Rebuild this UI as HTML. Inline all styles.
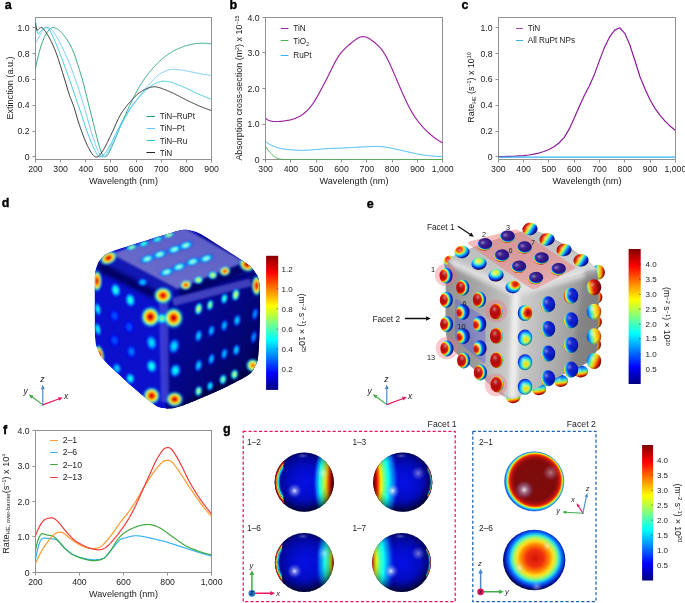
<!DOCTYPE html>
<html><head><meta charset="utf-8"><title>figure</title>
<style>html,body{margin:0;padding:0;background:#fff;}svg{display:block;will-change:transform;}text{-webkit-font-smoothing:antialiased;}</style>
</head><body>
<svg width="685" height="603" viewBox="0 0 685 603">
<rect x="0" y="0" width="685" height="603" fill="#ffffff"/>
<rect x="35.50" y="17.50" width="176.00" height="142.00" fill="none" stroke="#929292" stroke-width="1"/>
<line x1="35.50" y1="159.50" x2="35.50" y2="162.50" stroke="#929292" stroke-width="1"/>
<text x="35.40" y="172.20" font-size="8.70" text-anchor="middle" fill="#222" font-weight="normal" font-family="Liberation Sans, sans-serif" >200</text>
<line x1="60.50" y1="159.50" x2="60.50" y2="162.50" stroke="#929292" stroke-width="1"/>
<text x="60.57" y="172.20" font-size="8.70" text-anchor="middle" fill="#222" font-weight="normal" font-family="Liberation Sans, sans-serif" >300</text>
<line x1="85.50" y1="159.50" x2="85.50" y2="162.50" stroke="#929292" stroke-width="1"/>
<text x="85.74" y="172.20" font-size="8.70" text-anchor="middle" fill="#222" font-weight="normal" font-family="Liberation Sans, sans-serif" >400</text>
<line x1="110.50" y1="159.50" x2="110.50" y2="162.50" stroke="#929292" stroke-width="1"/>
<text x="110.91" y="172.20" font-size="8.70" text-anchor="middle" fill="#222" font-weight="normal" font-family="Liberation Sans, sans-serif" >500</text>
<line x1="136.50" y1="159.50" x2="136.50" y2="162.50" stroke="#929292" stroke-width="1"/>
<text x="136.08" y="172.20" font-size="8.70" text-anchor="middle" fill="#222" font-weight="normal" font-family="Liberation Sans, sans-serif" >600</text>
<line x1="161.50" y1="159.50" x2="161.50" y2="162.50" stroke="#929292" stroke-width="1"/>
<text x="161.25" y="172.20" font-size="8.70" text-anchor="middle" fill="#222" font-weight="normal" font-family="Liberation Sans, sans-serif" >700</text>
<line x1="186.50" y1="159.50" x2="186.50" y2="162.50" stroke="#929292" stroke-width="1"/>
<text x="186.42" y="172.20" font-size="8.70" text-anchor="middle" fill="#222" font-weight="normal" font-family="Liberation Sans, sans-serif" >800</text>
<line x1="211.50" y1="159.50" x2="211.50" y2="162.50" stroke="#929292" stroke-width="1"/>
<text x="211.59" y="172.20" font-size="8.70" text-anchor="middle" fill="#222" font-weight="normal" font-family="Liberation Sans, sans-serif" >900</text>
<line x1="32.50" y1="156.50" x2="35.50" y2="156.50" stroke="#929292" stroke-width="1"/>
<text x="29.50" y="160.10" font-size="8.70" text-anchor="end" fill="#222" font-weight="normal" font-family="Liberation Sans, sans-serif" >0</text>
<line x1="32.50" y1="131.50" x2="35.50" y2="131.50" stroke="#929292" stroke-width="1"/>
<text x="29.50" y="134.20" font-size="8.70" text-anchor="end" fill="#222" font-weight="normal" font-family="Liberation Sans, sans-serif" >0.2</text>
<line x1="32.50" y1="105.50" x2="35.50" y2="105.50" stroke="#929292" stroke-width="1"/>
<text x="29.50" y="108.30" font-size="8.70" text-anchor="end" fill="#222" font-weight="normal" font-family="Liberation Sans, sans-serif" >0.4</text>
<line x1="32.50" y1="79.50" x2="35.50" y2="79.50" stroke="#929292" stroke-width="1"/>
<text x="29.50" y="82.40" font-size="8.70" text-anchor="end" fill="#222" font-weight="normal" font-family="Liberation Sans, sans-serif" >0.6</text>
<line x1="32.50" y1="53.50" x2="35.50" y2="53.50" stroke="#929292" stroke-width="1"/>
<text x="29.50" y="56.50" font-size="8.70" text-anchor="end" fill="#222" font-weight="normal" font-family="Liberation Sans, sans-serif" >0.8</text>
<line x1="32.50" y1="27.50" x2="35.50" y2="27.50" stroke="#929292" stroke-width="1"/>
<text x="29.50" y="30.60" font-size="8.70" text-anchor="end" fill="#222" font-weight="normal" font-family="Liberation Sans, sans-serif" >1.0</text>
<text x="123.50" y="184.20" font-size="9.10" text-anchor="middle" fill="#222" font-weight="normal" font-family="Liberation Sans, sans-serif" >Wavelength (nm)</text>
<text transform="translate(12.5,88) rotate(-90)" font-size="9.1" text-anchor="middle" fill="#222" font-family="Liberation Sans, sans-serif">Extinction (a.u.)</text>
<clipPath id="clipa"><rect x="35.50" y="17.50" width="176.00" height="142.00"/></clipPath><g clip-path="url(#clipa)">
<path d="M35.40 68.94 L35.99 66.03 L36.58 63.23 L37.17 60.55 L37.76 58.00 L38.35 55.56 L38.94 53.25 L39.52 51.07 L40.11 49.02 L40.70 47.10 L41.29 45.27 L41.88 43.54 L42.47 41.90 L43.06 40.35 L43.65 38.90 L44.24 37.55 L44.83 36.30 L45.42 35.14 L46.01 34.09 L46.60 33.14 L47.19 32.25 L47.77 31.42 L48.36 30.65 L48.95 29.94 L49.54 29.31 L50.13 28.76 L50.72 28.30 L51.31 27.93 L51.90 27.67 L52.49 27.52 L53.08 27.48 L53.67 27.55 L54.26 27.67 L54.85 27.82 L55.43 28.02 L56.02 28.26 L56.61 28.54 L57.20 28.87 L57.79 29.24 L58.38 29.66 L58.97 30.12 L59.56 30.63 L60.15 31.19 L60.74 31.79 L61.33 32.43 L61.92 33.08 L62.51 33.75 L63.10 34.44 L63.68 35.16 L64.27 35.90 L64.86 36.67 L65.45 37.47 L66.04 38.30 L66.63 39.15 L67.22 40.04 L67.81 40.96 L68.40 41.91 L68.99 42.89 L69.58 43.90 L70.17 44.95 L70.76 46.05 L71.35 47.21 L71.93 48.44 L72.52 49.73 L73.11 51.11 L73.70 52.58 L74.29 54.14 L74.88 55.77 L75.47 57.46 L76.06 59.21 L76.65 60.99 L77.24 62.82 L77.83 64.68 L78.42 66.57 L79.01 68.48 L79.59 70.40 L80.18 72.30 L80.77 74.20 L81.36 76.14 L81.95 78.12 L82.54 80.19 L83.13 82.35 L83.72 84.63 L84.31 86.98 L84.90 89.36 L85.49 91.76 L86.08 94.17 L86.67 96.56 L87.26 98.94 L87.84 101.28 L88.43 103.61 L89.02 105.94 L89.61 108.26 L90.20 110.59 L90.79 112.93 L91.38 115.28 L91.97 117.65 L92.56 120.04 L93.15 122.44 L93.74 124.84 L94.33 127.24 L94.92 129.62 L95.50 131.96 L96.09 134.25 L96.68 136.52 L97.27 138.77 L97.86 141.00 L98.45 143.23 L99.04 145.35 L99.63 147.32 L100.22 149.17 L100.81 150.92 L101.40 152.61 L101.99 154.07 L102.58 155.19 L103.17 155.98 L103.75 156.46 L104.34 156.66 L104.93 156.71 L105.52 156.63 L106.11 156.40 L106.70 156.00 L107.29 155.42 L107.88 154.65 L108.47 153.66 L109.06 152.47 L109.65 151.25 L110.24 150.02 L110.83 148.78 L111.42 147.52 L112.00 146.25 L112.59 144.95 L113.18 143.64 L113.77 142.30 L114.36 140.93 L114.95 139.53 L115.54 138.13 L116.13 136.71 L116.72 135.28 L117.31 133.85 L117.90 132.42 L118.49 130.99 L119.08 129.56 L119.66 128.14 L120.25 126.72 L120.84 125.31 L121.43 123.92 L122.02 122.53 L122.61 121.17 L123.20 119.81 L123.79 118.46 L124.38 117.13 L124.97 115.80 L125.56 114.48 L126.15 113.18 L126.74 111.88 L127.33 110.59 L127.91 109.31 L128.50 108.03 L129.09 106.77 L129.68 105.51 L130.27 104.27 L130.86 103.03 L131.45 101.79 L132.04 100.57 L132.63 99.35 L133.22 98.15 L133.81 96.97 L134.40 95.81 L134.99 94.67 L135.57 93.54 L136.16 92.43 L136.75 91.34 L137.34 90.27 L137.93 89.22 L138.52 88.19 L139.11 87.17 L139.70 86.18 L140.29 85.20 L140.88 84.24 L141.47 83.30 L142.06 82.38 L142.65 81.47 L143.24 80.59 L143.82 79.72 L144.41 78.86 L145.00 78.03 L145.59 77.20 L146.18 76.40 L146.77 75.60 L147.36 74.83 L147.95 74.06 L148.54 73.31 L149.13 72.57 L149.72 71.85 L150.31 71.14 L150.90 70.44 L151.49 69.75 L152.07 69.07 L152.66 68.40 L153.25 67.74 L153.84 67.09 L154.43 66.44 L155.02 65.80 L155.61 65.17 L156.20 64.54 L156.79 63.93 L157.38 63.33 L157.97 62.74 L158.56 62.16 L159.15 61.59 L159.73 61.03 L160.32 60.49 L160.91 59.96 L161.50 59.44 L162.09 58.94 L162.68 58.45 L163.27 57.96 L163.86 57.49 L164.45 57.02 L165.04 56.56 L165.63 56.11 L166.22 55.67 L166.81 55.24 L167.40 54.82 L167.98 54.40 L168.57 54.00 L169.16 53.60 L169.75 53.22 L170.34 52.84 L170.93 52.47 L171.52 52.12 L172.11 51.77 L172.70 51.43 L173.29 51.10 L173.88 50.79 L174.47 50.48 L175.06 50.18 L175.64 49.88 L176.23 49.59 L176.82 49.31 L177.41 49.03 L178.00 48.76 L178.59 48.50 L179.18 48.24 L179.77 47.99 L180.36 47.74 L180.95 47.51 L181.54 47.28 L182.13 47.05 L182.72 46.84 L183.31 46.63 L183.89 46.42 L184.48 46.23 L185.07 46.04 L185.66 45.85 L186.25 45.68 L186.84 45.51 L187.43 45.35 L188.02 45.19 L188.61 45.03 L189.20 44.89 L189.79 44.74 L190.38 44.61 L190.97 44.48 L191.56 44.35 L192.14 44.23 L192.73 44.12 L193.32 44.01 L193.91 43.91 L194.50 43.81 L195.09 43.72 L195.68 43.64 L196.27 43.56 L196.86 43.49 L197.45 43.43 L198.04 43.38 L198.63 43.33 L199.22 43.28 L199.80 43.25 L200.39 43.22 L200.98 43.20 L201.57 43.18 L202.16 43.18 L202.75 43.18 L203.34 43.18 L203.93 43.19 L204.52 43.21 L205.11 43.24 L205.70 43.27 L206.29 43.31 L206.88 43.35 L207.47 43.40 L208.05 43.46 L208.64 43.53 L209.23 43.60 L209.82 43.68 L210.41 43.76 L211.00 43.85 L211.59 43.95" fill="none" stroke="#1e9e78" stroke-width="0.90" stroke-linejoin="round" stroke-linecap="butt"/>
<path d="M35.40 43.69 L35.99 42.64 L36.58 41.58 L37.17 40.51 L37.76 39.44 L38.35 38.37 L38.94 37.27 L39.52 36.14 L40.11 35.01 L40.70 33.88 L41.29 32.77 L41.88 31.69 L42.47 30.74 L43.06 29.93 L43.65 29.25 L44.24 28.70 L44.83 28.26 L45.42 27.94 L46.01 27.71 L46.60 27.56 L47.19 27.50 L47.77 27.52 L48.36 27.61 L48.95 27.78 L49.54 28.04 L50.13 28.38 L50.72 28.80 L51.31 29.30 L51.90 29.89 L52.49 30.56 L53.08 31.33 L53.67 32.17 L54.26 33.06 L54.85 33.96 L55.43 34.88 L56.02 35.81 L56.61 36.76 L57.20 37.74 L57.79 38.74 L58.38 39.76 L58.97 40.81 L59.56 41.90 L60.15 43.01 L60.74 44.16 L61.33 45.35 L61.92 46.57 L62.51 47.80 L63.10 49.04 L63.68 50.30 L64.27 51.56 L64.86 52.85 L65.45 54.14 L66.04 55.46 L66.63 56.80 L67.22 58.17 L67.81 59.56 L68.40 60.98 L68.99 62.41 L69.58 63.85 L70.17 65.32 L70.76 66.81 L71.35 68.31 L71.93 69.85 L72.52 71.40 L73.11 72.99 L73.70 74.61 L74.29 76.26 L74.88 77.93 L75.47 79.62 L76.06 81.33 L76.65 83.07 L77.24 84.83 L77.83 86.60 L78.42 88.40 L79.01 90.21 L79.59 92.04 L80.18 93.89 L80.77 95.76 L81.36 97.64 L81.95 99.54 L82.54 101.46 L83.13 103.39 L83.72 105.34 L84.31 107.30 L84.90 109.29 L85.49 111.33 L86.08 113.42 L86.67 115.55 L87.26 117.69 L87.84 119.85 L88.43 122.00 L89.02 124.12 L89.61 126.22 L90.20 128.27 L90.79 130.27 L91.38 132.20 L91.97 134.07 L92.56 135.90 L93.15 137.68 L93.74 139.42 L94.33 141.13 L94.92 142.82 L95.50 144.49 L96.09 146.14 L96.68 147.69 L97.27 149.14 L97.86 150.49 L98.45 151.73 L99.04 152.88 L99.63 153.93 L100.22 154.88 L100.81 155.67 L101.40 156.20 L101.99 156.50 L102.58 156.61 L103.17 156.59 L103.75 156.51 L104.34 156.36 L104.93 156.07 L105.52 155.61 L106.11 154.93 L106.70 154.00 L107.29 153.01 L107.88 152.00 L108.47 150.97 L109.06 149.92 L109.65 148.84 L110.24 147.74 L110.83 146.62 L111.42 145.49 L112.00 144.33 L112.59 143.16 L113.18 141.96 L113.77 140.75 L114.36 139.51 L114.95 138.26 L115.54 136.99 L116.13 135.72 L116.72 134.44 L117.31 133.17 L117.90 131.90 L118.49 130.65 L119.08 129.41 L119.66 128.19 L120.25 127.00 L120.84 125.84 L121.43 124.69 L122.02 123.55 L122.61 122.42 L123.20 121.31 L123.79 120.20 L124.38 119.11 L124.97 118.03 L125.56 116.97 L126.15 115.92 L126.74 114.88 L127.33 113.87 L127.91 112.87 L128.50 111.89 L129.09 110.93 L129.68 109.99 L130.27 109.07 L130.86 108.17 L131.45 107.29 L132.04 106.43 L132.63 105.58 L133.22 104.74 L133.81 103.90 L134.40 103.08 L134.99 102.26 L135.57 101.45 L136.16 100.65 L136.75 99.86 L137.34 99.08 L137.93 98.30 L138.52 97.53 L139.11 96.77 L139.70 96.01 L140.29 95.26 L140.88 94.51 L141.47 93.77 L142.06 93.02 L142.65 92.28 L143.24 91.55 L143.82 90.81 L144.41 90.08 L145.00 89.36 L145.59 88.63 L146.18 87.91 L146.77 87.19 L147.36 86.48 L147.95 85.77 L148.54 85.07 L149.13 84.39 L149.72 83.71 L150.31 83.05 L150.90 82.39 L151.49 81.75 L152.07 81.11 L152.66 80.48 L153.25 79.86 L153.84 79.25 L154.43 78.64 L155.02 78.04 L155.61 77.46 L156.20 76.91 L156.79 76.38 L157.38 75.89 L157.97 75.42 L158.56 74.97 L159.15 74.55 L159.73 74.15 L160.32 73.77 L160.91 73.40 L161.50 73.06 L162.09 72.74 L162.68 72.43 L163.27 72.13 L163.86 71.84 L164.45 71.56 L165.04 71.29 L165.63 71.03 L166.22 70.79 L166.81 70.57 L167.40 70.35 L167.98 70.16 L168.57 69.98 L169.16 69.82 L169.75 69.68 L170.34 69.56 L170.93 69.46 L171.52 69.39 L172.11 69.34 L172.70 69.31 L173.29 69.31 L173.88 69.33 L174.47 69.37 L175.06 69.41 L175.64 69.45 L176.23 69.50 L176.82 69.55 L177.41 69.60 L178.00 69.66 L178.59 69.72 L179.18 69.78 L179.77 69.85 L180.36 69.92 L180.95 69.99 L181.54 70.07 L182.13 70.15 L182.72 70.24 L183.31 70.33 L183.89 70.42 L184.48 70.52 L185.07 70.63 L185.66 70.74 L186.25 70.85 L186.84 70.97 L187.43 71.09 L188.02 71.21 L188.61 71.33 L189.20 71.46 L189.79 71.58 L190.38 71.70 L190.97 71.83 L191.56 71.96 L192.14 72.08 L192.73 72.21 L193.32 72.33 L193.91 72.46 L194.50 72.58 L195.09 72.70 L195.68 72.82 L196.27 72.94 L196.86 73.06 L197.45 73.18 L198.04 73.29 L198.63 73.40 L199.22 73.51 L199.80 73.62 L200.39 73.73 L200.98 73.83 L201.57 73.94 L202.16 74.05 L202.75 74.16 L203.34 74.26 L203.93 74.37 L204.52 74.47 L205.11 74.58 L205.70 74.68 L206.29 74.78 L206.88 74.89 L207.47 74.99 L208.05 75.09 L208.64 75.19 L209.23 75.29 L209.82 75.39 L210.41 75.48 L211.00 75.58 L211.59 75.67" fill="none" stroke="#66c6fa" stroke-width="0.90" stroke-linejoin="round" stroke-linecap="butt"/>
<path d="M35.40 19.73 L35.99 25.94 L36.58 29.63 L37.17 32.10 L37.76 33.68 L38.35 34.03 L38.94 33.38 L39.52 32.55 L40.11 31.70 L40.70 30.97 L41.29 30.42 L41.88 29.89 L42.47 29.37 L43.06 28.88 L43.65 28.43 L44.24 28.04 L44.83 27.73 L45.42 27.51 L46.01 27.43 L46.60 27.49 L47.19 27.69 L47.77 28.05 L48.36 28.56 L48.95 29.22 L49.54 30.03 L50.13 31.00 L50.72 32.12 L51.31 33.32 L51.90 34.53 L52.49 35.77 L53.08 37.03 L53.67 38.32 L54.26 39.63 L54.85 40.97 L55.43 42.34 L56.02 43.74 L56.61 45.17 L57.20 46.63 L57.79 48.13 L58.38 49.64 L58.97 51.15 L59.56 52.65 L60.15 54.16 L60.74 55.68 L61.33 57.20 L61.92 58.74 L62.51 60.29 L63.10 61.86 L63.68 63.45 L64.27 65.06 L64.86 66.67 L65.45 68.29 L66.04 69.90 L66.63 71.53 L67.22 73.17 L67.81 74.82 L68.40 76.48 L68.99 78.16 L69.58 79.86 L70.17 81.58 L70.76 83.31 L71.35 85.04 L71.93 86.78 L72.52 88.52 L73.11 90.26 L73.70 92.00 L74.29 93.73 L74.88 95.46 L75.47 97.18 L76.06 98.88 L76.65 100.59 L77.24 102.28 L77.83 103.98 L78.42 105.67 L79.01 107.37 L79.59 109.07 L80.18 110.77 L80.77 112.48 L81.36 114.22 L81.95 116.00 L82.54 117.81 L83.13 119.64 L83.72 121.47 L84.31 123.30 L84.90 125.11 L85.49 126.91 L86.08 128.67 L86.67 130.38 L87.26 132.03 L87.84 133.62 L88.43 135.17 L89.02 136.67 L89.61 138.15 L90.20 139.60 L90.79 141.03 L91.38 142.46 L91.97 143.90 L92.56 145.31 L93.15 146.68 L93.74 147.99 L94.33 149.26 L94.92 150.46 L95.50 151.62 L96.09 152.72 L96.68 153.76 L97.27 154.74 L97.86 155.51 L98.45 156.07 L99.04 156.44 L99.63 156.65 L100.22 156.74 L100.81 156.73 L101.40 156.63 L101.99 156.42 L102.58 156.07 L103.17 155.56 L103.75 154.87 L104.34 154.11 L104.93 153.33 L105.52 152.52 L106.11 151.68 L106.70 150.82 L107.29 149.93 L107.88 149.00 L108.47 148.05 L109.06 147.06 L109.65 146.04 L110.24 144.98 L110.83 143.88 L111.42 142.74 L112.00 141.58 L112.59 140.40 L113.18 139.21 L113.77 138.00 L114.36 136.78 L114.95 135.56 L115.54 134.34 L116.13 133.12 L116.72 131.92 L117.31 130.73 L117.90 129.56 L118.49 128.41 L119.08 127.29 L119.66 126.21 L120.25 125.13 L120.84 124.06 L121.43 122.99 L122.02 121.93 L122.61 120.88 L123.20 119.84 L123.79 118.80 L124.38 117.78 L124.97 116.77 L125.56 115.77 L126.15 114.78 L126.74 113.81 L127.33 112.85 L127.91 111.90 L128.50 110.98 L129.09 110.07 L129.68 109.18 L130.27 108.31 L130.86 107.46 L131.45 106.63 L132.04 105.83 L132.63 105.04 L133.22 104.27 L133.81 103.51 L134.40 102.77 L134.99 102.05 L135.57 101.34 L136.16 100.64 L136.75 99.95 L137.34 99.28 L137.93 98.62 L138.52 97.96 L139.11 97.32 L139.70 96.68 L140.29 96.05 L140.88 95.43 L141.47 94.81 L142.06 94.20 L142.65 93.60 L143.24 93.00 L143.82 92.41 L144.41 91.83 L145.00 91.26 L145.59 90.70 L146.18 90.14 L146.77 89.59 L147.36 89.05 L147.95 88.53 L148.54 88.02 L149.13 87.54 L149.72 87.07 L150.31 86.62 L150.90 86.18 L151.49 85.76 L152.07 85.36 L152.66 84.98 L153.25 84.61 L153.84 84.26 L154.43 83.92 L155.02 83.59 L155.61 83.29 L156.20 83.00 L156.79 82.73 L157.38 82.48 L157.97 82.25 L158.56 82.04 L159.15 81.86 L159.73 81.70 L160.32 81.56 L160.91 81.44 L161.50 81.35 L162.09 81.28 L162.68 81.24 L163.27 81.23 L163.86 81.24 L164.45 81.27 L165.04 81.31 L165.63 81.35 L166.22 81.41 L166.81 81.47 L167.40 81.55 L167.98 81.64 L168.57 81.73 L169.16 81.84 L169.75 81.96 L170.34 82.10 L170.93 82.24 L171.52 82.41 L172.11 82.58 L172.70 82.77 L173.29 82.98 L173.88 83.20 L174.47 83.43 L175.06 83.66 L175.64 83.89 L176.23 84.12 L176.82 84.36 L177.41 84.59 L178.00 84.82 L178.59 85.06 L179.18 85.29 L179.77 85.53 L180.36 85.77 L180.95 86.01 L181.54 86.25 L182.13 86.50 L182.72 86.75 L183.31 87.00 L183.89 87.25 L184.48 87.51 L185.07 87.76 L185.66 88.02 L186.25 88.29 L186.84 88.56 L187.43 88.83 L188.02 89.10 L188.61 89.37 L189.20 89.65 L189.79 89.92 L190.38 90.20 L190.97 90.48 L191.56 90.76 L192.14 91.04 L192.73 91.31 L193.32 91.59 L193.91 91.87 L194.50 92.14 L195.09 92.42 L195.68 92.69 L196.27 92.96 L196.86 93.23 L197.45 93.50 L198.04 93.76 L198.63 94.03 L199.22 94.28 L199.80 94.54 L200.39 94.80 L200.98 95.05 L201.57 95.30 L202.16 95.55 L202.75 95.80 L203.34 96.05 L203.93 96.30 L204.52 96.54 L205.11 96.79 L205.70 97.03 L206.29 97.27 L206.88 97.51 L207.47 97.75 L208.05 97.98 L208.64 98.22 L209.23 98.45 L209.82 98.68 L210.41 98.91 L211.00 99.14 L211.59 99.37" fill="none" stroke="#2fc4d8" stroke-width="0.90" stroke-linejoin="round" stroke-linecap="butt"/>
<path d="M35.40 22.97 L35.99 26.76 L36.58 29.06 L37.17 30.33 L37.76 30.06 L38.35 29.39 L38.94 28.74 L39.52 28.27 L40.11 27.83 L40.70 27.54 L41.29 27.52 L41.88 27.70 L42.47 28.05 L43.06 28.55 L43.65 29.17 L44.24 29.88 L44.83 30.67 L45.42 31.51 L46.01 32.38 L46.60 33.27 L47.19 34.19 L47.77 35.13 L48.36 36.10 L48.95 37.11 L49.54 38.16 L50.13 39.27 L50.72 40.42 L51.31 41.63 L51.90 42.90 L52.49 44.18 L53.08 45.49 L53.67 46.82 L54.26 48.20 L54.85 49.61 L55.43 51.08 L56.02 52.60 L56.61 54.19 L57.20 55.84 L57.79 57.58 L58.38 59.38 L58.97 61.20 L59.56 63.03 L60.15 64.88 L60.74 66.74 L61.33 68.62 L61.92 70.50 L62.51 72.40 L63.10 74.30 L63.68 76.20 L64.27 78.13 L64.86 80.08 L65.45 82.05 L66.04 84.03 L66.63 86.01 L67.22 87.98 L67.81 89.94 L68.40 91.87 L68.99 93.78 L69.58 95.59 L70.17 97.23 L70.76 98.75 L71.35 100.20 L71.93 101.63 L72.52 103.10 L73.11 104.64 L73.70 106.32 L74.29 108.15 L74.88 110.08 L75.47 112.07 L76.06 114.10 L76.65 116.13 L77.24 118.14 L77.83 120.09 L78.42 121.96 L79.01 123.75 L79.59 125.50 L80.18 127.22 L80.77 128.91 L81.36 130.56 L81.95 132.19 L82.54 133.78 L83.13 135.36 L83.72 136.90 L84.31 138.43 L84.90 139.92 L85.49 141.34 L86.08 142.70 L86.67 144.01 L87.26 145.26 L87.84 146.45 L88.43 147.61 L89.02 148.72 L89.61 149.79 L90.20 150.83 L90.79 151.85 L91.38 152.81 L91.97 153.68 L92.56 154.46 L93.15 155.14 L93.74 155.73 L94.33 156.20 L94.92 156.58 L95.50 156.83 L96.09 156.97 L96.68 156.99 L97.27 156.90 L97.86 156.68 L98.45 156.35 L99.04 155.89 L99.63 155.32 L100.22 154.63 L100.81 153.81 L101.40 152.93 L101.99 152.03 L102.58 151.12 L103.17 150.19 L103.75 149.22 L104.34 148.21 L104.93 147.15 L105.52 146.04 L106.11 144.87 L106.70 143.68 L107.29 142.49 L107.88 141.29 L108.47 140.09 L109.06 138.88 L109.65 137.66 L110.24 136.44 L110.83 135.21 L111.42 133.98 L112.00 132.74 L112.59 131.49 L113.18 130.20 L113.77 128.88 L114.36 127.55 L114.95 126.21 L115.54 124.87 L116.13 123.53 L116.72 122.22 L117.31 120.94 L117.90 119.69 L118.49 118.49 L119.08 117.34 L119.66 116.25 L120.25 115.21 L120.84 114.21 L121.43 113.25 L122.02 112.34 L122.61 111.46 L123.20 110.60 L123.79 109.78 L124.38 108.97 L124.97 108.18 L125.56 107.41 L126.15 106.65 L126.74 105.89 L127.33 105.14 L127.91 104.40 L128.50 103.68 L129.09 102.97 L129.68 102.27 L130.27 101.60 L130.86 100.93 L131.45 100.27 L132.04 99.63 L132.63 98.99 L133.22 98.36 L133.81 97.74 L134.40 97.13 L134.99 96.54 L135.57 95.97 L136.16 95.41 L136.75 94.87 L137.34 94.35 L137.93 93.86 L138.52 93.39 L139.11 92.94 L139.70 92.51 L140.29 92.09 L140.88 91.70 L141.47 91.33 L142.06 90.97 L142.65 90.63 L143.24 90.31 L143.82 90.00 L144.41 89.70 L145.00 89.41 L145.59 89.14 L146.18 88.87 L146.77 88.62 L147.36 88.38 L147.95 88.16 L148.54 87.94 L149.13 87.74 L149.72 87.56 L150.31 87.39 L150.90 87.24 L151.49 87.11 L152.07 87.00 L152.66 86.91 L153.25 86.84 L153.84 86.80 L154.43 86.79 L155.02 86.81 L155.61 86.85 L156.20 86.94 L156.79 87.04 L157.38 87.16 L157.97 87.29 L158.56 87.44 L159.15 87.59 L159.73 87.76 L160.32 87.94 L160.91 88.13 L161.50 88.34 L162.09 88.56 L162.68 88.79 L163.27 89.02 L163.86 89.25 L164.45 89.49 L165.04 89.72 L165.63 89.95 L166.22 90.19 L166.81 90.43 L167.40 90.67 L167.98 90.92 L168.57 91.16 L169.16 91.41 L169.75 91.67 L170.34 91.92 L170.93 92.18 L171.52 92.45 L172.11 92.72 L172.70 93.00 L173.29 93.28 L173.88 93.57 L174.47 93.86 L175.06 94.15 L175.64 94.45 L176.23 94.75 L176.82 95.06 L177.41 95.36 L178.00 95.67 L178.59 95.98 L179.18 96.29 L179.77 96.60 L180.36 96.91 L180.95 97.22 L181.54 97.53 L182.13 97.84 L182.72 98.15 L183.31 98.45 L183.89 98.75 L184.48 99.06 L185.07 99.35 L185.66 99.65 L186.25 99.94 L186.84 100.23 L187.43 100.51 L188.02 100.80 L188.61 101.08 L189.20 101.36 L189.79 101.64 L190.38 101.92 L190.97 102.20 L191.56 102.48 L192.14 102.76 L192.73 103.03 L193.32 103.31 L193.91 103.58 L194.50 103.85 L195.09 104.11 L195.68 104.38 L196.27 104.65 L196.86 104.91 L197.45 105.17 L198.04 105.43 L198.63 105.68 L199.22 105.94 L199.80 106.19 L200.39 106.44 L200.98 106.68 L201.57 106.92 L202.16 107.16 L202.75 107.40 L203.34 107.63 L203.93 107.86 L204.52 108.09 L205.11 108.32 L205.70 108.54 L206.29 108.76 L206.88 108.98 L207.47 109.19 L208.05 109.40 L208.64 109.62 L209.23 109.82 L209.82 110.03 L210.41 110.24 L211.00 110.44 L211.59 110.64" fill="none" stroke="#222222" stroke-width="0.90" stroke-linejoin="round" stroke-linecap="butt"/>
</g>
<line x1="146.50" y1="116.50" x2="155.00" y2="116.50" stroke="#1e9e78" stroke-width="1.0"/>
<text x="159.80" y="119.15" font-size="8.20" text-anchor="start" fill="#222" font-weight="normal" font-family="Liberation Sans, sans-serif" >TiN–RuPt</text>
<line x1="146.50" y1="128.50" x2="155.00" y2="128.50" stroke="#66c6fa" stroke-width="1.0"/>
<text x="159.80" y="131.45" font-size="8.20" text-anchor="start" fill="#222" font-weight="normal" font-family="Liberation Sans, sans-serif" >TiN–Pt</text>
<line x1="146.50" y1="140.50" x2="155.00" y2="140.50" stroke="#2fc4d8" stroke-width="1.0"/>
<text x="159.80" y="143.85" font-size="8.20" text-anchor="start" fill="#222" font-weight="normal" font-family="Liberation Sans, sans-serif" >TiN–Ru</text>
<line x1="146.50" y1="152.50" x2="155.00" y2="152.50" stroke="#222" stroke-width="1.0"/>
<text x="159.80" y="155.95" font-size="8.20" text-anchor="start" fill="#222" font-weight="normal" font-family="Liberation Sans, sans-serif" >TiN</text>
<text x="4.70" y="8.80" font-size="12.50" text-anchor="start" fill="#000" font-weight="bold" font-family="Liberation Sans, sans-serif"  stroke="#000" stroke-width="0.35">a</text>
<rect x="265.50" y="17.50" width="177.00" height="142.00" fill="none" stroke="#929292" stroke-width="1"/>
<line x1="265.50" y1="159.50" x2="265.50" y2="162.50" stroke="#929292" stroke-width="1"/>
<text x="265.60" y="172.20" font-size="8.70" text-anchor="middle" fill="#222" font-weight="normal" font-family="Liberation Sans, sans-serif" >300</text>
<line x1="290.50" y1="159.50" x2="290.50" y2="162.50" stroke="#929292" stroke-width="1"/>
<text x="290.90" y="172.20" font-size="8.70" text-anchor="middle" fill="#222" font-weight="normal" font-family="Liberation Sans, sans-serif" >400</text>
<line x1="316.50" y1="159.50" x2="316.50" y2="162.50" stroke="#929292" stroke-width="1"/>
<text x="316.20" y="172.20" font-size="8.70" text-anchor="middle" fill="#222" font-weight="normal" font-family="Liberation Sans, sans-serif" >500</text>
<line x1="341.50" y1="159.50" x2="341.50" y2="162.50" stroke="#929292" stroke-width="1"/>
<text x="341.50" y="172.20" font-size="8.70" text-anchor="middle" fill="#222" font-weight="normal" font-family="Liberation Sans, sans-serif" >600</text>
<line x1="366.50" y1="159.50" x2="366.50" y2="162.50" stroke="#929292" stroke-width="1"/>
<text x="366.80" y="172.20" font-size="8.70" text-anchor="middle" fill="#222" font-weight="normal" font-family="Liberation Sans, sans-serif" >700</text>
<line x1="392.50" y1="159.50" x2="392.50" y2="162.50" stroke="#929292" stroke-width="1"/>
<text x="392.10" y="172.20" font-size="8.70" text-anchor="middle" fill="#222" font-weight="normal" font-family="Liberation Sans, sans-serif" >800</text>
<line x1="417.50" y1="159.50" x2="417.50" y2="162.50" stroke="#929292" stroke-width="1"/>
<text x="417.40" y="172.20" font-size="8.70" text-anchor="middle" fill="#222" font-weight="normal" font-family="Liberation Sans, sans-serif" >900</text>
<line x1="442.50" y1="159.50" x2="442.50" y2="162.50" stroke="#929292" stroke-width="1"/>
<text x="442.70" y="172.20" font-size="8.70" text-anchor="middle" fill="#222" font-weight="normal" font-family="Liberation Sans, sans-serif" >1,000</text>
<line x1="262.50" y1="159.50" x2="265.50" y2="159.50" stroke="#929292" stroke-width="1"/>
<text x="259.50" y="162.60" font-size="8.70" text-anchor="end" fill="#222" font-weight="normal" font-family="Liberation Sans, sans-serif" >0</text>
<line x1="262.50" y1="124.50" x2="265.50" y2="124.50" stroke="#929292" stroke-width="1"/>
<text x="259.50" y="127.10" font-size="8.70" text-anchor="end" fill="#222" font-weight="normal" font-family="Liberation Sans, sans-serif" >1.0</text>
<line x1="262.50" y1="88.50" x2="265.50" y2="88.50" stroke="#929292" stroke-width="1"/>
<text x="259.50" y="91.60" font-size="8.70" text-anchor="end" fill="#222" font-weight="normal" font-family="Liberation Sans, sans-serif" >2.0</text>
<line x1="262.50" y1="52.50" x2="265.50" y2="52.50" stroke="#929292" stroke-width="1"/>
<text x="259.50" y="56.10" font-size="8.70" text-anchor="end" fill="#222" font-weight="normal" font-family="Liberation Sans, sans-serif" >3.0</text>
<line x1="262.50" y1="17.50" x2="265.50" y2="17.50" stroke="#929292" stroke-width="1"/>
<text x="259.50" y="20.60" font-size="8.70" text-anchor="end" fill="#222" font-weight="normal" font-family="Liberation Sans, sans-serif" >4.0</text>
<text x="354.00" y="184.20" font-size="9.10" text-anchor="middle" fill="#222" font-weight="normal" font-family="Liberation Sans, sans-serif" >Wavelength (nm)</text>
<text transform="translate(242.3,88.1) rotate(-90)" textLength="145" lengthAdjust="spacingAndGlyphs" font-size="9.1" text-anchor="middle" fill="#222" font-family="Liberation Sans, sans-serif">Absorption cross-section (m<tspan font-size="5.4" dy="-3">2</tspan><tspan dy="3">) x 10</tspan><tspan font-size="5.4" dy="-3">−15</tspan></text>
<clipPath id="clipb"><rect x="265.50" y="16.50" width="178.00" height="144.00"/></clipPath><g clip-path="url(#clipb)">
<path d="M265.60 146.37 L266.19 147.29 L266.78 148.19 L267.38 149.05 L267.97 149.87 L268.56 150.66 L269.15 151.40 L269.75 152.10 L270.34 152.79 L270.93 153.44 L271.52 154.06 L272.12 154.65 L272.71 155.19 L273.30 155.68 L273.89 156.15 L274.48 156.60 L275.08 157.02 L275.67 157.40 L276.26 157.74 L276.85 158.02 L277.45 158.27 L278.04 158.50 L278.63 158.71 L279.22 158.90 L279.82 159.06 L280.41 159.17 L281.00 159.24 L281.59 159.29 L282.18 159.34 L282.78 159.39 L283.37 159.42 L283.96 159.45 L284.55 159.48 L285.15 159.49 L285.74 159.50 L286.33 159.50 L286.92 159.50 L287.52 159.50 L288.11 159.50 L288.70 159.50 L289.29 159.50 L289.88 159.50 L290.48 159.50 L291.07 159.50 L291.66 159.50 L292.25 159.50 L292.85 159.50 L293.44 159.50 L294.03 159.50 L294.62 159.50 L295.22 159.50 L295.81 159.50 L296.40 159.50 L296.99 159.50 L297.58 159.50 L298.18 159.50 L298.77 159.50 L299.36 159.50 L299.95 159.50 L300.55 159.50 L301.14 159.50 L301.73 159.50 L302.32 159.50 L302.92 159.50 L303.51 159.50 L304.10 159.50 L304.69 159.50 L305.28 159.50 L305.88 159.50 L306.47 159.50 L307.06 159.50 L307.65 159.50 L308.25 159.50 L308.84 159.50 L309.43 159.50 L310.02 159.50 L310.62 159.50 L311.21 159.50 L311.80 159.50 L312.39 159.50 L312.98 159.50 L313.58 159.50 L314.17 159.50 L314.76 159.50 L315.35 159.50 L315.95 159.50 L316.54 159.50 L317.13 159.50 L317.72 159.50 L318.32 159.50 L318.91 159.50 L319.50 159.50 L320.09 159.50 L320.68 159.50 L321.28 159.50 L321.87 159.50 L322.46 159.50 L323.05 159.50 L323.65 159.50 L324.24 159.50 L324.83 159.50 L325.42 159.50 L326.02 159.50 L326.61 159.50 L327.20 159.50 L327.79 159.50 L328.38 159.50 L328.98 159.50 L329.57 159.50 L330.16 159.50 L330.75 159.50 L331.35 159.50 L331.94 159.50 L332.53 159.50 L333.12 159.50 L333.72 159.50 L334.31 159.50 L334.90 159.50 L335.49 159.50 L336.08 159.50 L336.68 159.50 L337.27 159.50 L337.86 159.50 L338.45 159.50 L339.05 159.50 L339.64 159.50 L340.23 159.50 L340.82 159.50 L341.42 159.50 L342.01 159.50 L342.60 159.50 L343.19 159.50 L343.78 159.50 L344.38 159.50 L344.97 159.50 L345.56 159.50 L346.15 159.50 L346.75 159.50 L347.34 159.50 L347.93 159.50 L348.52 159.50 L349.12 159.50 L349.71 159.50 L350.30 159.50 L350.89 159.50 L351.48 159.50 L352.08 159.50 L352.67 159.50 L353.26 159.50 L353.85 159.50 L354.45 159.50 L355.04 159.50 L355.63 159.50 L356.22 159.50 L356.82 159.50 L357.41 159.50 L358.00 159.50 L358.59 159.50 L359.18 159.50 L359.78 159.50 L360.37 159.50 L360.96 159.50 L361.55 159.50 L362.15 159.50 L362.74 159.50 L363.33 159.50 L363.92 159.50 L364.52 159.50 L365.11 159.50 L365.70 159.50 L366.29 159.50 L366.88 159.50 L367.48 159.50 L368.07 159.50 L368.66 159.50 L369.25 159.50 L369.85 159.50 L370.44 159.50 L371.03 159.50 L371.62 159.50 L372.22 159.50 L372.81 159.50 L373.40 159.50 L373.99 159.50 L374.58 159.50 L375.18 159.50 L375.77 159.50 L376.36 159.50 L376.95 159.50 L377.55 159.50 L378.14 159.50 L378.73 159.50 L379.32 159.50 L379.92 159.50 L380.51 159.50 L381.10 159.50 L381.69 159.50 L382.28 159.50 L382.88 159.50 L383.47 159.50 L384.06 159.50 L384.65 159.50 L385.25 159.50 L385.84 159.50 L386.43 159.50 L387.02 159.50 L387.62 159.50 L388.21 159.50 L388.80 159.50 L389.39 159.50 L389.98 159.50 L390.58 159.50 L391.17 159.50 L391.76 159.50 L392.35 159.50 L392.95 159.50 L393.54 159.50 L394.13 159.50 L394.72 159.50 L395.32 159.50 L395.91 159.50 L396.50 159.50 L397.09 159.50 L397.68 159.50 L398.28 159.50 L398.87 159.50 L399.46 159.50 L400.05 159.50 L400.65 159.50 L401.24 159.50 L401.83 159.50 L402.42 159.50 L403.02 159.50 L403.61 159.50 L404.20 159.50 L404.79 159.50 L405.38 159.50 L405.98 159.50 L406.57 159.50 L407.16 159.50 L407.75 159.50 L408.35 159.50 L408.94 159.50 L409.53 159.50 L410.12 159.50 L410.72 159.50 L411.31 159.50 L411.90 159.50 L412.49 159.50 L413.08 159.50 L413.68 159.50 L414.27 159.50 L414.86 159.50 L415.45 159.50 L416.05 159.50 L416.64 159.50 L417.23 159.50 L417.82 159.50 L418.42 159.50 L419.01 159.50 L419.60 159.50 L420.19 159.50 L420.78 159.50 L421.38 159.50 L421.97 159.50 L422.56 159.50 L423.15 159.50 L423.75 159.50 L424.34 159.50 L424.93 159.50 L425.52 159.50 L426.12 159.50 L426.71 159.50 L427.30 159.50 L427.89 159.50 L428.48 159.50 L429.08 159.50 L429.67 159.50 L430.26 159.50 L430.85 159.50 L431.45 159.50 L432.04 159.50 L432.63 159.50 L433.22 159.50 L433.82 159.50 L434.41 159.50 L435.00 159.50 L435.59 159.50 L436.18 159.50 L436.78 159.50 L437.37 159.50 L437.96 159.50 L438.55 159.50 L439.15 159.50 L439.74 159.50 L440.33 159.50 L440.92 159.50 L441.52 159.50 L442.11 159.50 L442.70 159.50" fill="none" stroke="#4caf50" stroke-width="1.00" stroke-linejoin="round" stroke-linecap="butt"/>
<path d="M265.60 141.75 L266.19 142.18 L266.78 142.60 L267.38 143.00 L267.97 143.39 L268.56 143.76 L269.15 144.12 L269.75 144.46 L270.34 144.78 L270.93 145.08 L271.52 145.37 L272.12 145.64 L272.71 145.91 L273.30 146.16 L273.89 146.40 L274.48 146.63 L275.08 146.85 L275.67 147.06 L276.26 147.26 L276.85 147.45 L277.45 147.64 L278.04 147.83 L278.63 148.00 L279.22 148.15 L279.82 148.30 L280.41 148.42 L281.00 148.53 L281.59 148.64 L282.18 148.73 L282.78 148.82 L283.37 148.91 L283.96 149.00 L284.55 149.08 L285.15 149.16 L285.74 149.23 L286.33 149.30 L286.92 149.37 L287.52 149.43 L288.11 149.49 L288.70 149.55 L289.29 149.60 L289.88 149.65 L290.48 149.70 L291.07 149.75 L291.66 149.80 L292.25 149.85 L292.85 149.89 L293.44 149.94 L294.03 149.99 L294.62 150.04 L295.22 150.08 L295.81 150.13 L296.40 150.17 L296.99 150.21 L297.58 150.24 L298.18 150.27 L298.77 150.30 L299.36 150.33 L299.95 150.35 L300.55 150.36 L301.14 150.37 L301.73 150.37 L302.32 150.37 L302.92 150.36 L303.51 150.34 L304.10 150.32 L304.69 150.30 L305.28 150.27 L305.88 150.24 L306.47 150.21 L307.06 150.18 L307.65 150.15 L308.25 150.11 L308.84 150.08 L309.43 150.04 L310.02 150.01 L310.62 149.97 L311.21 149.93 L311.80 149.89 L312.39 149.84 L312.98 149.80 L313.58 149.76 L314.17 149.71 L314.76 149.67 L315.35 149.62 L315.95 149.58 L316.54 149.53 L317.13 149.49 L317.72 149.44 L318.32 149.38 L318.91 149.33 L319.50 149.28 L320.09 149.22 L320.68 149.17 L321.28 149.11 L321.87 149.05 L322.46 149.00 L323.05 148.94 L323.65 148.89 L324.24 148.84 L324.83 148.79 L325.42 148.74 L326.02 148.69 L326.61 148.64 L327.20 148.60 L327.79 148.56 L328.38 148.52 L328.98 148.49 L329.57 148.46 L330.16 148.43 L330.75 148.40 L331.35 148.38 L331.94 148.36 L332.53 148.34 L333.12 148.33 L333.72 148.31 L334.31 148.29 L334.90 148.28 L335.49 148.26 L336.08 148.25 L336.68 148.23 L337.27 148.22 L337.86 148.20 L338.45 148.19 L339.05 148.17 L339.64 148.15 L340.23 148.12 L340.82 148.10 L341.42 148.07 L342.01 148.04 L342.60 148.02 L343.19 147.99 L343.78 147.96 L344.38 147.93 L344.97 147.90 L345.56 147.87 L346.15 147.84 L346.75 147.81 L347.34 147.78 L347.93 147.75 L348.52 147.72 L349.12 147.69 L349.71 147.66 L350.30 147.63 L350.89 147.60 L351.48 147.57 L352.08 147.54 L352.67 147.51 L353.26 147.48 L353.85 147.45 L354.45 147.41 L355.04 147.38 L355.63 147.35 L356.22 147.32 L356.82 147.28 L357.41 147.25 L358.00 147.22 L358.59 147.18 L359.18 147.15 L359.78 147.12 L360.37 147.08 L360.96 147.05 L361.55 147.02 L362.15 146.98 L362.74 146.95 L363.33 146.91 L363.92 146.88 L364.52 146.85 L365.11 146.81 L365.70 146.78 L366.29 146.75 L366.88 146.72 L367.48 146.68 L368.07 146.66 L368.66 146.63 L369.25 146.60 L369.85 146.58 L370.44 146.56 L371.03 146.54 L371.62 146.52 L372.22 146.50 L372.81 146.48 L373.40 146.46 L373.99 146.45 L374.58 146.43 L375.18 146.42 L375.77 146.41 L376.36 146.42 L376.95 146.42 L377.55 146.44 L378.14 146.45 L378.73 146.48 L379.32 146.51 L379.92 146.55 L380.51 146.59 L381.10 146.64 L381.69 146.69 L382.28 146.75 L382.88 146.81 L383.47 146.88 L384.06 146.95 L384.65 147.03 L385.25 147.10 L385.84 147.18 L386.43 147.27 L387.02 147.36 L387.62 147.45 L388.21 147.55 L388.80 147.66 L389.39 147.76 L389.98 147.88 L390.58 147.99 L391.17 148.12 L391.76 148.24 L392.35 148.37 L392.95 148.51 L393.54 148.64 L394.13 148.77 L394.72 148.91 L395.32 149.04 L395.91 149.17 L396.50 149.31 L397.09 149.44 L397.68 149.57 L398.28 149.70 L398.87 149.84 L399.46 149.97 L400.05 150.10 L400.65 150.24 L401.24 150.37 L401.83 150.50 L402.42 150.64 L403.02 150.77 L403.61 150.90 L404.20 151.03 L404.79 151.17 L405.38 151.30 L405.98 151.43 L406.57 151.57 L407.16 151.70 L407.75 151.83 L408.35 151.96 L408.94 152.10 L409.53 152.23 L410.12 152.36 L410.72 152.50 L411.31 152.63 L411.90 152.76 L412.49 152.90 L413.08 153.03 L413.68 153.16 L414.27 153.29 L414.86 153.43 L415.45 153.56 L416.05 153.69 L416.64 153.83 L417.23 153.96 L417.82 154.09 L418.42 154.22 L419.01 154.33 L419.60 154.44 L420.19 154.55 L420.78 154.65 L421.38 154.75 L421.97 154.84 L422.56 154.92 L423.15 155.00 L423.75 155.08 L424.34 155.16 L424.93 155.23 L425.52 155.30 L426.12 155.36 L426.71 155.43 L427.30 155.49 L427.89 155.55 L428.48 155.61 L429.08 155.67 L429.67 155.73 L430.26 155.79 L430.85 155.85 L431.45 155.91 L432.04 155.97 L432.63 156.02 L433.22 156.07 L433.82 156.12 L434.41 156.17 L435.00 156.22 L435.59 156.26 L436.18 156.31 L436.78 156.35 L437.37 156.39 L437.96 156.43 L438.55 156.46 L439.15 156.50 L439.74 156.53 L440.33 156.56 L440.92 156.59 L441.52 156.61 L442.11 156.64 L442.70 156.66" fill="none" stroke="#35b3f3" stroke-width="1.00" stroke-linejoin="round" stroke-linecap="butt"/>
<path d="M265.60 118.32 L266.19 118.79 L266.78 119.24 L267.38 119.64 L267.97 120.00 L268.56 120.30 L269.15 120.55 L269.75 120.73 L270.34 120.90 L270.93 121.05 L271.52 121.18 L272.12 121.29 L272.71 121.38 L273.30 121.45 L273.89 121.49 L274.48 121.52 L275.08 121.52 L275.67 121.53 L276.26 121.53 L276.85 121.53 L277.45 121.52 L278.04 121.50 L278.63 121.48 L279.22 121.45 L279.82 121.41 L280.41 121.37 L281.00 121.32 L281.59 121.26 L282.18 121.20 L282.78 121.13 L283.37 121.05 L283.96 120.98 L284.55 120.90 L285.15 120.81 L285.74 120.72 L286.33 120.62 L286.92 120.52 L287.52 120.42 L288.11 120.31 L288.70 120.20 L289.29 120.08 L289.88 119.96 L290.48 119.83 L291.07 119.70 L291.66 119.56 L292.25 119.39 L292.85 119.21 L293.44 119.01 L294.03 118.80 L294.62 118.58 L295.22 118.34 L295.81 118.10 L296.40 117.84 L296.99 117.58 L297.58 117.31 L298.18 117.04 L298.77 116.77 L299.36 116.47 L299.95 116.15 L300.55 115.81 L301.14 115.44 L301.73 115.06 L302.32 114.65 L302.92 114.22 L303.51 113.77 L304.10 113.29 L304.69 112.80 L305.28 112.29 L305.88 111.76 L306.47 111.21 L307.06 110.64 L307.65 110.05 L308.25 109.43 L308.84 108.79 L309.43 108.12 L310.02 107.43 L310.62 106.71 L311.21 105.96 L311.80 105.19 L312.39 104.38 L312.98 103.55 L313.58 102.68 L314.17 101.78 L314.76 100.85 L315.35 99.88 L315.95 98.88 L316.54 97.85 L317.13 96.80 L317.72 95.75 L318.32 94.69 L318.91 93.62 L319.50 92.54 L320.09 91.45 L320.68 90.36 L321.28 89.26 L321.87 88.15 L322.46 87.03 L323.05 85.91 L323.65 84.78 L324.24 83.65 L324.83 82.51 L325.42 81.37 L326.02 80.22 L326.61 79.06 L327.20 77.89 L327.79 76.71 L328.38 75.51 L328.98 74.31 L329.57 73.10 L330.16 71.88 L330.75 70.67 L331.35 69.46 L331.94 68.26 L332.53 67.07 L333.12 65.90 L333.72 64.74 L334.31 63.60 L334.90 62.48 L335.49 61.40 L336.08 60.34 L336.68 59.31 L337.27 58.31 L337.86 57.35 L338.45 56.42 L339.05 55.53 L339.64 54.68 L340.23 53.87 L340.82 53.11 L341.42 52.39 L342.01 51.71 L342.60 51.04 L343.19 50.40 L343.78 49.78 L344.38 49.17 L344.97 48.58 L345.56 48.00 L346.15 47.44 L346.75 46.89 L347.34 46.35 L347.93 45.82 L348.52 45.31 L349.12 44.80 L349.71 44.29 L350.30 43.80 L350.89 43.30 L351.48 42.82 L352.08 42.33 L352.67 41.85 L353.26 41.38 L353.85 40.92 L354.45 40.47 L355.04 40.03 L355.63 39.61 L356.22 39.20 L356.82 38.80 L357.41 38.42 L358.00 38.06 L358.59 37.73 L359.18 37.46 L359.78 37.23 L360.37 37.04 L360.96 36.89 L361.55 36.79 L362.15 36.72 L362.74 36.68 L363.33 36.67 L363.92 36.70 L364.52 36.77 L365.11 36.87 L365.70 37.02 L366.29 37.20 L366.88 37.42 L367.48 37.67 L368.07 37.96 L368.66 38.28 L369.25 38.62 L369.85 38.98 L370.44 39.37 L371.03 39.77 L371.62 40.19 L372.22 40.63 L372.81 41.08 L373.40 41.55 L373.99 42.03 L374.58 42.52 L375.18 43.03 L375.77 43.55 L376.36 44.08 L376.95 44.62 L377.55 45.17 L378.14 45.73 L378.73 46.31 L379.32 46.92 L379.92 47.55 L380.51 48.21 L381.10 48.90 L381.69 49.63 L382.28 50.40 L382.88 51.21 L383.47 52.07 L384.06 52.98 L384.65 53.95 L385.25 54.96 L385.84 56.01 L386.43 57.09 L387.02 58.21 L387.62 59.36 L388.21 60.54 L388.80 61.76 L389.39 63.00 L389.98 64.26 L390.58 65.55 L391.17 66.87 L391.76 68.20 L392.35 69.56 L392.95 70.93 L393.54 72.31 L394.13 73.69 L394.72 75.09 L395.32 76.49 L395.91 77.89 L396.50 79.29 L397.09 80.68 L397.68 82.08 L398.28 83.46 L398.87 84.84 L399.46 86.20 L400.05 87.55 L400.65 88.90 L401.24 90.24 L401.83 91.57 L402.42 92.89 L403.02 94.21 L403.61 95.52 L404.20 96.81 L404.79 98.10 L405.38 99.38 L405.98 100.65 L406.57 101.91 L407.16 103.16 L407.75 104.39 L408.35 105.59 L408.94 106.76 L409.53 107.90 L410.12 109.01 L410.72 110.09 L411.31 111.14 L411.90 112.17 L412.49 113.16 L413.08 114.13 L413.68 115.08 L414.27 116.00 L414.86 116.89 L415.45 117.76 L416.05 118.60 L416.64 119.43 L417.23 120.23 L417.82 121.01 L418.42 121.77 L419.01 122.52 L419.60 123.26 L420.19 123.98 L420.78 124.70 L421.38 125.39 L421.97 126.08 L422.56 126.74 L423.15 127.40 L423.75 128.04 L424.34 128.67 L424.93 129.29 L425.52 129.89 L426.12 130.47 L426.71 131.05 L427.30 131.61 L427.89 132.15 L428.48 132.70 L429.08 133.23 L429.67 133.77 L430.26 134.29 L430.85 134.81 L431.45 135.32 L432.04 135.81 L432.63 136.30 L433.22 136.78 L433.82 137.24 L434.41 137.69 L435.00 138.12 L435.59 138.54 L436.18 138.95 L436.78 139.35 L437.37 139.75 L437.96 140.13 L438.55 140.50 L439.15 140.87 L439.74 141.22 L440.33 141.56 L440.92 141.89 L441.52 142.21 L442.11 142.52 L442.70 142.81" fill="none" stroke="#9c209f" stroke-width="1.15" stroke-linejoin="round" stroke-linecap="butt"/>
</g>
<line x1="280.70" y1="28.50" x2="288.40" y2="28.50" stroke="#9c209f" stroke-width="1.0"/>
<text x="293.30" y="30.95" font-size="8.20" text-anchor="start" fill="#222" font-weight="normal" font-family="Liberation Sans, sans-serif" >TiN</text>
<line x1="280.70" y1="40.50" x2="288.40" y2="40.50" stroke="#4caf50" stroke-width="1.0"/>
<text x="293.30" y="43.75" font-size="8.20" text-anchor="start" fill="#222" font-weight="normal" font-family="Liberation Sans, sans-serif" >TiO<tspan font-size="4.8" dy="2">2</tspan></text>
<line x1="280.70" y1="55.50" x2="288.40" y2="55.50" stroke="#35b3f3" stroke-width="1.0"/>
<text x="293.30" y="58.35" font-size="8.20" text-anchor="start" fill="#222" font-weight="normal" font-family="Liberation Sans, sans-serif" >RuPt</text>
<text x="229.60" y="8.70" font-size="12.50" text-anchor="start" fill="#000" font-weight="bold" font-family="Liberation Sans, sans-serif"  stroke="#000" stroke-width="0.35">b</text>
<rect x="498.50" y="17.50" width="177.00" height="142.00" fill="none" stroke="#929292" stroke-width="1"/>
<line x1="498.50" y1="159.50" x2="498.50" y2="162.50" stroke="#929292" stroke-width="1"/>
<text x="498.30" y="172.20" font-size="8.70" text-anchor="middle" fill="#222" font-weight="normal" font-family="Liberation Sans, sans-serif" >300</text>
<line x1="523.50" y1="159.50" x2="523.50" y2="162.50" stroke="#929292" stroke-width="1"/>
<text x="523.60" y="172.20" font-size="8.70" text-anchor="middle" fill="#222" font-weight="normal" font-family="Liberation Sans, sans-serif" >400</text>
<line x1="548.50" y1="159.50" x2="548.50" y2="162.50" stroke="#929292" stroke-width="1"/>
<text x="548.90" y="172.20" font-size="8.70" text-anchor="middle" fill="#222" font-weight="normal" font-family="Liberation Sans, sans-serif" >500</text>
<line x1="574.50" y1="159.50" x2="574.50" y2="162.50" stroke="#929292" stroke-width="1"/>
<text x="574.20" y="172.20" font-size="8.70" text-anchor="middle" fill="#222" font-weight="normal" font-family="Liberation Sans, sans-serif" >600</text>
<line x1="599.50" y1="159.50" x2="599.50" y2="162.50" stroke="#929292" stroke-width="1"/>
<text x="599.50" y="172.20" font-size="8.70" text-anchor="middle" fill="#222" font-weight="normal" font-family="Liberation Sans, sans-serif" >700</text>
<line x1="624.50" y1="159.50" x2="624.50" y2="162.50" stroke="#929292" stroke-width="1"/>
<text x="624.80" y="172.20" font-size="8.70" text-anchor="middle" fill="#222" font-weight="normal" font-family="Liberation Sans, sans-serif" >800</text>
<line x1="650.50" y1="159.50" x2="650.50" y2="162.50" stroke="#929292" stroke-width="1"/>
<text x="650.10" y="172.20" font-size="8.70" text-anchor="middle" fill="#222" font-weight="normal" font-family="Liberation Sans, sans-serif" >900</text>
<line x1="675.50" y1="159.50" x2="675.50" y2="162.50" stroke="#929292" stroke-width="1"/>
<text x="675.40" y="172.20" font-size="8.70" text-anchor="middle" fill="#222" font-weight="normal" font-family="Liberation Sans, sans-serif" >1,000</text>
<line x1="495.50" y1="156.50" x2="498.50" y2="156.50" stroke="#929292" stroke-width="1"/>
<text x="492.50" y="160.10" font-size="8.70" text-anchor="end" fill="#222" font-weight="normal" font-family="Liberation Sans, sans-serif" >0</text>
<line x1="495.50" y1="131.50" x2="498.50" y2="131.50" stroke="#929292" stroke-width="1"/>
<text x="492.50" y="134.20" font-size="8.70" text-anchor="end" fill="#222" font-weight="normal" font-family="Liberation Sans, sans-serif" >0.2</text>
<line x1="495.50" y1="105.50" x2="498.50" y2="105.50" stroke="#929292" stroke-width="1"/>
<text x="492.50" y="108.30" font-size="8.70" text-anchor="end" fill="#222" font-weight="normal" font-family="Liberation Sans, sans-serif" >0.4</text>
<line x1="495.50" y1="79.50" x2="498.50" y2="79.50" stroke="#929292" stroke-width="1"/>
<text x="492.50" y="82.40" font-size="8.70" text-anchor="end" fill="#222" font-weight="normal" font-family="Liberation Sans, sans-serif" >0.6</text>
<line x1="495.50" y1="53.50" x2="498.50" y2="53.50" stroke="#929292" stroke-width="1"/>
<text x="492.50" y="56.50" font-size="8.70" text-anchor="end" fill="#222" font-weight="normal" font-family="Liberation Sans, sans-serif" >0.8</text>
<line x1="495.50" y1="27.50" x2="498.50" y2="27.50" stroke="#929292" stroke-width="1"/>
<text x="492.50" y="30.60" font-size="8.70" text-anchor="end" fill="#222" font-weight="normal" font-family="Liberation Sans, sans-serif" >1.0</text>
<text x="587.00" y="184.20" font-size="9.10" text-anchor="middle" fill="#222" font-weight="normal" font-family="Liberation Sans, sans-serif" >Wavelength (nm)</text>
<text transform="translate(474,87.5) rotate(-90)" textLength="70.5" lengthAdjust="spacingAndGlyphs" font-size="9.1" text-anchor="middle" fill="#222" font-family="Liberation Sans, sans-serif">Rate<tspan font-size="5.4" dy="1.6">HE</tspan><tspan dy="-1.6"> (s</tspan><tspan font-size="5.4" dy="-3">−1</tspan><tspan dy="3">) x 10</tspan><tspan font-size="5.4" dy="-3">10</tspan></text>
<clipPath id="clipc"><rect x="498.50" y="17.50" width="177.00" height="142.00"/></clipPath><g clip-path="url(#clipc)">
<path d="M498.30 156.61 L503.36 156.56 L508.42 156.43 L513.48 156.26 L518.54 155.97 L523.60 155.58 L528.66 154.98 L533.72 154.15 L538.78 153.04 L543.84 151.53 L548.90 149.49 L553.96 146.79 L559.02 143.03 L564.08 137.57 L569.14 129.16 L574.20 118.15 L579.26 106.50 L584.32 95.49 L589.38 85.81 L594.44 74.40 L599.50 60.42 L604.56 47.16 L609.62 36.93 L614.68 30.09 L619.74 27.76 L624.80 33.33 L629.86 44.98 L634.92 60.52 L639.98 76.71 L645.04 89.01 L650.10 100.02 L655.16 108.64 L660.22 115.64 L665.28 121.39 L670.34 126.31 L675.40 130.45" fill="none" stroke="#8e1a9a" stroke-width="1.2" stroke-linejoin="round"/>
<line x1="498.50" y1="157.1" x2="675.50" y2="157.1" stroke="#35b3f3" stroke-width="1.2"/>
</g>
<line x1="516.00" y1="28.50" x2="523.00" y2="28.50" stroke="#b04cc0" stroke-width="1.0"/>
<text x="527.70" y="30.95" font-size="8.20" text-anchor="start" fill="#222" font-weight="normal" font-family="Liberation Sans, sans-serif" >TiN</text>
<line x1="516.00" y1="40.50" x2="523.00" y2="40.50" stroke="#35b3f3" stroke-width="1.0"/>
<text x="527.70" y="43.15" font-size="8.20" text-anchor="start" fill="#222" font-weight="normal" font-family="Liberation Sans, sans-serif" >All RuPt NPs</text>
<text x="461.60" y="8.70" font-size="12.50" text-anchor="start" fill="#000" font-weight="bold" font-family="Liberation Sans, sans-serif"  stroke="#000" stroke-width="0.35">c</text>
<rect x="35.50" y="430.50" width="176.00" height="142.00" fill="none" stroke="#929292" stroke-width="1"/>
<line x1="35.50" y1="572.50" x2="35.50" y2="575.50" stroke="#929292" stroke-width="1"/>
<text x="35.40" y="585.20" font-size="8.70" text-anchor="middle" fill="#222" font-weight="normal" font-family="Liberation Sans, sans-serif" >200</text>
<line x1="79.50" y1="572.50" x2="79.50" y2="575.50" stroke="#929292" stroke-width="1"/>
<text x="79.45" y="585.20" font-size="8.70" text-anchor="middle" fill="#222" font-weight="normal" font-family="Liberation Sans, sans-serif" >400</text>
<line x1="123.50" y1="572.50" x2="123.50" y2="575.50" stroke="#929292" stroke-width="1"/>
<text x="123.50" y="585.20" font-size="8.70" text-anchor="middle" fill="#222" font-weight="normal" font-family="Liberation Sans, sans-serif" >600</text>
<line x1="167.50" y1="572.50" x2="167.50" y2="575.50" stroke="#929292" stroke-width="1"/>
<text x="167.55" y="585.20" font-size="8.70" text-anchor="middle" fill="#222" font-weight="normal" font-family="Liberation Sans, sans-serif" >800</text>
<line x1="211.50" y1="572.50" x2="211.50" y2="575.50" stroke="#929292" stroke-width="1"/>
<text x="211.60" y="585.20" font-size="8.70" text-anchor="middle" fill="#222" font-weight="normal" font-family="Liberation Sans, sans-serif" >1,000</text>
<line x1="32.50" y1="572.50" x2="35.50" y2="572.50" stroke="#929292" stroke-width="1"/>
<text x="29.50" y="575.60" font-size="8.70" text-anchor="end" fill="#222" font-weight="normal" font-family="Liberation Sans, sans-serif" >0</text>
<line x1="32.50" y1="536.50" x2="35.50" y2="536.50" stroke="#929292" stroke-width="1"/>
<text x="29.50" y="540.10" font-size="8.70" text-anchor="end" fill="#222" font-weight="normal" font-family="Liberation Sans, sans-serif" >1.0</text>
<line x1="32.50" y1="501.50" x2="35.50" y2="501.50" stroke="#929292" stroke-width="1"/>
<text x="29.50" y="504.60" font-size="8.70" text-anchor="end" fill="#222" font-weight="normal" font-family="Liberation Sans, sans-serif" >2.0</text>
<line x1="32.50" y1="466.50" x2="35.50" y2="466.50" stroke="#929292" stroke-width="1"/>
<text x="29.50" y="469.10" font-size="8.70" text-anchor="end" fill="#222" font-weight="normal" font-family="Liberation Sans, sans-serif" >3.0</text>
<line x1="32.50" y1="430.50" x2="35.50" y2="430.50" stroke="#929292" stroke-width="1"/>
<text x="29.50" y="433.60" font-size="8.70" text-anchor="end" fill="#222" font-weight="normal" font-family="Liberation Sans, sans-serif" >4.0</text>
<text x="123.50" y="597.20" font-size="9.10" text-anchor="middle" fill="#222" font-weight="normal" font-family="Liberation Sans, sans-serif" >Wavelength (nm)</text>
<text transform="translate(8.8,503.7) rotate(-90)" textLength="100" lengthAdjust="spacingAndGlyphs" font-size="9.1" text-anchor="middle" fill="#222" font-family="Liberation Sans, sans-serif">Rate<tspan font-size="5.8" dy="1.6">HE, over-barrier</tspan><tspan dy="-1.6">(s</tspan><tspan font-size="5.4" dy="-3">−1</tspan><tspan dy="3">) x 10</tspan><tspan font-size="5.4" dy="-3">4</tspan></text>
<clipPath id="clipf"><rect x="35.50" y="430.50" width="176.00" height="142.00"/></clipPath><g clip-path="url(#clipf)">
<path d="M35.40 560.08 L35.99 556.86 L36.58 553.93 L37.17 551.25 L37.76 548.80 L38.35 546.54 L38.94 544.52 L39.53 542.81 L40.11 541.49 L40.70 540.52 L41.29 539.70 L41.88 539.02 L42.47 538.51 L43.06 538.19 L43.65 538.06 L44.24 538.09 L44.83 538.12 L45.42 538.15 L46.01 538.19 L46.60 538.23 L47.19 538.28 L47.78 538.33 L48.36 538.39 L48.95 538.46 L49.54 538.52 L50.13 538.58 L50.72 538.65 L51.31 538.71 L51.90 538.78 L52.49 538.86 L53.08 538.94 L53.67 539.02 L54.26 539.12 L54.85 539.23 L55.44 539.36 L56.03 539.57 L56.61 539.88 L57.20 540.27 L57.79 540.71 L58.38 541.21 L58.97 541.73 L59.56 542.26 L60.15 542.82 L60.74 543.43 L61.33 544.07 L61.92 544.73 L62.51 545.41 L63.10 546.10 L63.69 546.78 L64.28 547.45 L64.86 548.09 L65.45 548.70 L66.04 549.25 L66.63 549.77 L67.22 550.27 L67.81 550.76 L68.40 551.24 L68.99 551.71 L69.58 552.16 L70.17 552.60 L70.76 553.01 L71.35 553.42 L71.94 553.80 L72.53 554.16 L73.12 554.50 L73.70 554.82 L74.29 555.12 L74.88 555.39 L75.47 555.64 L76.06 555.88 L76.65 556.12 L77.24 556.34 L77.83 556.56 L78.42 556.76 L79.01 556.96 L79.60 557.16 L80.19 557.34 L80.78 557.51 L81.37 557.68 L81.95 557.84 L82.54 557.99 L83.13 558.13 L83.72 558.27 L84.31 558.40 L84.90 558.52 L85.49 558.64 L86.08 558.76 L86.67 558.87 L87.26 558.98 L87.85 559.08 L88.44 559.18 L89.03 559.27 L89.62 559.35 L90.20 559.44 L90.79 559.51 L91.38 559.58 L91.97 559.65 L92.56 559.71 L93.15 559.76 L93.74 559.79 L94.33 559.80 L94.92 559.79 L95.51 559.76 L96.10 559.72 L96.69 559.67 L97.28 559.61 L97.87 559.55 L98.45 559.47 L99.04 559.40 L99.63 559.32 L100.22 559.25 L100.81 559.17 L101.40 559.07 L101.99 558.94 L102.58 558.77 L103.17 558.55 L103.76 558.26 L104.35 557.90 L104.94 557.45 L105.53 556.91 L106.12 556.26 L106.71 555.57 L107.29 554.86 L107.88 554.14 L108.47 553.40 L109.06 552.66 L109.65 551.91 L110.24 551.16 L110.83 550.41 L111.42 549.67 L112.01 548.94 L112.60 548.23 L113.19 547.51 L113.78 546.79 L114.37 546.06 L114.96 545.34 L115.54 544.62 L116.13 543.91 L116.72 543.21 L117.31 542.52 L117.90 541.85 L118.49 541.20 L119.08 540.57 L119.67 540.00 L120.26 539.53 L120.85 539.15 L121.44 538.84 L122.03 538.60 L122.62 538.40 L123.21 538.25 L123.79 538.12 L124.38 538.00 L124.97 537.88 L125.56 537.74 L126.15 537.60 L126.74 537.44 L127.33 537.28 L127.92 537.13 L128.51 536.97 L129.10 536.81 L129.69 536.66 L130.28 536.52 L130.87 536.38 L131.46 536.25 L132.04 536.13 L132.63 536.02 L133.22 535.93 L133.81 535.85 L134.40 535.79 L134.99 535.75 L135.58 535.73 L136.17 535.73 L136.76 535.76 L137.35 535.80 L137.94 535.85 L138.53 535.90 L139.12 535.96 L139.71 536.02 L140.29 536.10 L140.88 536.17 L141.47 536.26 L142.06 536.35 L142.65 536.44 L143.24 536.55 L143.83 536.66 L144.42 536.77 L145.01 536.89 L145.60 537.02 L146.19 537.14 L146.78 537.27 L147.37 537.40 L147.96 537.53 L148.55 537.66 L149.13 537.79 L149.72 537.92 L150.31 538.05 L150.90 538.18 L151.49 538.31 L152.08 538.44 L152.67 538.58 L153.26 538.71 L153.85 538.85 L154.44 538.98 L155.03 539.12 L155.62 539.26 L156.21 539.40 L156.80 539.55 L157.38 539.69 L157.97 539.83 L158.56 539.97 L159.15 540.11 L159.74 540.25 L160.33 540.39 L160.92 540.53 L161.51 540.67 L162.10 540.81 L162.69 540.96 L163.28 541.11 L163.87 541.26 L164.46 541.42 L165.05 541.58 L165.63 541.74 L166.22 541.91 L166.81 542.09 L167.40 542.28 L167.99 542.47 L168.58 542.66 L169.17 542.85 L169.76 543.04 L170.35 543.23 L170.94 543.42 L171.53 543.61 L172.12 543.80 L172.71 543.99 L173.30 544.18 L173.88 544.37 L174.47 544.56 L175.06 544.75 L175.65 544.94 L176.24 545.13 L176.83 545.32 L177.42 545.51 L178.01 545.70 L178.60 545.89 L179.19 546.08 L179.78 546.27 L180.37 546.46 L180.96 546.65 L181.55 546.84 L182.14 547.03 L182.72 547.22 L183.31 547.41 L183.90 547.60 L184.49 547.79 L185.08 547.98 L185.67 548.17 L186.26 548.36 L186.85 548.55 L187.44 548.74 L188.03 548.93 L188.62 549.12 L189.21 549.31 L189.80 549.50 L190.39 549.69 L190.97 549.88 L191.56 550.07 L192.15 550.26 L192.74 550.45 L193.33 550.64 L193.92 550.83 L194.51 551.02 L195.10 551.21 L195.69 551.40 L196.28 551.59 L196.87 551.78 L197.46 551.97 L198.05 552.16 L198.64 552.35 L199.22 552.54 L199.81 552.73 L200.40 552.92 L200.99 553.10 L201.58 553.29 L202.17 553.48 L202.76 553.66 L203.35 553.83 L203.94 554.01 L204.53 554.19 L205.12 554.36 L205.71 554.53 L206.30 554.70 L206.89 554.86 L207.47 555.03 L208.06 555.20 L208.65 555.36 L209.24 555.52 L209.83 555.68 L210.42 555.85 L211.01 556.01 L211.60 556.17" fill="none" stroke="#35b3f3" stroke-width="1.20" stroke-linejoin="round" stroke-linecap="butt"/>
<path d="M35.40 551.20 L35.99 548.07 L36.58 545.26 L37.17 542.81 L37.76 540.76 L38.35 539.01 L38.94 537.54 L39.53 536.37 L40.11 535.49 L40.70 534.71 L41.29 534.07 L41.88 533.68 L42.47 533.63 L43.06 533.79 L43.65 533.98 L44.24 534.18 L44.83 534.39 L45.42 534.59 L46.01 534.77 L46.60 534.91 L47.19 535.03 L47.78 535.14 L48.36 535.23 L48.95 535.32 L49.54 535.42 L50.13 535.52 L50.72 535.63 L51.31 535.77 L51.90 535.93 L52.49 536.14 L53.08 536.41 L53.67 536.74 L54.26 537.12 L54.85 537.55 L55.44 538.02 L56.03 538.53 L56.61 539.06 L57.20 539.62 L57.79 540.21 L58.38 540.86 L58.97 541.54 L59.56 542.26 L60.15 543.01 L60.74 543.76 L61.33 544.52 L61.92 545.26 L62.51 545.98 L63.10 546.66 L63.69 547.30 L64.28 547.89 L64.86 548.46 L65.45 549.02 L66.04 549.58 L66.63 550.12 L67.22 550.65 L67.81 551.17 L68.40 551.67 L68.99 552.15 L69.58 552.62 L70.17 553.06 L70.76 553.48 L71.35 553.87 L71.94 554.24 L72.53 554.58 L73.12 554.89 L73.70 555.19 L74.29 555.48 L74.88 555.75 L75.47 556.02 L76.06 556.28 L76.65 556.53 L77.24 556.77 L77.83 557.00 L78.42 557.22 L79.01 557.43 L79.60 557.64 L80.19 557.84 L80.78 558.03 L81.37 558.21 L81.95 558.39 L82.54 558.57 L83.13 558.74 L83.72 558.90 L84.31 559.07 L84.90 559.22 L85.49 559.38 L86.08 559.53 L86.67 559.67 L87.26 559.80 L87.85 559.93 L88.44 560.06 L89.03 560.18 L89.62 560.29 L90.20 560.39 L90.79 560.48 L91.38 560.55 L91.97 560.60 L92.56 560.62 L93.15 560.63 L93.74 560.63 L94.33 560.61 L94.92 560.58 L95.51 560.55 L96.10 560.51 L96.69 560.46 L97.28 560.41 L97.87 560.35 L98.45 560.26 L99.04 560.15 L99.63 560.01 L100.22 559.85 L100.81 559.65 L101.40 559.44 L101.99 559.19 L102.58 558.91 L103.17 558.59 L103.76 558.25 L104.35 557.85 L104.94 557.40 L105.53 556.88 L106.12 556.31 L106.71 555.70 L107.29 555.04 L107.88 554.35 L108.47 553.62 L109.06 552.86 L109.65 552.07 L110.24 551.26 L110.83 550.41 L111.42 549.50 L112.01 548.54 L112.60 547.55 L113.19 546.53 L113.78 545.51 L114.37 544.49 L114.96 543.50 L115.54 542.54 L116.13 541.63 L116.72 540.78 L117.31 539.99 L117.90 539.23 L118.49 538.49 L119.08 537.77 L119.67 537.09 L120.26 536.43 L120.85 535.81 L121.44 535.21 L122.03 534.66 L122.62 534.15 L123.21 533.67 L123.79 533.24 L124.38 532.82 L124.97 532.41 L125.56 532.02 L126.15 531.63 L126.74 531.26 L127.33 530.90 L127.92 530.56 L128.51 530.22 L129.10 529.90 L129.69 529.58 L130.28 529.28 L130.87 528.99 L131.46 528.71 L132.04 528.44 L132.63 528.18 L133.22 527.93 L133.81 527.69 L134.40 527.46 L134.99 527.23 L135.58 527.02 L136.17 526.81 L136.76 526.60 L137.35 526.40 L137.94 526.21 L138.53 526.03 L139.12 525.85 L139.71 525.68 L140.29 525.52 L140.88 525.37 L141.47 525.23 L142.06 525.10 L142.65 524.98 L143.24 524.88 L143.83 524.78 L144.42 524.70 L145.01 524.63 L145.60 524.57 L146.19 524.53 L146.78 524.50 L147.37 524.49 L147.96 524.49 L148.55 524.51 L149.13 524.55 L149.72 524.61 L150.31 524.68 L150.90 524.77 L151.49 524.88 L152.08 525.00 L152.67 525.14 L153.26 525.30 L153.85 525.48 L154.44 525.68 L155.03 525.88 L155.62 526.09 L156.21 526.31 L156.80 526.53 L157.38 526.77 L157.97 527.02 L158.56 527.28 L159.15 527.55 L159.74 527.84 L160.33 528.15 L160.92 528.48 L161.51 528.82 L162.10 529.19 L162.69 529.58 L163.28 529.99 L163.87 530.42 L164.46 530.84 L165.05 531.27 L165.63 531.70 L166.22 532.13 L166.81 532.56 L167.40 532.99 L167.99 533.42 L168.58 533.85 L169.17 534.28 L169.76 534.70 L170.35 535.13 L170.94 535.56 L171.53 535.98 L172.12 536.41 L172.71 536.83 L173.30 537.25 L173.88 537.68 L174.47 538.10 L175.06 538.52 L175.65 538.95 L176.24 539.37 L176.83 539.79 L177.42 540.21 L178.01 540.63 L178.60 541.05 L179.19 541.47 L179.78 541.89 L180.37 542.30 L180.96 542.71 L181.55 543.12 L182.14 543.53 L182.72 543.93 L183.31 544.33 L183.90 544.71 L184.49 545.08 L185.08 545.42 L185.67 545.75 L186.26 546.07 L186.85 546.37 L187.44 546.66 L188.03 546.94 L188.62 547.21 L189.21 547.47 L189.80 547.72 L190.39 547.97 L190.97 548.22 L191.56 548.45 L192.15 548.69 L192.74 548.93 L193.33 549.16 L193.92 549.40 L194.51 549.64 L195.10 549.87 L195.69 550.11 L196.28 550.34 L196.87 550.57 L197.46 550.79 L198.05 551.01 L198.64 551.23 L199.22 551.44 L199.81 551.65 L200.40 551.85 L200.99 552.05 L201.58 552.24 L202.17 552.43 L202.76 552.61 L203.35 552.79 L203.94 552.96 L204.53 553.12 L205.12 553.29 L205.71 553.44 L206.30 553.60 L206.89 553.74 L207.47 553.89 L208.06 554.02 L208.65 554.16 L209.24 554.28 L209.83 554.41 L210.42 554.53 L211.01 554.64 L211.60 554.75" fill="none" stroke="#3faa3f" stroke-width="1.20" stroke-linejoin="round" stroke-linecap="butt"/>
<path d="M35.40 563.62 L35.99 562.29 L36.58 560.99 L37.17 559.72 L37.76 558.47 L38.35 557.25 L38.94 556.06 L39.53 554.88 L40.11 553.73 L40.70 552.61 L41.29 551.52 L41.88 550.46 L42.47 549.43 L43.06 548.44 L43.65 547.49 L44.24 546.57 L44.83 545.69 L45.42 544.83 L46.01 544.01 L46.60 543.20 L47.19 542.41 L47.78 541.64 L48.36 540.87 L48.95 540.12 L49.54 539.38 L50.13 538.67 L50.72 537.99 L51.31 537.33 L51.90 536.69 L52.49 536.08 L53.08 535.49 L53.67 534.93 L54.26 534.39 L54.85 533.92 L55.44 533.50 L56.03 533.15 L56.61 532.86 L57.20 532.62 L57.79 532.44 L58.38 532.31 L58.97 532.23 L59.56 532.19 L60.15 532.18 L60.74 532.21 L61.33 532.29 L61.92 532.42 L62.51 532.61 L63.10 532.88 L63.69 533.21 L64.28 533.63 L64.86 534.08 L65.45 534.54 L66.04 535.03 L66.63 535.52 L67.22 536.01 L67.81 536.51 L68.40 537.00 L68.99 537.49 L69.58 537.97 L70.17 538.42 L70.76 538.86 L71.35 539.29 L71.94 539.72 L72.53 540.15 L73.12 540.57 L73.70 540.99 L74.29 541.41 L74.88 541.83 L75.47 542.24 L76.06 542.64 L76.65 543.04 L77.24 543.43 L77.83 543.81 L78.42 544.18 L79.01 544.54 L79.60 544.90 L80.19 545.23 L80.78 545.53 L81.37 545.81 L81.95 546.07 L82.54 546.31 L83.13 546.54 L83.72 546.74 L84.31 546.93 L84.90 547.11 L85.49 547.28 L86.08 547.45 L86.67 547.60 L87.26 547.75 L87.85 547.90 L88.44 548.05 L89.03 548.18 L89.62 548.30 L90.20 548.39 L90.79 548.47 L91.38 548.52 L91.97 548.56 L92.56 548.58 L93.15 548.59 L93.74 548.57 L94.33 548.54 L94.92 548.49 L95.51 548.42 L96.10 548.34 L96.69 548.23 L97.28 548.09 L97.87 547.92 L98.45 547.71 L99.04 547.47 L99.63 547.19 L100.22 546.87 L100.81 546.51 L101.40 546.10 L101.99 545.65 L102.58 545.16 L103.17 544.61 L103.76 544.02 L104.35 543.39 L104.94 542.75 L105.53 542.10 L106.12 541.44 L106.71 540.76 L107.29 540.07 L107.88 539.37 L108.47 538.66 L109.06 537.93 L109.65 537.19 L110.24 536.43 L110.83 535.67 L111.42 534.89 L112.01 534.10 L112.60 533.30 L113.19 532.48 L113.78 531.66 L114.37 530.82 L114.96 529.98 L115.54 529.14 L116.13 528.29 L116.72 527.44 L117.31 526.59 L117.90 525.74 L118.49 524.90 L119.08 524.06 L119.67 523.24 L120.26 522.43 L120.85 521.63 L121.44 520.84 L122.03 520.08 L122.62 519.34 L123.21 518.61 L123.79 517.90 L124.38 517.20 L124.97 516.50 L125.56 515.79 L126.15 515.08 L126.74 514.35 L127.33 513.61 L127.92 512.84 L128.51 512.05 L129.10 511.25 L129.69 510.44 L130.28 509.61 L130.87 508.77 L131.46 507.92 L132.04 507.05 L132.63 506.17 L133.22 505.28 L133.81 504.37 L134.40 503.45 L134.99 502.51 L135.58 501.55 L136.17 500.58 L136.76 499.59 L137.35 498.58 L137.94 497.56 L138.53 496.54 L139.12 495.51 L139.71 494.47 L140.29 493.43 L140.88 492.39 L141.47 491.35 L142.06 490.32 L142.65 489.29 L143.24 488.28 L143.83 487.27 L144.42 486.28 L145.01 485.30 L145.60 484.34 L146.19 483.40 L146.78 482.47 L147.37 481.55 L147.96 480.64 L148.55 479.74 L149.13 478.86 L149.72 477.98 L150.31 477.11 L150.90 476.25 L151.49 475.39 L152.08 474.54 L152.67 473.69 L153.26 472.85 L153.85 472.01 L154.44 471.18 L155.03 470.36 L155.62 469.58 L156.21 468.82 L156.80 468.08 L157.38 467.37 L157.97 466.68 L158.56 466.01 L159.15 465.36 L159.74 464.74 L160.33 464.13 L160.92 463.53 L161.51 462.96 L162.10 462.40 L162.69 461.89 L163.28 461.47 L163.87 461.12 L164.46 460.84 L165.05 460.63 L165.63 460.47 L166.22 460.37 L166.81 460.32 L167.40 460.32 L167.99 460.34 L168.58 460.41 L169.17 460.52 L169.76 460.69 L170.35 460.92 L170.94 461.23 L171.53 461.63 L172.12 462.13 L172.71 462.74 L173.30 463.46 L173.88 464.21 L174.47 464.97 L175.06 465.75 L175.65 466.53 L176.24 467.32 L176.83 468.13 L177.42 468.94 L178.01 469.77 L178.60 470.61 L179.19 471.46 L179.78 472.33 L180.37 473.21 L180.96 474.10 L181.55 475.00 L182.14 475.90 L182.72 476.81 L183.31 477.71 L183.90 478.62 L184.49 479.53 L185.08 480.44 L185.67 481.35 L186.26 482.25 L186.85 483.16 L187.44 484.06 L188.03 484.96 L188.62 485.86 L189.21 486.75 L189.80 487.63 L190.39 488.51 L190.97 489.39 L191.56 490.27 L192.15 491.15 L192.74 492.02 L193.33 492.88 L193.92 493.75 L194.51 494.61 L195.10 495.47 L195.69 496.32 L196.28 497.17 L196.87 498.02 L197.46 498.86 L198.05 499.70 L198.64 500.54 L199.22 501.37 L199.81 502.20 L200.40 503.02 L200.99 503.83 L201.58 504.63 L202.17 505.42 L202.76 506.19 L203.35 506.94 L203.94 507.68 L204.53 508.41 L205.12 509.13 L205.71 509.83 L206.30 510.53 L206.89 511.21 L207.47 511.89 L208.06 512.55 L208.65 513.21 L209.24 513.86 L209.83 514.51 L210.42 515.15 L211.01 515.78 L211.60 516.41" fill="none" stroke="#ff9a2e" stroke-width="1.20" stroke-linejoin="round" stroke-linecap="butt"/>
<path d="M35.40 535.93 L35.99 534.37 L36.58 532.88 L37.17 531.48 L37.76 530.14 L38.35 528.87 L38.94 527.65 L39.53 526.48 L40.11 525.37 L40.70 524.33 L41.29 523.37 L41.88 522.50 L42.47 521.73 L43.06 521.07 L43.65 520.52 L44.24 520.04 L44.83 519.63 L45.42 519.28 L46.01 518.98 L46.60 518.74 L47.19 518.53 L47.78 518.37 L48.36 518.23 L48.95 518.12 L49.54 518.01 L50.13 517.92 L50.72 517.85 L51.31 517.82 L51.90 517.84 L52.49 517.92 L53.08 518.07 L53.67 518.30 L54.26 518.62 L54.85 519.00 L55.44 519.43 L56.03 519.89 L56.61 520.39 L57.20 520.93 L57.79 521.50 L58.38 522.11 L58.97 522.76 L59.56 523.43 L60.15 524.14 L60.74 524.85 L61.33 525.59 L61.92 526.33 L62.51 527.07 L63.10 527.82 L63.69 528.57 L64.28 529.31 L64.86 530.03 L65.45 530.75 L66.04 531.45 L66.63 532.14 L67.22 532.82 L67.81 533.49 L68.40 534.16 L68.99 534.82 L69.58 535.47 L70.17 536.11 L70.76 536.73 L71.35 537.33 L71.94 537.92 L72.53 538.48 L73.12 539.02 L73.70 539.53 L74.29 540.01 L74.88 540.47 L75.47 540.90 L76.06 541.31 L76.65 541.71 L77.24 542.08 L77.83 542.45 L78.42 542.80 L79.01 543.14 L79.60 543.47 L80.19 543.80 L80.78 544.12 L81.37 544.44 L81.95 544.75 L82.54 545.06 L83.13 545.35 L83.72 545.64 L84.31 545.93 L84.90 546.21 L85.49 546.48 L86.08 546.74 L86.67 547.00 L87.26 547.24 L87.85 547.49 L88.44 547.72 L89.03 547.94 L89.62 548.14 L90.20 548.33 L90.79 548.50 L91.38 548.66 L91.97 548.81 L92.56 548.95 L93.15 549.08 L93.74 549.20 L94.33 549.31 L94.92 549.42 L95.51 549.52 L96.10 549.62 L96.69 549.70 L97.28 549.76 L97.87 549.79 L98.45 549.80 L99.04 549.78 L99.63 549.73 L100.22 549.66 L100.81 549.56 L101.40 549.42 L101.99 549.26 L102.58 549.07 L103.17 548.84 L103.76 548.58 L104.35 548.28 L104.94 547.94 L105.53 547.57 L106.12 547.16 L106.71 546.72 L107.29 546.25 L107.88 545.75 L108.47 545.22 L109.06 544.65 L109.65 544.06 L110.24 543.44 L110.83 542.80 L111.42 542.14 L112.01 541.48 L112.60 540.81 L113.19 540.13 L113.78 539.44 L114.37 538.73 L114.96 538.02 L115.54 537.30 L116.13 536.57 L116.72 535.82 L117.31 535.07 L117.90 534.31 L118.49 533.54 L119.08 532.76 L119.67 531.97 L120.26 531.18 L120.85 530.38 L121.44 529.58 L122.03 528.76 L122.62 527.94 L123.21 527.11 L123.79 526.26 L124.38 525.41 L124.97 524.54 L125.56 523.65 L126.15 522.75 L126.74 521.83 L127.33 520.89 L127.92 519.94 L128.51 518.96 L129.10 517.97 L129.69 516.96 L130.28 515.94 L130.87 514.90 L131.46 513.83 L132.04 512.75 L132.63 511.64 L133.22 510.51 L133.81 509.35 L134.40 508.17 L134.99 506.97 L135.58 505.73 L136.17 504.47 L136.76 503.18 L137.35 501.87 L137.94 500.57 L138.53 499.26 L139.12 497.95 L139.71 496.65 L140.29 495.34 L140.88 494.03 L141.47 492.73 L142.06 491.42 L142.65 490.12 L143.24 488.81 L143.83 487.50 L144.42 486.20 L145.01 484.89 L145.60 483.59 L146.19 482.28 L146.78 480.97 L147.37 479.67 L147.96 478.36 L148.55 477.06 L149.13 475.75 L149.72 474.44 L150.31 473.14 L150.90 471.83 L151.49 470.53 L152.08 469.22 L152.67 467.91 L153.26 466.61 L153.85 465.30 L154.44 464.00 L155.03 462.73 L155.62 461.53 L156.21 460.38 L156.80 459.29 L157.38 458.24 L157.97 457.23 L158.56 456.26 L159.15 455.33 L159.74 454.42 L160.33 453.54 L160.92 452.69 L161.51 451.84 L162.10 451.01 L162.69 450.25 L163.28 449.59 L163.87 449.04 L164.46 448.57 L165.05 448.20 L165.63 447.92 L166.22 447.72 L166.81 447.59 L167.40 447.54 L167.99 447.56 L168.58 447.63 L169.17 447.78 L169.76 448.00 L170.35 448.31 L170.94 448.72 L171.53 449.23 L172.12 449.85 L172.71 450.59 L173.30 451.45 L173.88 452.35 L174.47 453.26 L175.06 454.20 L175.65 455.15 L176.24 456.12 L176.83 457.11 L177.42 458.12 L178.01 459.14 L178.60 460.19 L179.19 461.26 L179.78 462.35 L180.37 463.46 L180.96 464.60 L181.55 465.76 L182.14 466.94 L182.72 468.14 L183.31 469.35 L183.90 470.58 L184.49 471.81 L185.08 473.04 L185.67 474.27 L186.26 475.48 L186.85 476.69 L187.44 477.88 L188.03 479.05 L188.62 480.19 L189.21 481.30 L189.80 482.38 L190.39 483.43 L190.97 484.48 L191.56 485.51 L192.15 486.52 L192.74 487.53 L193.33 488.52 L193.92 489.49 L194.51 490.46 L195.10 491.41 L195.69 492.35 L196.28 493.28 L196.87 494.19 L197.46 495.10 L198.05 495.99 L198.64 496.87 L199.22 497.75 L199.81 498.61 L200.40 499.46 L200.99 500.30 L201.58 501.14 L202.17 501.96 L202.76 502.78 L203.35 503.59 L203.94 504.39 L204.53 505.19 L205.12 505.97 L205.71 506.74 L206.30 507.51 L206.89 508.26 L207.47 509.00 L208.06 509.74 L208.65 510.46 L209.24 511.18 L209.83 511.88 L210.42 512.57 L211.01 513.25 L211.60 513.92" fill="none" stroke="#f23b3b" stroke-width="1.20" stroke-linejoin="round" stroke-linecap="butt"/>
</g>
<line x1="50.10" y1="440.50" x2="57.80" y2="440.50" stroke="#ff9a2e" stroke-width="1.0"/>
<text x="62.70" y="443.35" font-size="8.70" text-anchor="start" fill="#222" font-weight="normal" font-family="Liberation Sans, sans-serif" >2–1</text>
<line x1="50.10" y1="452.50" x2="57.80" y2="452.50" stroke="#35b3f3" stroke-width="1.0"/>
<text x="62.70" y="455.25" font-size="8.70" text-anchor="start" fill="#222" font-weight="normal" font-family="Liberation Sans, sans-serif" >2–6</text>
<line x1="50.10" y1="464.50" x2="57.80" y2="464.50" stroke="#3faa3f" stroke-width="1.0"/>
<text x="62.70" y="467.85" font-size="8.70" text-anchor="start" fill="#222" font-weight="normal" font-family="Liberation Sans, sans-serif" >2–10</text>
<line x1="50.10" y1="477.50" x2="57.80" y2="477.50" stroke="#f23b3b" stroke-width="1.0"/>
<text x="62.70" y="480.15" font-size="8.70" text-anchor="start" fill="#222" font-weight="normal" font-family="Liberation Sans, sans-serif" >2–13</text>
<text x="3.00" y="433.50" font-size="12.50" text-anchor="start" fill="#000" font-weight="bold" font-family="Liberation Sans, sans-serif"  stroke="#000" stroke-width="0.35">f</text>
<defs>
<clipPath id="clipd"><path d="M94.70 281.40 C94.87 270.10 94.98 272.27 96.00 268.50 C97.02 264.73 98.60 261.50 100.80 258.80 C103.00 256.10 103.75 254.73 109.20 252.30 C114.65 249.87 124.07 247.17 133.50 244.20 C142.93 241.23 157.73 236.87 165.80 234.50 C173.87 232.13 177.60 230.67 181.90 230.00 C186.20 229.33 188.37 229.78 191.60 230.50 C194.83 231.22 195.37 230.93 201.30 234.30 C207.23 237.67 219.65 245.82 227.20 250.70 C234.75 255.58 242.03 260.10 246.60 263.60 C251.17 267.10 252.48 268.47 254.60 271.70 C256.72 274.93 258.40 275.47 259.30 283.00 C260.20 290.53 260.18 304.78 260.00 316.90 C259.82 329.02 259.10 347.35 258.20 355.70 C257.30 364.05 256.27 363.77 254.60 367.00 C252.93 370.23 252.77 371.87 248.20 375.10 C243.63 378.33 235.55 382.37 227.20 386.40 C218.85 390.43 205.65 396.07 198.10 399.30 C190.55 402.53 186.48 404.25 181.90 405.80 C177.32 407.35 174.37 408.30 170.60 408.60 C166.83 408.90 162.53 408.60 159.30 407.60 C156.07 406.60 155.50 405.87 151.20 402.60 C146.90 399.33 139.68 393.40 133.50 388.00 C127.32 382.60 119.22 375.05 114.10 370.20 C108.98 365.35 105.55 362.40 102.80 358.90 C100.05 355.40 98.90 352.97 97.60 349.20 C96.30 345.43 95.48 347.60 95.00 336.30 C94.52 325.00 94.53 292.70 94.70 281.40 Z"/></clipPath>
<filter id="blur1" x="-20%" y="-20%" width="140%" height="140%"><feGaussianBlur stdDeviation="0.9"/></filter>
<filter id="blur2" x="-20%" y="-20%" width="140%" height="140%"><feGaussianBlur stdDeviation="2.2"/></filter>
<filter id="blur3" x="-20%" y="-20%" width="140%" height="140%"><feGaussianBlur stdDeviation="0.9"/></filter>
<linearGradient id="dright" x1="0" y1="0" x2="1" y2="1"><stop offset="0" stop-color="#080cb4"/><stop offset="0.45" stop-color="#04068a"/><stop offset="1" stop-color="#010246"/></linearGradient>
<linearGradient id="dleft" x1="0" y1="0" x2="1" y2="0.4"><stop offset="0" stop-color="#0a12d2"/><stop offset="1" stop-color="#0c14d6"/></linearGradient>
<linearGradient id="dtop" x1="0" y1="1" x2="0.6" y2="0"><stop offset="0" stop-color="#7070ca"/><stop offset="1" stop-color="#5c5ec8"/></linearGradient>
</defs>
<g clip-path="url(#clipd)">
<path d="M94.70 281.40 C94.87 270.10 94.98 272.27 96.00 268.50 C97.02 264.73 98.60 261.50 100.80 258.80 C103.00 256.10 103.75 254.73 109.20 252.30 C114.65 249.87 124.07 247.17 133.50 244.20 C142.93 241.23 157.73 236.87 165.80 234.50 C173.87 232.13 177.60 230.67 181.90 230.00 C186.20 229.33 188.37 229.78 191.60 230.50 C194.83 231.22 195.37 230.93 201.30 234.30 C207.23 237.67 219.65 245.82 227.20 250.70 C234.75 255.58 242.03 260.10 246.60 263.60 C251.17 267.10 252.48 268.47 254.60 271.70 C256.72 274.93 258.40 275.47 259.30 283.00 C260.20 290.53 260.18 304.78 260.00 316.90 C259.82 329.02 259.10 347.35 258.20 355.70 C257.30 364.05 256.27 363.77 254.60 367.00 C252.93 370.23 252.77 371.87 248.20 375.10 C243.63 378.33 235.55 382.37 227.20 386.40 C218.85 390.43 205.65 396.07 198.10 399.30 C190.55 402.53 186.48 404.25 181.90 405.80 C177.32 407.35 174.37 408.30 170.60 408.60 C166.83 408.90 162.53 408.60 159.30 407.60 C156.07 406.60 155.50 405.87 151.20 402.60 C146.90 399.33 139.68 393.40 133.50 388.00 C127.32 382.60 119.22 375.05 114.10 370.20 C108.98 365.35 105.55 362.40 102.80 358.90 C100.05 355.40 98.90 352.97 97.60 349.20 C96.30 345.43 95.48 347.60 95.00 336.30 C94.52 325.00 94.53 292.70 94.70 281.40 Z" fill="#0a10cc"/>
<path d="M163 293 L262 268 L262 380 L166 412 Z" fill="url(#dright)"/>
<path d="M96 262 L182 226 L262 270 L163 294 Z" fill="#1218b4"/>
<g filter="url(#blur2)">
<path d="M99 261 L163 294 L163 303 L97 271 Z" fill="#00005e" opacity="0.95"/>
<path d="M200 232 L258 268 L262 290 L248 268 L196 236 Z" fill="#02027a" opacity="0.8"/>
<path d="M262 330 L262 385 L170 412 L200 392 L250 368 Z" fill="#01013c" opacity="0.8"/>
<path d="M178 288 L244 261.5 L254 268 L250 272 L181 298 Z" fill="#00005a" opacity="0.85"/>
</g>
<g filter="url(#blur3)">
<path d="M111.5 254 L183.5 227.5 L245 262 L177.5 288.8 Z" fill="url(#dtop)"/>
<path d="M172 298 L250 278.5 L252 286 L174 306 Z" fill="#5a5ad0" opacity="0.7"/>
<path d="M159 302 L168 302 L169 402 L161 402 Z" fill="#5050dc" opacity="0.7"/>
</g>
<g filter="url(#blur1)">
<radialGradient id="sg1"><stop offset="0.000" stop-color="#80ff80" stop-opacity="1.00"/><stop offset="0.100" stop-color="#6bff94" stop-opacity="1.00"/><stop offset="0.200" stop-color="#4dffb2" stop-opacity="1.00"/><stop offset="0.300" stop-color="#2affd5" stop-opacity="1.00"/><stop offset="0.400" stop-color="#04fffb" stop-opacity="1.00"/><stop offset="0.500" stop-color="#00d9ff" stop-opacity="1.00"/><stop offset="0.600" stop-color="#00acff" stop-opacity="1.00"/><stop offset="0.700" stop-color="#007eff" stop-opacity="0.75"/><stop offset="0.800" stop-color="#004dff" stop-opacity="0.50"/><stop offset="0.900" stop-color="#001bff" stop-opacity="0.25"/><stop offset="1.000" stop-color="#0000e6" stop-opacity="0.00"/></radialGradient>
<ellipse cx="147.3" cy="258.9" rx="8.4" ry="4.2" transform="rotate(-18 147.3 258.9)" fill="url(#sg1)"/>
<ellipse cx="147.3" cy="258.9" rx="2.6" ry="1.3" transform="rotate(-18 147.3 258.9)" fill="#e8fbff" opacity="0.6"/>
<ellipse cx="159.8" cy="254.4" rx="8.4" ry="4.2" transform="rotate(-18 159.8 254.4)" fill="url(#sg1)"/>
<ellipse cx="159.8" cy="254.4" rx="2.6" ry="1.3" transform="rotate(-18 159.8 254.4)" fill="#e8fbff" opacity="0.6"/>
<ellipse cx="174.5" cy="249.4" rx="8.4" ry="4.2" transform="rotate(-18 174.5 249.4)" fill="url(#sg1)"/>
<ellipse cx="174.5" cy="249.4" rx="2.6" ry="1.3" transform="rotate(-18 174.5 249.4)" fill="#e8fbff" opacity="0.6"/>
<ellipse cx="185.8" cy="245.4" rx="8.4" ry="4.2" transform="rotate(-18 185.8 245.4)" fill="url(#sg1)"/>
<ellipse cx="185.8" cy="245.4" rx="2.6" ry="1.3" transform="rotate(-18 185.8 245.4)" fill="#e8fbff" opacity="0.6"/>
<ellipse cx="166.6" cy="272.1" rx="8.4" ry="4.2" transform="rotate(-18 166.6 272.1)" fill="url(#sg1)"/>
<ellipse cx="166.6" cy="272.1" rx="2.6" ry="1.3" transform="rotate(-18 166.6 272.1)" fill="#e8fbff" opacity="0.6"/>
<ellipse cx="179.0" cy="266.9" rx="8.4" ry="4.2" transform="rotate(-18 179.0 266.9)" fill="url(#sg1)"/>
<ellipse cx="179.0" cy="266.9" rx="2.6" ry="1.3" transform="rotate(-18 179.0 266.9)" fill="#e8fbff" opacity="0.6"/>
<ellipse cx="192.6" cy="261.7" rx="8.4" ry="4.2" transform="rotate(-18 192.6 261.7)" fill="url(#sg1)"/>
<ellipse cx="192.6" cy="261.7" rx="2.6" ry="1.3" transform="rotate(-18 192.6 261.7)" fill="#e8fbff" opacity="0.6"/>
<ellipse cx="206.2" cy="258.5" rx="8.4" ry="4.2" transform="rotate(-18 206.2 258.5)" fill="url(#sg1)"/>
<ellipse cx="206.2" cy="258.5" rx="2.6" ry="1.3" transform="rotate(-18 206.2 258.5)" fill="#e8fbff" opacity="0.6"/>
<radialGradient id="sg2"><stop offset="0.000" stop-color="#e5ff1a" stop-opacity="1.00"/><stop offset="0.100" stop-color="#ccff33" stop-opacity="1.00"/><stop offset="0.200" stop-color="#a7ff58" stop-opacity="1.00"/><stop offset="0.300" stop-color="#7bff84" stop-opacity="1.00"/><stop offset="0.400" stop-color="#4bffb4" stop-opacity="1.00"/><stop offset="0.500" stop-color="#16ffe9" stop-opacity="1.00"/><stop offset="0.600" stop-color="#00deff" stop-opacity="1.00"/><stop offset="0.700" stop-color="#00a4ff" stop-opacity="0.75"/><stop offset="0.800" stop-color="#0067ff" stop-opacity="0.50"/><stop offset="0.900" stop-color="#0028ff" stop-opacity="0.25"/><stop offset="1.000" stop-color="#0000e6" stop-opacity="0.00"/></radialGradient>
<ellipse cx="131.5" cy="247.3" rx="6.5" ry="3.0" transform="rotate(-18 131.5 247.3)" fill="url(#sg2)"/>
<ellipse cx="143.9" cy="243.8" rx="6.5" ry="3.0" transform="rotate(-18 143.9 243.8)" fill="url(#sg1)"/>
<ellipse cx="157.5" cy="239.4" rx="6.5" ry="3.0" transform="rotate(-18 157.5 239.4)" fill="url(#sg1)"/>
<radialGradient id="sg3"><stop offset="0.000" stop-color="#faff05" stop-opacity="1.00"/><stop offset="0.100" stop-color="#dfff20" stop-opacity="1.00"/><stop offset="0.200" stop-color="#b8ff47" stop-opacity="1.00"/><stop offset="0.300" stop-color="#8bff74" stop-opacity="1.00"/><stop offset="0.400" stop-color="#59ffa6" stop-opacity="1.00"/><stop offset="0.500" stop-color="#22ffdd" stop-opacity="1.00"/><stop offset="0.600" stop-color="#00e8ff" stop-opacity="1.00"/><stop offset="0.700" stop-color="#00abff" stop-opacity="0.75"/><stop offset="0.800" stop-color="#006cff" stop-opacity="0.50"/><stop offset="0.900" stop-color="#002aff" stop-opacity="0.25"/><stop offset="1.000" stop-color="#0000e6" stop-opacity="0.00"/></radialGradient>
<ellipse cx="168.8" cy="235.0" rx="6.5" ry="3.0" transform="rotate(-18 168.8 235.0)" fill="url(#sg3)"/>
<radialGradient id="sg4"><stop offset="0.000" stop-color="#00f0ff" stop-opacity="1.00"/><stop offset="0.100" stop-color="#00e2ff" stop-opacity="1.00"/><stop offset="0.200" stop-color="#00cfff" stop-opacity="1.00"/><stop offset="0.300" stop-color="#00b8ff" stop-opacity="1.00"/><stop offset="0.400" stop-color="#009fff" stop-opacity="1.00"/><stop offset="0.500" stop-color="#0084ff" stop-opacity="1.00"/><stop offset="0.600" stop-color="#0067ff" stop-opacity="1.00"/><stop offset="0.700" stop-color="#0049ff" stop-opacity="0.75"/><stop offset="0.800" stop-color="#0029ff" stop-opacity="0.50"/><stop offset="0.900" stop-color="#0008ff" stop-opacity="0.25"/><stop offset="1.000" stop-color="#0000e6" stop-opacity="0.00"/></radialGradient>
<ellipse cx="142.6" cy="282.2" rx="5.5" ry="4.5" transform="rotate(0 142.6 282.2)" fill="url(#sg4)"/>
<radialGradient id="sg5"><stop offset="0.000" stop-color="#c70000" stop-opacity="1.00"/><stop offset="0.100" stop-color="#f10000" stop-opacity="1.00"/><stop offset="0.200" stop-color="#ff3000" stop-opacity="1.00"/><stop offset="0.300" stop-color="#ff7900" stop-opacity="1.00"/><stop offset="0.400" stop-color="#ffc900" stop-opacity="1.00"/><stop offset="0.500" stop-color="#deff21" stop-opacity="1.00"/><stop offset="0.600" stop-color="#82ff7d" stop-opacity="1.00"/><stop offset="0.700" stop-color="#22ffdd" stop-opacity="0.75"/><stop offset="0.800" stop-color="#00bcff" stop-opacity="0.50"/><stop offset="0.900" stop-color="#0053ff" stop-opacity="0.25"/><stop offset="1.000" stop-color="#0000e6" stop-opacity="0.00"/></radialGradient>
<ellipse cx="185.9" cy="285.0" rx="6.6" ry="5.6" transform="rotate(-15 185.9 285.0)" fill="url(#sg5)"/>
<radialGradient id="sg6"><stop offset="0.000" stop-color="#ffdb00" stop-opacity="1.00"/><stop offset="0.100" stop-color="#fff800" stop-opacity="1.00"/><stop offset="0.200" stop-color="#dcff23" stop-opacity="1.00"/><stop offset="0.300" stop-color="#abff54" stop-opacity="1.00"/><stop offset="0.400" stop-color="#75ff8a" stop-opacity="1.00"/><stop offset="0.500" stop-color="#3bffc4" stop-opacity="1.00"/><stop offset="0.600" stop-color="#00fcff" stop-opacity="1.00"/><stop offset="0.700" stop-color="#00baff" stop-opacity="0.75"/><stop offset="0.800" stop-color="#0076ff" stop-opacity="0.50"/><stop offset="0.900" stop-color="#0030ff" stop-opacity="0.25"/><stop offset="1.000" stop-color="#0000e6" stop-opacity="0.00"/></radialGradient>
<ellipse cx="198.5" cy="280.0" rx="5.4" ry="4.6" transform="rotate(-15 198.5 280.0)" fill="url(#sg6)"/>
<ellipse cx="212.8" cy="275.3" rx="5.4" ry="4.6" transform="rotate(-15 212.8 275.3)" fill="url(#sg6)"/>
<ellipse cx="224.9" cy="271.2" rx="6.4" ry="5.4" transform="rotate(-15 224.9 271.2)" fill="url(#sg5)"/>
<radialGradient id="sg7"><stop offset="0.000" stop-color="#4cffb3" stop-opacity="1.00"/><stop offset="0.100" stop-color="#3bffc4" stop-opacity="1.00"/><stop offset="0.200" stop-color="#20ffdf" stop-opacity="1.00"/><stop offset="0.300" stop-color="#02fffd" stop-opacity="1.00"/><stop offset="0.400" stop-color="#00dfff" stop-opacity="1.00"/><stop offset="0.500" stop-color="#00bbff" stop-opacity="1.00"/><stop offset="0.600" stop-color="#0094ff" stop-opacity="1.00"/><stop offset="0.700" stop-color="#006bff" stop-opacity="0.75"/><stop offset="0.800" stop-color="#0040ff" stop-opacity="0.50"/><stop offset="0.900" stop-color="#0014ff" stop-opacity="0.25"/><stop offset="1.000" stop-color="#0000e6" stop-opacity="0.00"/></radialGradient>
<ellipse cx="115.7" cy="290.1" rx="5.5" ry="8.0" transform="rotate(-12 115.7 290.1)" fill="url(#sg7)"/>
<ellipse cx="130.3" cy="300.1" rx="5.5" ry="8.0" transform="rotate(-12 130.3 300.1)" fill="url(#sg7)"/>
<radialGradient id="sg8"><stop offset="0.000" stop-color="#0061ff" stop-opacity="1.00"/><stop offset="0.100" stop-color="#005bff" stop-opacity="1.00"/><stop offset="0.200" stop-color="#0052ff" stop-opacity="1.00"/><stop offset="0.300" stop-color="#0047ff" stop-opacity="1.00"/><stop offset="0.400" stop-color="#003cff" stop-opacity="1.00"/><stop offset="0.500" stop-color="#002fff" stop-opacity="1.00"/><stop offset="0.600" stop-color="#0022ff" stop-opacity="1.00"/><stop offset="0.700" stop-color="#0014ff" stop-opacity="0.75"/><stop offset="0.800" stop-color="#0005ff" stop-opacity="0.50"/><stop offset="0.900" stop-color="#0000f5" stop-opacity="0.25"/><stop offset="1.000" stop-color="#0000e6" stop-opacity="0.00"/></radialGradient>
<ellipse cx="114.6" cy="315.8" rx="5.0" ry="7.0" transform="rotate(-12 114.6 315.8)" fill="url(#sg8)"/>
<ellipse cx="129.2" cy="327.0" rx="5.0" ry="7.0" transform="rotate(-12 129.2 327.0)" fill="url(#sg8)"/>
<ellipse cx="114.6" cy="340.4" rx="5.0" ry="7.0" transform="rotate(-12 114.6 340.4)" fill="url(#sg8)"/>
<radialGradient id="sg9"><stop offset="0.000" stop-color="#0094ff" stop-opacity="1.00"/><stop offset="0.100" stop-color="#008bff" stop-opacity="1.00"/><stop offset="0.200" stop-color="#007fff" stop-opacity="1.00"/><stop offset="0.300" stop-color="#0070ff" stop-opacity="1.00"/><stop offset="0.400" stop-color="#005fff" stop-opacity="1.00"/><stop offset="0.500" stop-color="#004dff" stop-opacity="1.00"/><stop offset="0.600" stop-color="#003bff" stop-opacity="1.00"/><stop offset="0.700" stop-color="#0027ff" stop-opacity="0.75"/><stop offset="0.800" stop-color="#0012ff" stop-opacity="0.50"/><stop offset="0.900" stop-color="#0000fc" stop-opacity="0.25"/><stop offset="1.000" stop-color="#0000e6" stop-opacity="0.00"/></radialGradient>
<ellipse cx="131.4" cy="351.6" rx="5.0" ry="7.0" transform="rotate(-12 131.4 351.6)" fill="url(#sg9)"/>
<ellipse cx="116.9" cy="368.4" rx="5.0" ry="6.5" transform="rotate(-12 116.9 368.4)" fill="url(#sg4)"/>
<radialGradient id="sg10"><stop offset="0.000" stop-color="#38ffc7" stop-opacity="1.00"/><stop offset="0.100" stop-color="#27ffd8" stop-opacity="1.00"/><stop offset="0.200" stop-color="#0ffff0" stop-opacity="1.00"/><stop offset="0.300" stop-color="#00f1ff" stop-opacity="1.00"/><stop offset="0.400" stop-color="#00d1ff" stop-opacity="1.00"/><stop offset="0.500" stop-color="#00aeff" stop-opacity="1.00"/><stop offset="0.600" stop-color="#008aff" stop-opacity="1.00"/><stop offset="0.700" stop-color="#0063ff" stop-opacity="0.75"/><stop offset="0.800" stop-color="#003bff" stop-opacity="0.50"/><stop offset="0.900" stop-color="#0012ff" stop-opacity="0.25"/><stop offset="1.000" stop-color="#0000e6" stop-opacity="0.00"/></radialGradient>
<ellipse cx="130.3" cy="378.5" rx="5.0" ry="6.5" transform="rotate(-12 130.3 378.5)" fill="url(#sg10)"/>
<radialGradient id="sg11"><stop offset="0.000" stop-color="#05fffa" stop-opacity="1.00"/><stop offset="0.100" stop-color="#00f6ff" stop-opacity="1.00"/><stop offset="0.200" stop-color="#00e1ff" stop-opacity="1.00"/><stop offset="0.300" stop-color="#00c8ff" stop-opacity="1.00"/><stop offset="0.400" stop-color="#00adff" stop-opacity="1.00"/><stop offset="0.500" stop-color="#0090ff" stop-opacity="1.00"/><stop offset="0.600" stop-color="#0071ff" stop-opacity="1.00"/><stop offset="0.700" stop-color="#0050ff" stop-opacity="0.75"/><stop offset="0.800" stop-color="#002eff" stop-opacity="0.50"/><stop offset="0.900" stop-color="#000bff" stop-opacity="0.25"/><stop offset="1.000" stop-color="#0000e6" stop-opacity="0.00"/></radialGradient>
<ellipse cx="151.6" cy="342.7" rx="6.0" ry="8.8" transform="rotate(-12 151.6 342.7)" fill="url(#sg11)"/>
<radialGradient id="sg12"><stop offset="0.000" stop-color="#42ffbd" stop-opacity="1.00"/><stop offset="0.100" stop-color="#31ffce" stop-opacity="1.00"/><stop offset="0.200" stop-color="#18ffe7" stop-opacity="1.00"/><stop offset="0.300" stop-color="#00f9ff" stop-opacity="1.00"/><stop offset="0.400" stop-color="#00d8ff" stop-opacity="1.00"/><stop offset="0.500" stop-color="#00b4ff" stop-opacity="1.00"/><stop offset="0.600" stop-color="#008fff" stop-opacity="1.00"/><stop offset="0.700" stop-color="#0067ff" stop-opacity="0.75"/><stop offset="0.800" stop-color="#003eff" stop-opacity="0.50"/><stop offset="0.900" stop-color="#0013ff" stop-opacity="0.25"/><stop offset="1.000" stop-color="#0000e6" stop-opacity="0.00"/></radialGradient>
<ellipse cx="151.6" cy="366.2" rx="6.0" ry="7.8" transform="rotate(-12 151.6 366.2)" fill="url(#sg12)"/>
<radialGradient id="sg13"><stop offset="0.000" stop-color="#2effd1" stop-opacity="1.00"/><stop offset="0.100" stop-color="#1effe1" stop-opacity="1.00"/><stop offset="0.200" stop-color="#06fff9" stop-opacity="1.00"/><stop offset="0.300" stop-color="#00e9ff" stop-opacity="1.00"/><stop offset="0.400" stop-color="#00caff" stop-opacity="1.00"/><stop offset="0.500" stop-color="#00a8ff" stop-opacity="1.00"/><stop offset="0.600" stop-color="#0085ff" stop-opacity="1.00"/><stop offset="0.700" stop-color="#0060ff" stop-opacity="0.75"/><stop offset="0.800" stop-color="#0039ff" stop-opacity="0.50"/><stop offset="0.900" stop-color="#0010ff" stop-opacity="0.25"/><stop offset="1.000" stop-color="#0000e6" stop-opacity="0.00"/></radialGradient>
<ellipse cx="97.8" cy="309.1" rx="3.5" ry="8.0" transform="rotate(-12 97.8 309.1)" fill="url(#sg13)"/>
<ellipse cx="97.8" cy="329.2" rx="3.5" ry="8.0" transform="rotate(-12 97.8 329.2)" fill="url(#sg13)"/>
<radialGradient id="sg14"><stop offset="0.000" stop-color="#fff000" stop-opacity="1.00"/><stop offset="0.100" stop-color="#f3ff0c" stop-opacity="1.00"/><stop offset="0.200" stop-color="#caff35" stop-opacity="1.00"/><stop offset="0.300" stop-color="#9bff64" stop-opacity="1.00"/><stop offset="0.400" stop-color="#67ff98" stop-opacity="1.00"/><stop offset="0.500" stop-color="#2fffd0" stop-opacity="1.00"/><stop offset="0.600" stop-color="#00f2ff" stop-opacity="1.00"/><stop offset="0.700" stop-color="#00b3ff" stop-opacity="0.75"/><stop offset="0.800" stop-color="#0071ff" stop-opacity="0.50"/><stop offset="0.900" stop-color="#002dff" stop-opacity="0.25"/><stop offset="1.000" stop-color="#0000e6" stop-opacity="0.00"/></radialGradient>
<ellipse cx="198.6" cy="308.8" rx="4.2" ry="7.2" transform="rotate(12 198.6 308.8)" fill="url(#sg14)"/>
<radialGradient id="sg15"><stop offset="0.000" stop-color="#d1ff2e" stop-opacity="1.00"/><stop offset="0.100" stop-color="#b9ff46" stop-opacity="1.00"/><stop offset="0.200" stop-color="#95ff6a" stop-opacity="1.00"/><stop offset="0.300" stop-color="#6bff94" stop-opacity="1.00"/><stop offset="0.400" stop-color="#3cffc3" stop-opacity="1.00"/><stop offset="0.500" stop-color="#0afff5" stop-opacity="1.00"/><stop offset="0.600" stop-color="#00d4ff" stop-opacity="1.00"/><stop offset="0.700" stop-color="#009cff" stop-opacity="0.75"/><stop offset="0.800" stop-color="#0062ff" stop-opacity="0.50"/><stop offset="0.900" stop-color="#0025ff" stop-opacity="0.25"/><stop offset="1.000" stop-color="#0000e6" stop-opacity="0.00"/></radialGradient>
<ellipse cx="210.1" cy="305.0" rx="3.6" ry="6.4" transform="rotate(12 210.1 305.0)" fill="url(#sg15)"/>
<radialGradient id="sg16"><stop offset="0.000" stop-color="#6bff94" stop-opacity="1.00"/><stop offset="0.100" stop-color="#58ffa7" stop-opacity="1.00"/><stop offset="0.200" stop-color="#3bffc4" stop-opacity="1.00"/><stop offset="0.300" stop-color="#1affe5" stop-opacity="1.00"/><stop offset="0.400" stop-color="#00f4ff" stop-opacity="1.00"/><stop offset="0.500" stop-color="#00cdff" stop-opacity="1.00"/><stop offset="0.600" stop-color="#00a3ff" stop-opacity="1.00"/><stop offset="0.700" stop-color="#0076ff" stop-opacity="0.75"/><stop offset="0.800" stop-color="#0048ff" stop-opacity="0.50"/><stop offset="0.900" stop-color="#0018ff" stop-opacity="0.25"/><stop offset="1.000" stop-color="#0000e6" stop-opacity="0.00"/></radialGradient>
<ellipse cx="224.3" cy="298.6" rx="3.8" ry="6.4" transform="rotate(12 224.3 298.6)" fill="url(#sg16)"/>
<ellipse cx="235.8" cy="294.7" rx="4.2" ry="7.2" transform="rotate(12 235.8 294.7)" fill="url(#sg14)"/>
<radialGradient id="sg17"><stop offset="0.000" stop-color="#00faff" stop-opacity="1.00"/><stop offset="0.100" stop-color="#00ecff" stop-opacity="1.00"/><stop offset="0.200" stop-color="#00d8ff" stop-opacity="1.00"/><stop offset="0.300" stop-color="#00c0ff" stop-opacity="1.00"/><stop offset="0.400" stop-color="#00a6ff" stop-opacity="1.00"/><stop offset="0.500" stop-color="#008aff" stop-opacity="1.00"/><stop offset="0.600" stop-color="#006cff" stop-opacity="1.00"/><stop offset="0.700" stop-color="#004dff" stop-opacity="0.75"/><stop offset="0.800" stop-color="#002cff" stop-opacity="0.50"/><stop offset="0.900" stop-color="#000aff" stop-opacity="0.25"/><stop offset="1.000" stop-color="#0000e6" stop-opacity="0.00"/></radialGradient>
<ellipse cx="198.6" cy="335.8" rx="3.8" ry="7.2" transform="rotate(12 198.6 335.8)" fill="url(#sg17)"/>
<radialGradient id="sg18"><stop offset="0.000" stop-color="#00e5ff" stop-opacity="1.00"/><stop offset="0.100" stop-color="#00d9ff" stop-opacity="1.00"/><stop offset="0.200" stop-color="#00c6ff" stop-opacity="1.00"/><stop offset="0.300" stop-color="#00b0ff" stop-opacity="1.00"/><stop offset="0.400" stop-color="#0098ff" stop-opacity="1.00"/><stop offset="0.500" stop-color="#007eff" stop-opacity="1.00"/><stop offset="0.600" stop-color="#0062ff" stop-opacity="1.00"/><stop offset="0.700" stop-color="#0045ff" stop-opacity="0.75"/><stop offset="0.800" stop-color="#0027ff" stop-opacity="0.50"/><stop offset="0.900" stop-color="#0007ff" stop-opacity="0.25"/><stop offset="1.000" stop-color="#0000e6" stop-opacity="0.00"/></radialGradient>
<ellipse cx="211.4" cy="330.7" rx="3.5" ry="6.8" transform="rotate(12 211.4 330.7)" fill="url(#sg18)"/>
<ellipse cx="224.3" cy="325.5" rx="3.5" ry="6.8" transform="rotate(12 224.3 325.5)" fill="url(#sg18)"/>
<ellipse cx="237.1" cy="320.4" rx="3.8" ry="6.8" transform="rotate(12 237.1 320.4)" fill="url(#sg17)"/>
<ellipse cx="198.6" cy="365.4" rx="3.8" ry="7.2" transform="rotate(12 198.6 365.4)" fill="url(#sg17)"/>
<ellipse cx="211.4" cy="359.0" rx="3.5" ry="6.8" transform="rotate(12 211.4 359.0)" fill="url(#sg18)"/>
<ellipse cx="224.3" cy="353.8" rx="3.5" ry="6.8" transform="rotate(12 224.3 353.8)" fill="url(#sg18)"/>
<ellipse cx="236.3" cy="350.0" rx="3.8" ry="6.8" transform="rotate(12 236.3 350.0)" fill="url(#sg17)"/>
<ellipse cx="198.6" cy="391.1" rx="4.0" ry="6.0" transform="rotate(12 198.6 391.1)" fill="url(#sg2)"/>
<ellipse cx="210.1" cy="386.0" rx="3.6" ry="5.6" transform="rotate(12 210.1 386.0)" fill="url(#sg13)"/>
<radialGradient id="sg19"><stop offset="0.000" stop-color="#bdff42" stop-opacity="1.00"/><stop offset="0.100" stop-color="#a5ff5a" stop-opacity="1.00"/><stop offset="0.200" stop-color="#83ff7c" stop-opacity="1.00"/><stop offset="0.300" stop-color="#5bffa4" stop-opacity="1.00"/><stop offset="0.400" stop-color="#2effd1" stop-opacity="1.00"/><stop offset="0.500" stop-color="#00fdff" stop-opacity="1.00"/><stop offset="0.600" stop-color="#00caff" stop-opacity="1.00"/><stop offset="0.700" stop-color="#0095ff" stop-opacity="0.75"/><stop offset="0.800" stop-color="#005dff" stop-opacity="0.50"/><stop offset="0.900" stop-color="#0023ff" stop-opacity="0.25"/><stop offset="1.000" stop-color="#0000e6" stop-opacity="0.00"/></radialGradient>
<ellipse cx="223.0" cy="379.5" rx="4.0" ry="6.0" transform="rotate(12 223.0 379.5)" fill="url(#sg19)"/>
<ellipse cx="234.5" cy="374.4" rx="4.2" ry="6.0" transform="rotate(12 234.5 374.4)" fill="url(#sg3)"/>
<ellipse cx="174.1" cy="346.1" rx="6.0" ry="8.8" transform="rotate(12 174.1 346.1)" fill="url(#sg11)"/>
<ellipse cx="175.4" cy="370.5" rx="6.0" ry="7.8" transform="rotate(12 175.4 370.5)" fill="url(#sg13)"/>
<radialGradient id="sg20"><stop offset="0.000" stop-color="#00b3ff" stop-opacity="1.00"/><stop offset="0.100" stop-color="#00a8ff" stop-opacity="1.00"/><stop offset="0.200" stop-color="#0099ff" stop-opacity="1.00"/><stop offset="0.300" stop-color="#0088ff" stop-opacity="1.00"/><stop offset="0.400" stop-color="#0075ff" stop-opacity="1.00"/><stop offset="0.500" stop-color="#0060ff" stop-opacity="1.00"/><stop offset="0.600" stop-color="#0049ff" stop-opacity="1.00"/><stop offset="0.700" stop-color="#0032ff" stop-opacity="0.75"/><stop offset="0.800" stop-color="#001aff" stop-opacity="0.50"/><stop offset="0.900" stop-color="#0001ff" stop-opacity="0.25"/><stop offset="1.000" stop-color="#0000e6" stop-opacity="0.00"/></radialGradient>
<ellipse cx="255.0" cy="314.0" rx="3.2" ry="7.5" transform="rotate(12 255.0 314.0)" fill="url(#sg20)"/>
<ellipse cx="253.8" cy="337.0" rx="3.2" ry="7.5" transform="rotate(12 253.8 337.0)" fill="url(#sg20)"/>
<radialGradient id="sg21"><stop offset="0.000" stop-color="#800000" stop-opacity="1.00"/><stop offset="0.100" stop-color="#ae0000" stop-opacity="1.00"/><stop offset="0.200" stop-color="#f10000" stop-opacity="1.00"/><stop offset="0.300" stop-color="#ff4000" stop-opacity="1.00"/><stop offset="0.400" stop-color="#ff9700" stop-opacity="1.00"/><stop offset="0.500" stop-color="#fff500" stop-opacity="1.00"/><stop offset="0.600" stop-color="#a5ff5a" stop-opacity="1.00"/><stop offset="0.700" stop-color="#3cffc3" stop-opacity="0.75"/><stop offset="0.800" stop-color="#00ceff" stop-opacity="0.50"/><stop offset="0.900" stop-color="#005cff" stop-opacity="0.25"/><stop offset="1.000" stop-color="#0000e6" stop-opacity="0.00"/></radialGradient>
<ellipse cx="246.8" cy="264.8" rx="9.0" ry="7.5" transform="rotate(30 246.8 264.8)" fill="url(#sg21)"/>
<ellipse cx="256.6" cy="285.7" rx="5.5" ry="11.5" transform="rotate(0 256.6 285.7)" fill="url(#sg21)"/>
<ellipse cx="108.5" cy="258.0" rx="10.0" ry="7.0" transform="rotate(-28 108.5 258.0)" fill="url(#sg21)"/>
<ellipse cx="97.0" cy="281.0" rx="5.5" ry="12.0" transform="rotate(0 97.0 281.0)" fill="url(#sg21)"/>
<radialGradient id="sg22"><stop offset="0.000" stop-color="#9e0000" stop-opacity="1.00"/><stop offset="0.100" stop-color="#cb0000" stop-opacity="1.00"/><stop offset="0.200" stop-color="#ff0d00" stop-opacity="1.00"/><stop offset="0.300" stop-color="#ff5900" stop-opacity="1.00"/><stop offset="0.400" stop-color="#ffad00" stop-opacity="1.00"/><stop offset="0.500" stop-color="#f7ff08" stop-opacity="1.00"/><stop offset="0.600" stop-color="#96ff69" stop-opacity="1.00"/><stop offset="0.700" stop-color="#31ffce" stop-opacity="0.75"/><stop offset="0.800" stop-color="#00c6ff" stop-opacity="0.50"/><stop offset="0.900" stop-color="#0058ff" stop-opacity="0.25"/><stop offset="1.000" stop-color="#0000e6" stop-opacity="0.00"/></radialGradient>
<ellipse cx="163.0" cy="295.5" rx="10.5" ry="9.6" transform="rotate(0 163.0 295.5)" fill="url(#sg22)"/>
<radialGradient id="sg23"><stop offset="0.000" stop-color="#b3ff4c" stop-opacity="1.00"/><stop offset="0.100" stop-color="#9bff64" stop-opacity="1.00"/><stop offset="0.200" stop-color="#7aff85" stop-opacity="1.00"/><stop offset="0.300" stop-color="#53ffac" stop-opacity="1.00"/><stop offset="0.400" stop-color="#27ffd8" stop-opacity="1.00"/><stop offset="0.500" stop-color="#00f7ff" stop-opacity="1.00"/><stop offset="0.600" stop-color="#00c5ff" stop-opacity="1.00"/><stop offset="0.700" stop-color="#0091ff" stop-opacity="0.75"/><stop offset="0.800" stop-color="#005aff" stop-opacity="0.50"/><stop offset="0.900" stop-color="#0021ff" stop-opacity="0.25"/><stop offset="1.000" stop-color="#0000e6" stop-opacity="0.00"/></radialGradient>
<ellipse cx="162.0" cy="318.5" rx="7.5" ry="6.0" transform="rotate(0 162.0 318.5)" fill="url(#sg23)"/>
<ellipse cx="150.4" cy="316.9" rx="10.6" ry="11.6" transform="rotate(0 150.4 316.9)" fill="url(#sg21)"/>
<ellipse cx="173.6" cy="317.9" rx="10.6" ry="11.6" transform="rotate(0 173.6 317.9)" fill="url(#sg21)"/>
<ellipse cx="151.6" cy="395.8" rx="9.5" ry="9.5" transform="rotate(0 151.6 395.8)" fill="url(#sg21)"/>
<ellipse cx="174.6" cy="399.3" rx="9.5" ry="8.5" transform="rotate(0 174.6 399.3)" fill="url(#sg21)"/>
<ellipse cx="99.6" cy="354.5" rx="4.8" ry="11.0" transform="rotate(-12 99.6 354.5)" fill="url(#sg21)"/>
<radialGradient id="sg24"><stop offset="0.000" stop-color="#ff1a00" stop-opacity="1.00"/><stop offset="0.100" stop-color="#ff4000" stop-opacity="1.00"/><stop offset="0.200" stop-color="#ff7800" stop-opacity="1.00"/><stop offset="0.300" stop-color="#ffb900" stop-opacity="1.00"/><stop offset="0.400" stop-color="#fcff03" stop-opacity="1.00"/><stop offset="0.500" stop-color="#aeff51" stop-opacity="1.00"/><stop offset="0.600" stop-color="#5bffa4" stop-opacity="1.00"/><stop offset="0.700" stop-color="#03fffc" stop-opacity="0.75"/><stop offset="0.800" stop-color="#00a7ff" stop-opacity="0.50"/><stop offset="0.900" stop-color="#0048ff" stop-opacity="0.25"/><stop offset="1.000" stop-color="#0000e6" stop-opacity="0.00"/></radialGradient>
<ellipse cx="252.8" cy="365.4" rx="7.5" ry="7.5" transform="rotate(0 252.8 365.4)" fill="url(#sg24)"/>
</g>
</g>
<text x="1.70" y="207.20" font-size="12.50" text-anchor="start" fill="#000" font-weight="bold" font-family="Liberation Sans, sans-serif"  stroke="#000" stroke-width="0.35">d</text>
<defs><linearGradient id="jetv" x1="0" y1="1" x2="0" y2="0"><stop offset="0.000" stop-color="#000080"/><stop offset="0.062" stop-color="#0000bf"/><stop offset="0.125" stop-color="#0000ff"/><stop offset="0.188" stop-color="#0040ff"/><stop offset="0.250" stop-color="#0080ff"/><stop offset="0.312" stop-color="#00bfff"/><stop offset="0.375" stop-color="#00ffff"/><stop offset="0.438" stop-color="#40ffbf"/><stop offset="0.500" stop-color="#80ff80"/><stop offset="0.562" stop-color="#bfff40"/><stop offset="0.625" stop-color="#ffff00"/><stop offset="0.688" stop-color="#ffbf00"/><stop offset="0.750" stop-color="#ff8000"/><stop offset="0.812" stop-color="#ff4000"/><stop offset="0.875" stop-color="#ff0000"/><stop offset="0.938" stop-color="#bf0000"/><stop offset="1.000" stop-color="#800000"/></linearGradient></defs>
<line x1="42.80" y1="404.90" x2="31.93" y2="396.83" stroke="#3fae49" stroke-width="1.15" stroke-linecap="round"/>
<path d="M28.80 394.50 L33.47 395.60 L31.20 398.65 Z" fill="#3fae49"/>
<line x1="42.80" y1="404.90" x2="59.15" y2="398.77" stroke="#e8175d" stroke-width="1.15" stroke-linecap="round"/>
<path d="M62.80 397.40 L59.35 400.72 L58.01 397.17 Z" fill="#e8175d"/>
<line x1="42.80" y1="404.90" x2="42.80" y2="388.70" stroke="#4a86c8" stroke-width="1.15" stroke-linecap="round"/>
<path d="M42.80 384.80 L44.70 389.20 L40.90 389.20 Z" fill="#4a86c8"/>
<text x="42.40" y="382.30" font-size="8.50" text-anchor="middle" fill="#222" font-style="italic" font-family="Liberation Sans, sans-serif">z</text>
<text x="25.50" y="394.10" font-size="8.50" text-anchor="middle" fill="#222" font-style="italic" font-family="Liberation Sans, sans-serif">y</text>
<text x="66.10" y="398.90" font-size="8.50" text-anchor="middle" fill="#222" font-style="italic" font-family="Liberation Sans, sans-serif">x</text>
<rect x="266.10" y="255.80" width="12.10" height="134.10" fill="url(#jetv)"/>
<line x1="276.60" y1="268.90" x2="278.20" y2="268.90" stroke="#333" stroke-width="0.6"/>
<text x="281.50" y="271.75" font-size="8.00" text-anchor="start" fill="#222" font-weight="normal" font-family="Liberation Sans, sans-serif" >1.2</text>
<line x1="276.60" y1="288.70" x2="278.20" y2="288.70" stroke="#333" stroke-width="0.6"/>
<text x="281.50" y="291.55" font-size="8.00" text-anchor="start" fill="#222" font-weight="normal" font-family="Liberation Sans, sans-serif" >1.0</text>
<line x1="276.60" y1="308.80" x2="278.20" y2="308.80" stroke="#333" stroke-width="0.6"/>
<text x="281.50" y="311.65" font-size="8.00" text-anchor="start" fill="#222" font-weight="normal" font-family="Liberation Sans, sans-serif" >0.8</text>
<line x1="276.60" y1="329.10" x2="278.20" y2="329.10" stroke="#333" stroke-width="0.6"/>
<text x="281.50" y="331.95" font-size="8.00" text-anchor="start" fill="#222" font-weight="normal" font-family="Liberation Sans, sans-serif" >0.6</text>
<line x1="276.60" y1="349.20" x2="278.20" y2="349.20" stroke="#333" stroke-width="0.6"/>
<text x="281.50" y="352.05" font-size="8.00" text-anchor="start" fill="#222" font-weight="normal" font-family="Liberation Sans, sans-serif" >0.4</text>
<line x1="276.60" y1="369.30" x2="278.20" y2="369.30" stroke="#333" stroke-width="0.6"/>
<text x="281.50" y="372.15" font-size="8.00" text-anchor="start" fill="#222" font-weight="normal" font-family="Liberation Sans, sans-serif" >0.2</text>
<text transform="translate(298.90,323.00) rotate(90)" font-size="8.5" text-anchor="middle" fill="#222" font-family="Liberation Sans, sans-serif">(m<tspan font-size="6.0" dy="-2.8">−2</tspan><tspan dy="2.8"> s</tspan><tspan font-size="6.0" dy="-2.8">−1</tspan><tspan dy="2.8">) × 10</tspan><tspan font-size="6.0" dy="-2.8">25</tspan></text>
<defs>
<clipPath id="clipe"><path d="M445.80 279.60 C445.97 269.90 445.98 270.20 446.80 266.70 C447.62 263.20 448.83 260.88 450.70 258.60 C452.57 256.32 455.03 254.62 458.00 253.00 C460.97 251.38 461.37 251.47 468.50 248.90 C475.63 246.33 491.88 240.50 500.80 237.60 C509.72 234.70 517.15 232.72 522.00 231.50 C526.85 230.28 527.23 230.30 529.90 230.30 C532.57 230.30 534.78 230.55 538.00 231.50 C541.22 232.45 543.55 233.10 549.20 236.00 C554.85 238.90 564.90 244.32 571.90 248.90 C578.90 253.48 587.00 259.45 591.20 263.50 C595.40 267.55 595.87 267.82 597.10 273.20 C598.33 278.58 598.52 283.97 598.60 295.80 C598.68 307.63 598.28 334.52 597.60 344.20 C596.92 353.88 596.10 350.93 594.50 353.90 C592.90 356.87 592.85 358.77 588.00 362.00 C583.15 365.23 573.48 369.27 565.40 373.30 C557.32 377.33 547.03 382.43 539.50 386.20 C531.97 389.97 524.77 393.85 520.20 395.90 C515.63 397.95 515.07 398.50 512.10 398.50 C509.13 398.50 505.10 397.13 502.40 395.90 C499.70 394.67 499.93 394.87 495.90 391.10 C491.87 387.33 484.38 379.23 478.20 373.30 C472.02 367.37 463.38 359.80 458.80 355.50 C454.22 351.20 452.62 350.18 450.70 347.50 C448.78 344.82 448.12 343.17 447.30 339.40 C446.48 335.63 446.05 334.87 445.80 324.90 C445.55 314.93 445.63 289.30 445.80 279.60 Z"/></clipPath>
<linearGradient id="eright" x1="0" y1="0" x2="1" y2="0.15"><stop offset="0" stop-color="#dcdcdc"/><stop offset="0.25" stop-color="#c6c6c6"/><stop offset="0.7" stop-color="#a2a2a2"/><stop offset="1" stop-color="#858585"/></linearGradient>
<linearGradient id="eleft" x1="0" y1="0" x2="1" y2="0.3"><stop offset="0" stop-color="#8e8e8e"/><stop offset="0.5" stop-color="#a6a6a6"/><stop offset="1" stop-color="#c8c8c8"/></linearGradient>
<linearGradient id="etop" x1="0" y1="0" x2="0.5" y2="1"><stop offset="0" stop-color="#b4b4b4"/><stop offset="0.6" stop-color="#c4c4c4"/><stop offset="1" stop-color="#dedede"/></linearGradient>
<radialGradient id="sph_sh" cx="0.38" cy="0.34" r="0.75"><stop offset="0" stop-color="#fff" stop-opacity="0.45"/><stop offset="0.25" stop-color="#fff" stop-opacity="0.08"/><stop offset="0.65" stop-color="#000" stop-opacity="0.0"/><stop offset="1" stop-color="#000" stop-opacity="0.5"/></radialGradient>
</defs>
<defs>
<linearGradient id="lg25" x1="0.005" y1="0.570" x2="0.995" y2="0.430"><stop offset="0.00" stop-color="#7a0000"/><stop offset="0.30" stop-color="#c00808"/><stop offset="0.48" stop-color="#f02000"/><stop offset="0.56" stop-color="#ffd800"/><stop offset="0.63" stop-color="#70ffa0"/><stop offset="0.70" stop-color="#10c8ff"/><stop offset="0.80" stop-color="#0838e8"/><stop offset="1.00" stop-color="#0a0a98"/></linearGradient>
<linearGradient id="lg26" x1="0.024" y1="0.345" x2="0.976" y2="0.655"><stop offset="0.00" stop-color="#7a0000"/><stop offset="0.20" stop-color="#c00808"/><stop offset="0.36" stop-color="#f02000"/><stop offset="0.46" stop-color="#ffd800"/><stop offset="0.54" stop-color="#70ffa0"/><stop offset="0.62" stop-color="#10c8ff"/><stop offset="0.75" stop-color="#0838e8"/><stop offset="1.00" stop-color="#0a0a98"/></linearGradient>
<linearGradient id="lg27" x1="0.005" y1="0.570" x2="0.995" y2="0.430"><stop offset="0.00" stop-color="#6e0000"/><stop offset="0.55" stop-color="#b80808"/><stop offset="0.75" stop-color="#e82000"/><stop offset="0.84" stop-color="#ffd800"/><stop offset="0.90" stop-color="#60f0c0"/><stop offset="0.95" stop-color="#10a0ff"/><stop offset="1.00" stop-color="#0838e8"/></linearGradient>
<linearGradient id="lg28" x1="0.011" y1="0.604" x2="0.989" y2="0.396"><stop offset="0.00" stop-color="#c41000"/><stop offset="0.10" stop-color="#ff7000"/><stop offset="0.18" stop-color="#f0f020"/><stop offset="0.27" stop-color="#30e8e0"/><stop offset="0.38" stop-color="#0848ff"/><stop offset="0.60" stop-color="#0818c8"/><stop offset="1.00" stop-color="#060a80"/></linearGradient>
<linearGradient id="lg29" x1="0.030" y1="0.671" x2="0.970" y2="0.329"><stop offset="0.00" stop-color="#0818c0"/><stop offset="0.22" stop-color="#0860ff"/><stop offset="0.38" stop-color="#20d8f0"/><stop offset="0.52" stop-color="#b0f860"/><stop offset="0.66" stop-color="#ffc800"/><stop offset="0.80" stop-color="#f03000"/><stop offset="1.00" stop-color="#900000"/></linearGradient>
<linearGradient id="lg30" x1="0.008" y1="0.587" x2="0.992" y2="0.413"><stop offset="0.00" stop-color="#0828d0"/><stop offset="0.25" stop-color="#0890ff"/><stop offset="0.42" stop-color="#40e8d0"/><stop offset="0.58" stop-color="#e0f040"/><stop offset="0.75" stop-color="#ffb000"/><stop offset="0.90" stop-color="#f04000"/><stop offset="1.00" stop-color="#b00000"/></linearGradient>
<radialGradient id="rgT31" cx="0.56" cy="0.40" r="0.66"><stop offset="0" stop-color="#3a1a92"/><stop offset="0.55" stop-color="#2e1280"/><stop offset="0.68" stop-color="#2030c8"/><stop offset="0.76" stop-color="#20c8f8"/><stop offset="0.83" stop-color="#f8f020"/><stop offset="0.90" stop-color="#ff5000"/><stop offset="1" stop-color="#b00000"/></radialGradient>
<linearGradient id="lg32" x1="0.090" y1="0.213" x2="0.910" y2="0.787"><stop offset="0.00" stop-color="#980000"/><stop offset="0.22" stop-color="#f02000"/><stop offset="0.36" stop-color="#ffc800"/><stop offset="0.48" stop-color="#90ff70"/><stop offset="0.60" stop-color="#10c8ff"/><stop offset="0.78" stop-color="#0830e0"/><stop offset="1.00" stop-color="#0a0a90"/></linearGradient>
<linearGradient id="lg33" x1="0.413" y1="0.008" x2="0.587" y2="0.992"><stop offset="0.00" stop-color="#ffd000"/><stop offset="0.18" stop-color="#d0f840"/><stop offset="0.36" stop-color="#40e8d0"/><stop offset="0.52" stop-color="#0890ff"/><stop offset="0.75" stop-color="#0828d0"/><stop offset="0.90" stop-color="#0a1090"/><stop offset="0.95" stop-color="#c02000"/><stop offset="1.00" stop-color="#c00000"/></linearGradient>
<linearGradient id="lg34" x1="0.250" y1="0.067" x2="0.750" y2="0.933"><stop offset="0.00" stop-color="#c00000"/><stop offset="0.18" stop-color="#ff5000"/><stop offset="0.30" stop-color="#ffe000"/><stop offset="0.42" stop-color="#50f0b0"/><stop offset="0.56" stop-color="#0898ff"/><stop offset="0.80" stop-color="#0828d0"/><stop offset="1.00" stop-color="#0a1090"/></linearGradient>
<linearGradient id="lg35" x1="0.933" y1="0.250" x2="0.067" y2="0.750"><stop offset="0.00" stop-color="#b00000"/><stop offset="0.25" stop-color="#ff4000"/><stop offset="0.40" stop-color="#ffd800"/><stop offset="0.52" stop-color="#70f8a0"/><stop offset="0.66" stop-color="#10b0ff"/><stop offset="0.85" stop-color="#0830e0"/><stop offset="1.00" stop-color="#0a1090"/></linearGradient>
<linearGradient id="lg36" x1="0.500" y1="0.000" x2="0.500" y2="1.000"><stop offset="0.00" stop-color="#0828d0"/><stop offset="0.30" stop-color="#08a0ff"/><stop offset="0.50" stop-color="#60f0a0"/><stop offset="0.68" stop-color="#ffd000"/><stop offset="0.85" stop-color="#f03000"/><stop offset="1.00" stop-color="#a00000"/></linearGradient>
<linearGradient id="lg37" x1="0.017" y1="0.629" x2="0.983" y2="0.371"><stop offset="0.00" stop-color="#20c8f0"/><stop offset="0.12" stop-color="#d0f040"/><stop offset="0.25" stop-color="#ffa000"/><stop offset="0.42" stop-color="#e82000"/><stop offset="0.70" stop-color="#b00808"/><stop offset="1.00" stop-color="#800000"/></linearGradient>
<linearGradient id="lg38" x1="0.008" y1="0.587" x2="0.992" y2="0.413"><stop offset="0.00" stop-color="#0838e0"/><stop offset="0.18" stop-color="#10a8ff"/><stop offset="0.36" stop-color="#70f0b0"/><stop offset="0.55" stop-color="#f0f040"/><stop offset="0.75" stop-color="#ffc000"/><stop offset="0.92" stop-color="#ff7000"/><stop offset="1.00" stop-color="#e03000"/></linearGradient>
<linearGradient id="lg39" x1="0.047" y1="0.289" x2="0.953" y2="0.711"><stop offset="0.00" stop-color="#0860ff"/><stop offset="0.20" stop-color="#20d0f0"/><stop offset="0.40" stop-color="#c0f850"/><stop offset="0.58" stop-color="#ffc000"/><stop offset="0.78" stop-color="#f03000"/><stop offset="1.00" stop-color="#a00000"/></linearGradient>
<linearGradient id="lg40" x1="0.000" y1="0.500" x2="1.000" y2="0.500"><stop offset="0.00" stop-color="#0828d0"/><stop offset="0.30" stop-color="#10b8ff"/><stop offset="0.50" stop-color="#c0f850"/><stop offset="0.70" stop-color="#ffb000"/><stop offset="0.88" stop-color="#e02000"/><stop offset="1.00" stop-color="#900000"/></linearGradient>
<radialGradient id="rg41" cx="0.30" cy="0.50" r="0.78"><stop offset="0.00" stop-color="#a00404"/><stop offset="0.36" stop-color="#c80808"/><stop offset="0.46" stop-color="#f03000"/><stop offset="0.54" stop-color="#ffd800"/><stop offset="0.61" stop-color="#70ffa0"/><stop offset="0.68" stop-color="#10c8ff"/><stop offset="0.78" stop-color="#0838e8"/><stop offset="1.00" stop-color="#0a0a90"/></radialGradient>
<radialGradient id="rg42" cx="0.26" cy="0.50" r="0.80"><stop offset="0.00" stop-color="#a00404"/><stop offset="0.30" stop-color="#c80808"/><stop offset="0.40" stop-color="#f03000"/><stop offset="0.48" stop-color="#ffd800"/><stop offset="0.55" stop-color="#70ffa0"/><stop offset="0.63" stop-color="#10c8ff"/><stop offset="0.75" stop-color="#0838e8"/><stop offset="1.00" stop-color="#0a0a90"/></radialGradient>
<radialGradient id="rg43" cx="0.18" cy="0.56" r="0.86"><stop offset="0.00" stop-color="#c00808"/><stop offset="0.22" stop-color="#e82000"/><stop offset="0.34" stop-color="#ffd000"/><stop offset="0.42" stop-color="#80ff90"/><stop offset="0.50" stop-color="#10c8ff"/><stop offset="0.64" stop-color="#0838e8"/><stop offset="1.00" stop-color="#0a0a90"/></radialGradient>
<radialGradient id="rg44" cx="0.42" cy="0.50" r="0.66"><stop offset="0.00" stop-color="#a80606"/><stop offset="0.62" stop-color="#c00808"/><stop offset="0.74" stop-color="#f03000"/><stop offset="0.82" stop-color="#ffd800"/><stop offset="0.88" stop-color="#60f0c0"/><stop offset="0.94" stop-color="#10a0ff"/><stop offset="1.00" stop-color="#0838e8"/></radialGradient>
<radialGradient id="rg45" cx="0.50" cy="0.28" r="0.78"><stop offset="0.00" stop-color="#f8e020"/><stop offset="0.20" stop-color="#d0f840"/><stop offset="0.38" stop-color="#50f0c0"/><stop offset="0.52" stop-color="#10a8ff"/><stop offset="0.70" stop-color="#0838e0"/><stop offset="0.86" stop-color="#0a1498"/><stop offset="0.93" stop-color="#c02000"/><stop offset="1.00" stop-color="#b00000"/></radialGradient>
<radialGradient id="rg46" cx="0.66" cy="0.30" r="0.85"><stop offset="0.00" stop-color="#c80808"/><stop offset="0.22" stop-color="#f03000"/><stop offset="0.36" stop-color="#ffd000"/><stop offset="0.48" stop-color="#70f8a0"/><stop offset="0.60" stop-color="#10b0ff"/><stop offset="0.80" stop-color="#0830e0"/><stop offset="1.00" stop-color="#0a1090"/></radialGradient>
<radialGradient id="rg47" cx="0.35" cy="0.28" r="0.85"><stop offset="0.00" stop-color="#c80808"/><stop offset="0.20" stop-color="#f03000"/><stop offset="0.34" stop-color="#ffd000"/><stop offset="0.46" stop-color="#70f8a0"/><stop offset="0.58" stop-color="#10b0ff"/><stop offset="0.80" stop-color="#0830e0"/><stop offset="1.00" stop-color="#0a1090"/></radialGradient>
<radialGradient id="rg48" cx="0.74" cy="0.42" r="0.86"><stop offset="0.00" stop-color="#1020d8"/><stop offset="0.35" stop-color="#0818c0"/><stop offset="0.56" stop-color="#0830e8"/><stop offset="0.68" stop-color="#10a0ff"/><stop offset="0.76" stop-color="#60f0c0"/><stop offset="0.83" stop-color="#f8e020"/><stop offset="0.90" stop-color="#f03000"/><stop offset="1.00" stop-color="#900000"/></radialGradient>
<radialGradient id="rg49" cx="0.78" cy="0.42" r="0.90"><stop offset="0.00" stop-color="#1020d8"/><stop offset="0.30" stop-color="#0818c0"/><stop offset="0.48" stop-color="#0830e8"/><stop offset="0.58" stop-color="#10a0ff"/><stop offset="0.66" stop-color="#60f0c0"/><stop offset="0.75" stop-color="#f8e020"/><stop offset="0.85" stop-color="#f03000"/><stop offset="1.00" stop-color="#900000"/></radialGradient>
<radialGradient id="rg50" cx="0.70" cy="0.48" r="0.74"><stop offset="0.00" stop-color="#8c0000"/><stop offset="0.14" stop-color="#c00808"/><stop offset="0.32" stop-color="#f03000"/><stop offset="0.48" stop-color="#ffd000"/><stop offset="0.60" stop-color="#70f8a0"/><stop offset="0.72" stop-color="#10b0ff"/><stop offset="0.88" stop-color="#0830e0"/><stop offset="1.00" stop-color="#0a1090"/></radialGradient>
<radialGradient id="rg51" cx="0.58" cy="0.62" r="0.74"><stop offset="0.00" stop-color="#ffc800"/><stop offset="0.18" stop-color="#e8f030"/><stop offset="0.36" stop-color="#70f8a0"/><stop offset="0.52" stop-color="#10c0ff"/><stop offset="0.75" stop-color="#0838e8"/><stop offset="1.00" stop-color="#0a1090"/></radialGradient>
<radialGradient id="rg52" cx="0.40" cy="0.50" r="0.68"><stop offset="0.00" stop-color="#a80606"/><stop offset="0.52" stop-color="#c00808"/><stop offset="0.66" stop-color="#f03000"/><stop offset="0.76" stop-color="#ffd800"/><stop offset="0.84" stop-color="#60f0c0"/><stop offset="0.92" stop-color="#10a0ff"/><stop offset="1.00" stop-color="#0838e8"/></radialGradient>
</defs>
<ellipse cx="513.2" cy="397.2" rx="7.22" ry="5.92" transform="rotate(-8 513.2 397.2)" fill="url(#lg36)"/>
<ellipse cx="513.2" cy="397.2" rx="7.22" ry="5.92" transform="rotate(-8 513.2 397.2)" fill="url(#sph_sh)"/>
<ellipse cx="539.0" cy="389.2" rx="7.22" ry="5.92" transform="rotate(-8 539.0 389.2)" fill="url(#lg36)"/>
<ellipse cx="539.0" cy="389.2" rx="7.22" ry="5.92" transform="rotate(-8 539.0 389.2)" fill="url(#sph_sh)"/>
<ellipse cx="561.0" cy="381.0" rx="7.22" ry="5.92" transform="rotate(-8 561.0 381.0)" fill="url(#lg36)"/>
<ellipse cx="561.0" cy="381.0" rx="7.22" ry="5.92" transform="rotate(-8 561.0 381.0)" fill="url(#sph_sh)"/>
<ellipse cx="581.0" cy="371.5" rx="7.22" ry="5.92" transform="rotate(-8 581.0 371.5)" fill="url(#lg36)"/>
<ellipse cx="581.0" cy="371.5" rx="7.22" ry="5.92" transform="rotate(-8 581.0 371.5)" fill="url(#sph_sh)"/>
<ellipse cx="596.5" cy="297.2" rx="5.78" ry="6.44" transform="rotate(0 596.5 297.2)" fill="url(#lg40)"/>
<ellipse cx="596.5" cy="297.2" rx="5.78" ry="6.44" transform="rotate(0 596.5 297.2)" fill="url(#sph_sh)"/>
<ellipse cx="596.0" cy="322.0" rx="5.78" ry="6.44" transform="rotate(0 596.0 322.0)" fill="url(#lg40)"/>
<ellipse cx="596.0" cy="322.0" rx="5.78" ry="6.44" transform="rotate(0 596.0 322.0)" fill="url(#sph_sh)"/>
<ellipse cx="595.2" cy="344.4" rx="5.78" ry="6.44" transform="rotate(0 595.2 344.4)" fill="url(#lg40)"/>
<ellipse cx="595.2" cy="344.4" rx="5.78" ry="6.44" transform="rotate(0 595.2 344.4)" fill="url(#sph_sh)"/>
<ellipse cx="598.2" cy="272.2" rx="6.64" ry="7.41" transform="rotate(0 598.2 272.2)" fill="url(#lg40)"/>
<ellipse cx="598.2" cy="272.2" rx="6.64" ry="7.41" transform="rotate(0 598.2 272.2)" fill="url(#sph_sh)"/>
<ellipse cx="449.5" cy="262.5" rx="5.88" ry="7.11" transform="rotate(0 449.5 262.5)" fill="url(#rg47)"/>
<ellipse cx="449.5" cy="262.5" rx="5.88" ry="7.11" transform="rotate(0 449.5 262.5)" fill="url(#sph_sh)"/>
<g clip-path="url(#clipe)">
<path d="M445.80 279.60 C445.97 269.90 445.98 270.20 446.80 266.70 C447.62 263.20 448.83 260.88 450.70 258.60 C452.57 256.32 455.03 254.62 458.00 253.00 C460.97 251.38 461.37 251.47 468.50 248.90 C475.63 246.33 491.88 240.50 500.80 237.60 C509.72 234.70 517.15 232.72 522.00 231.50 C526.85 230.28 527.23 230.30 529.90 230.30 C532.57 230.30 534.78 230.55 538.00 231.50 C541.22 232.45 543.55 233.10 549.20 236.00 C554.85 238.90 564.90 244.32 571.90 248.90 C578.90 253.48 587.00 259.45 591.20 263.50 C595.40 267.55 595.87 267.82 597.10 273.20 C598.33 278.58 598.52 283.97 598.60 295.80 C598.68 307.63 598.28 334.52 597.60 344.20 C596.92 353.88 596.10 350.93 594.50 353.90 C592.90 356.87 592.85 358.77 588.00 362.00 C583.15 365.23 573.48 369.27 565.40 373.30 C557.32 377.33 547.03 382.43 539.50 386.20 C531.97 389.97 524.77 393.85 520.20 395.90 C515.63 397.95 515.07 398.50 512.10 398.50 C509.13 398.50 505.10 397.13 502.40 395.90 C499.70 394.67 499.93 394.87 495.90 391.10 C491.87 387.33 484.38 379.23 478.20 373.30 C472.02 367.37 463.38 359.80 458.80 355.50 C454.22 351.20 452.62 350.18 450.70 347.50 C448.78 344.82 448.12 343.17 447.30 339.40 C446.48 335.63 446.05 334.87 445.80 324.90 C445.55 314.93 445.63 289.30 445.80 279.60 Z" fill="#b8b8b8"/>
<path d="M515 290 L600 266 L600 365 L512 400 Z" fill="url(#eright)"/>
<path d="M444 258 L515 291 L512 400 L444 345 Z" fill="url(#eleft)"/>
<path d="M444 260 L530 226 L600 268 L515 292 Z" fill="url(#etop)"/>
<g filter="url(#blur2)">
<path d="M512 292 L519 292 L516 398 L509 398 Z" fill="#f4f4f4" opacity="0.9"/>
<path d="M452 259 L515 288 L596 266 L598 274 L515 297 L450 266 Z" fill="#e6e6e6" opacity="0.8"/>
<path d="M444 300 L470 330 L490 385 L444 350 Z" fill="#8c8c8c" opacity="0.6"/>
<path d="M585 270 L600 270 L600 365 L570 372 Z" fill="#7a7a7a" opacity="0.6"/>
</g>
</g>
<path d="M469.5 241.5 L513 229.8 Q516 229 519 230.5 L574 266 Q576.5 268 573 269.5 L536.5 288.5 Q533 290 530 288 L469.5 245 Q466 242.6 469.5 241.5 Z" fill="#f07474" opacity="0.48"/>
<path d="M455 301 Q455 298 457.5 299.8 L483.5 316.5 Q485.5 318 485.5 321 L485.5 361 Q485.5 364.5 483 362.5 L457 341 Q455 339.5 455 336.5 Z" fill="#5a5ae0" opacity="0.42"/>
<circle cx="446.0" cy="275.0" r="11.2" fill="#f07080" opacity="0.38"/>
<circle cx="496.0" cy="311.0" r="11.2" fill="#f07080" opacity="0.38"/>
<circle cx="447.0" cy="348.0" r="11.2" fill="#f07080" opacity="0.38"/>
<circle cx="496.0" cy="385.0" r="11.2" fill="#f07080" opacity="0.38"/>
<ellipse cx="530.0" cy="229.0" rx="7.60" ry="6.23" transform="rotate(-8 530.0 229.0)" fill="url(#lg32)"/>
<ellipse cx="530.0" cy="229.0" rx="7.60" ry="6.23" transform="rotate(-8 530.0 229.0)" fill="url(#sph_sh)"/>
<ellipse cx="507.3" cy="236.7" rx="7.60" ry="6.23" transform="rotate(-8 507.3 236.7)" fill="url(#rgT31)"/>
<ellipse cx="507.3" cy="236.7" rx="7.60" ry="6.23" transform="rotate(-8 507.3 236.7)" fill="url(#sph_sh)"/>
<ellipse cx="547.0" cy="239.4" rx="7.60" ry="6.23" transform="rotate(-8 547.0 239.4)" fill="url(#lg32)"/>
<ellipse cx="547.0" cy="239.4" rx="7.60" ry="6.23" transform="rotate(-8 547.0 239.4)" fill="url(#sph_sh)"/>
<ellipse cx="484.7" cy="244.3" rx="7.60" ry="6.23" transform="rotate(-8 484.7 244.3)" fill="url(#rgT31)"/>
<ellipse cx="484.7" cy="244.3" rx="7.60" ry="6.23" transform="rotate(-8 484.7 244.3)" fill="url(#sph_sh)"/>
<ellipse cx="524.3" cy="247.5" rx="7.60" ry="6.23" transform="rotate(-8 524.3 247.5)" fill="url(#rgT31)"/>
<ellipse cx="524.3" cy="247.5" rx="7.60" ry="6.23" transform="rotate(-8 524.3 247.5)" fill="url(#sph_sh)"/>
<ellipse cx="564.0" cy="249.9" rx="7.60" ry="6.23" transform="rotate(-8 564.0 249.9)" fill="url(#lg32)"/>
<ellipse cx="564.0" cy="249.9" rx="7.60" ry="6.23" transform="rotate(-8 564.0 249.9)" fill="url(#sph_sh)"/>
<ellipse cx="462.0" cy="252.0" rx="7.60" ry="6.23" transform="rotate(-8 462.0 252.0)" fill="url(#rg47)"/>
<ellipse cx="462.0" cy="252.0" rx="7.60" ry="6.23" transform="rotate(-8 462.0 252.0)" fill="url(#sph_sh)"/>
<ellipse cx="501.7" cy="255.6" rx="7.60" ry="6.23" transform="rotate(-8 501.7 255.6)" fill="url(#rgT31)"/>
<ellipse cx="501.7" cy="255.6" rx="7.60" ry="6.23" transform="rotate(-8 501.7 255.6)" fill="url(#sph_sh)"/>
<ellipse cx="541.3" cy="258.4" rx="7.60" ry="6.23" transform="rotate(-8 541.3 258.4)" fill="url(#rgT31)"/>
<ellipse cx="541.3" cy="258.4" rx="7.60" ry="6.23" transform="rotate(-8 541.3 258.4)" fill="url(#sph_sh)"/>
<ellipse cx="581.0" cy="260.3" rx="7.60" ry="6.23" transform="rotate(-8 581.0 260.3)" fill="url(#lg32)"/>
<ellipse cx="581.0" cy="260.3" rx="7.60" ry="6.23" transform="rotate(-8 581.0 260.3)" fill="url(#sph_sh)"/>
<ellipse cx="479.0" cy="263.7" rx="7.60" ry="6.23" transform="rotate(-8 479.0 263.7)" fill="url(#rg45)"/>
<ellipse cx="479.0" cy="263.7" rx="7.60" ry="6.23" transform="rotate(-8 479.0 263.7)" fill="url(#sph_sh)"/>
<ellipse cx="518.7" cy="266.8" rx="7.60" ry="6.23" transform="rotate(-8 518.7 266.8)" fill="url(#rgT31)"/>
<ellipse cx="518.7" cy="266.8" rx="7.60" ry="6.23" transform="rotate(-8 518.7 266.8)" fill="url(#sph_sh)"/>
<ellipse cx="558.3" cy="269.2" rx="7.60" ry="6.23" transform="rotate(-8 558.3 269.2)" fill="url(#rgT31)"/>
<ellipse cx="558.3" cy="269.2" rx="7.60" ry="6.23" transform="rotate(-8 558.3 269.2)" fill="url(#sph_sh)"/>
<ellipse cx="496.0" cy="275.3" rx="7.60" ry="6.23" transform="rotate(-8 496.0 275.3)" fill="url(#rg45)"/>
<ellipse cx="496.0" cy="275.3" rx="7.60" ry="6.23" transform="rotate(-8 496.0 275.3)" fill="url(#sph_sh)"/>
<ellipse cx="446.0" cy="275.6" rx="6.54" ry="7.90" transform="rotate(0 446.0 275.6)" fill="url(#rg42)"/>
<ellipse cx="446.0" cy="275.6" rx="6.54" ry="7.90" transform="rotate(0 446.0 275.6)" fill="url(#sph_sh)"/>
<ellipse cx="535.7" cy="278.1" rx="7.60" ry="6.23" transform="rotate(-8 535.7 278.1)" fill="url(#rgT31)"/>
<ellipse cx="535.7" cy="278.1" rx="7.60" ry="6.23" transform="rotate(-8 535.7 278.1)" fill="url(#sph_sh)"/>
<ellipse cx="513.0" cy="287.0" rx="7.60" ry="6.23" transform="rotate(-8 513.0 287.0)" fill="url(#rg46)"/>
<ellipse cx="513.0" cy="287.0" rx="7.60" ry="6.23" transform="rotate(-8 513.0 287.0)" fill="url(#sph_sh)"/>
<ellipse cx="594.0" cy="287.2" rx="7.22" ry="8.06" transform="rotate(0 594.0 287.2)" fill="url(#lg37)"/>
<ellipse cx="594.0" cy="287.2" rx="7.22" ry="8.06" transform="rotate(0 594.0 287.2)" fill="url(#sph_sh)"/>
<ellipse cx="462.7" cy="287.6" rx="6.54" ry="7.90" transform="rotate(0 462.7 287.6)" fill="url(#rg41)"/>
<ellipse cx="462.7" cy="287.6" rx="6.54" ry="7.90" transform="rotate(0 462.7 287.6)" fill="url(#sph_sh)"/>
<ellipse cx="571.0" cy="295.8" rx="7.22" ry="8.06" transform="rotate(0 571.0 295.8)" fill="url(#rg49)"/>
<ellipse cx="571.0" cy="295.8" rx="7.22" ry="8.06" transform="rotate(0 571.0 295.8)" fill="url(#sph_sh)"/>
<ellipse cx="479.4" cy="299.6" rx="6.54" ry="7.90" transform="rotate(0 479.4 299.6)" fill="url(#rg41)"/>
<ellipse cx="479.4" cy="299.6" rx="6.54" ry="7.90" transform="rotate(0 479.4 299.6)" fill="url(#sph_sh)"/>
<ellipse cx="446.3" cy="299.9" rx="6.54" ry="7.90" transform="rotate(0 446.3 299.9)" fill="url(#rg42)"/>
<ellipse cx="446.3" cy="299.9" rx="6.54" ry="7.90" transform="rotate(0 446.3 299.9)" fill="url(#sph_sh)"/>
<ellipse cx="548.0" cy="304.4" rx="7.22" ry="8.06" transform="rotate(0 548.0 304.4)" fill="url(#rg48)"/>
<ellipse cx="548.0" cy="304.4" rx="7.22" ry="8.06" transform="rotate(0 548.0 304.4)" fill="url(#sph_sh)"/>
<ellipse cx="496.1" cy="311.6" rx="6.54" ry="7.90" transform="rotate(0 496.1 311.6)" fill="url(#rg52)"/>
<ellipse cx="496.1" cy="311.6" rx="6.54" ry="7.90" transform="rotate(0 496.1 311.6)" fill="url(#sph_sh)"/>
<ellipse cx="594.0" cy="311.8" rx="7.22" ry="8.06" transform="rotate(0 594.0 311.8)" fill="url(#lg38)"/>
<ellipse cx="594.0" cy="311.8" rx="7.22" ry="8.06" transform="rotate(0 594.0 311.8)" fill="url(#sph_sh)"/>
<ellipse cx="463.0" cy="311.9" rx="6.54" ry="7.90" transform="rotate(0 463.0 311.9)" fill="url(#rg43)"/>
<ellipse cx="463.0" cy="311.9" rx="6.54" ry="7.90" transform="rotate(0 463.0 311.9)" fill="url(#sph_sh)"/>
<ellipse cx="525.0" cy="313.0" rx="7.22" ry="8.06" transform="rotate(0 525.0 313.0)" fill="url(#rg50)"/>
<ellipse cx="525.0" cy="313.0" rx="7.22" ry="8.06" transform="rotate(0 525.0 313.0)" fill="url(#sph_sh)"/>
<ellipse cx="571.0" cy="320.4" rx="7.22" ry="8.06" transform="rotate(0 571.0 320.4)" fill="url(#rg48)"/>
<ellipse cx="571.0" cy="320.4" rx="7.22" ry="8.06" transform="rotate(0 571.0 320.4)" fill="url(#sph_sh)"/>
<ellipse cx="479.7" cy="323.9" rx="6.54" ry="7.90" transform="rotate(0 479.7 323.9)" fill="url(#rg43)"/>
<ellipse cx="479.7" cy="323.9" rx="6.54" ry="7.90" transform="rotate(0 479.7 323.9)" fill="url(#sph_sh)"/>
<ellipse cx="446.6" cy="324.2" rx="6.54" ry="7.90" transform="rotate(0 446.6 324.2)" fill="url(#rg42)"/>
<ellipse cx="446.6" cy="324.2" rx="6.54" ry="7.90" transform="rotate(0 446.6 324.2)" fill="url(#sph_sh)"/>
<ellipse cx="548.0" cy="329.0" rx="7.22" ry="8.06" transform="rotate(0 548.0 329.0)" fill="url(#rg48)"/>
<ellipse cx="548.0" cy="329.0" rx="7.22" ry="8.06" transform="rotate(0 548.0 329.0)" fill="url(#sph_sh)"/>
<ellipse cx="496.4" cy="335.9" rx="6.54" ry="7.90" transform="rotate(0 496.4 335.9)" fill="url(#rg52)"/>
<ellipse cx="496.4" cy="335.9" rx="6.54" ry="7.90" transform="rotate(0 496.4 335.9)" fill="url(#sph_sh)"/>
<ellipse cx="463.3" cy="336.2" rx="6.54" ry="7.90" transform="rotate(0 463.3 336.2)" fill="url(#rg43)"/>
<ellipse cx="463.3" cy="336.2" rx="6.54" ry="7.90" transform="rotate(0 463.3 336.2)" fill="url(#sph_sh)"/>
<ellipse cx="594.0" cy="336.4" rx="7.22" ry="8.06" transform="rotate(0 594.0 336.4)" fill="url(#lg38)"/>
<ellipse cx="594.0" cy="336.4" rx="7.22" ry="8.06" transform="rotate(0 594.0 336.4)" fill="url(#sph_sh)"/>
<ellipse cx="525.0" cy="337.6" rx="7.22" ry="8.06" transform="rotate(0 525.0 337.6)" fill="url(#rg51)"/>
<ellipse cx="525.0" cy="337.6" rx="7.22" ry="8.06" transform="rotate(0 525.0 337.6)" fill="url(#sph_sh)"/>
<ellipse cx="571.0" cy="345.0" rx="7.22" ry="8.06" transform="rotate(0 571.0 345.0)" fill="url(#rg48)"/>
<ellipse cx="571.0" cy="345.0" rx="7.22" ry="8.06" transform="rotate(0 571.0 345.0)" fill="url(#sph_sh)"/>
<ellipse cx="480.0" cy="348.2" rx="6.54" ry="7.90" transform="rotate(0 480.0 348.2)" fill="url(#rg43)"/>
<ellipse cx="480.0" cy="348.2" rx="6.54" ry="7.90" transform="rotate(0 480.0 348.2)" fill="url(#sph_sh)"/>
<ellipse cx="446.9" cy="348.5" rx="6.54" ry="7.90" transform="rotate(0 446.9 348.5)" fill="url(#rg42)"/>
<ellipse cx="446.9" cy="348.5" rx="6.54" ry="7.90" transform="rotate(0 446.9 348.5)" fill="url(#sph_sh)"/>
<ellipse cx="548.0" cy="353.6" rx="7.22" ry="8.06" transform="rotate(0 548.0 353.6)" fill="url(#rg48)"/>
<ellipse cx="548.0" cy="353.6" rx="7.22" ry="8.06" transform="rotate(0 548.0 353.6)" fill="url(#sph_sh)"/>
<ellipse cx="496.7" cy="360.2" rx="6.54" ry="7.90" transform="rotate(0 496.7 360.2)" fill="url(#rg52)"/>
<ellipse cx="496.7" cy="360.2" rx="6.54" ry="7.90" transform="rotate(0 496.7 360.2)" fill="url(#sph_sh)"/>
<ellipse cx="463.6" cy="360.5" rx="6.54" ry="7.90" transform="rotate(0 463.6 360.5)" fill="url(#rg41)"/>
<ellipse cx="463.6" cy="360.5" rx="6.54" ry="7.90" transform="rotate(0 463.6 360.5)" fill="url(#sph_sh)"/>
<ellipse cx="594.0" cy="361.0" rx="7.22" ry="8.06" transform="rotate(0 594.0 361.0)" fill="url(#lg39)"/>
<ellipse cx="594.0" cy="361.0" rx="7.22" ry="8.06" transform="rotate(0 594.0 361.0)" fill="url(#sph_sh)"/>
<ellipse cx="525.0" cy="362.2" rx="7.22" ry="8.06" transform="rotate(0 525.0 362.2)" fill="url(#rg51)"/>
<ellipse cx="525.0" cy="362.2" rx="7.22" ry="8.06" transform="rotate(0 525.0 362.2)" fill="url(#sph_sh)"/>
<ellipse cx="571.0" cy="369.6" rx="7.22" ry="8.06" transform="rotate(0 571.0 369.6)" fill="url(#rg48)"/>
<ellipse cx="571.0" cy="369.6" rx="7.22" ry="8.06" transform="rotate(0 571.0 369.6)" fill="url(#sph_sh)"/>
<ellipse cx="480.3" cy="372.5" rx="6.54" ry="7.90" transform="rotate(0 480.3 372.5)" fill="url(#rg41)"/>
<ellipse cx="480.3" cy="372.5" rx="6.54" ry="7.90" transform="rotate(0 480.3 372.5)" fill="url(#sph_sh)"/>
<ellipse cx="548.0" cy="378.2" rx="7.22" ry="8.06" transform="rotate(0 548.0 378.2)" fill="url(#rg48)"/>
<ellipse cx="548.0" cy="378.2" rx="7.22" ry="8.06" transform="rotate(0 548.0 378.2)" fill="url(#sph_sh)"/>
<ellipse cx="497.0" cy="384.5" rx="6.54" ry="7.90" transform="rotate(0 497.0 384.5)" fill="url(#rg52)"/>
<ellipse cx="497.0" cy="384.5" rx="6.54" ry="7.90" transform="rotate(0 497.0 384.5)" fill="url(#sph_sh)"/>
<ellipse cx="525.0" cy="386.8" rx="7.22" ry="8.06" transform="rotate(0 525.0 386.8)" fill="url(#rg51)"/>
<ellipse cx="525.0" cy="386.8" rx="7.22" ry="8.06" transform="rotate(0 525.0 386.8)" fill="url(#sph_sh)"/>
<text x="366.80" y="207.80" font-size="12.50" text-anchor="start" fill="#000" font-weight="bold" font-family="Liberation Sans, sans-serif"  stroke="#000" stroke-width="0.35">e</text>
<text x="426.90" y="229.90" font-size="8.30" text-anchor="start" fill="#222" font-weight="normal" font-family="Liberation Sans, sans-serif" >Facet 1</text>
<line x1="458.30" y1="226.50" x2="470.48" y2="234.54" stroke="#111" stroke-width="1.30" stroke-linecap="round"/>
<path d="M473.90 236.80 L468.85 236.10 L471.27 232.43 Z" fill="#111"/>
<text x="372.40" y="321.50" font-size="8.30" text-anchor="start" fill="#222" font-weight="normal" font-family="Liberation Sans, sans-serif" >Facet 2</text>
<line x1="405.50" y1="318.50" x2="426.60" y2="318.50" stroke="#111" stroke-width="1.30" stroke-linecap="round"/>
<path d="M430.70 318.50 L426.10 320.70 L426.10 316.30 Z" fill="#111"/>
<text x="433.00" y="271.50" font-size="7.30" text-anchor="middle" fill="#222" font-weight="normal" font-family="Liberation Sans, sans-serif" >1</text>
<text x="484.00" y="237.30" font-size="7.30" text-anchor="middle" fill="#222" font-weight="normal" font-family="Liberation Sans, sans-serif" >2</text>
<text x="508.00" y="230.30" font-size="7.30" text-anchor="middle" fill="#222" font-weight="normal" font-family="Liberation Sans, sans-serif" >3</text>
<text x="510.60" y="252.50" font-size="7.30" text-anchor="middle" fill="#222" font-weight="normal" font-family="Liberation Sans, sans-serif" >6</text>
<text x="533.00" y="244.50" font-size="7.30" text-anchor="middle" fill="#222" font-weight="normal" font-family="Liberation Sans, sans-serif" >7</text>
<text x="464.60" y="306.40" font-size="7.30" text-anchor="middle" fill="#222" font-weight="normal" font-family="Liberation Sans, sans-serif" >6</text>
<text x="461.40" y="328.60" font-size="7.30" text-anchor="middle" fill="#222" font-weight="normal" font-family="Liberation Sans, sans-serif" >10</text>
<text x="431.00" y="359.60" font-size="7.30" text-anchor="middle" fill="#222" font-weight="normal" font-family="Liberation Sans, sans-serif" >13</text>
<line x1="386.80" y1="404.60" x2="375.93" y2="396.53" stroke="#3fae49" stroke-width="1.15" stroke-linecap="round"/>
<path d="M372.80 394.20 L377.47 395.30 L375.20 398.35 Z" fill="#3fae49"/>
<line x1="386.80" y1="404.60" x2="403.15" y2="398.47" stroke="#e8175d" stroke-width="1.15" stroke-linecap="round"/>
<path d="M406.80 397.10 L403.35 400.42 L402.01 396.87 Z" fill="#e8175d"/>
<line x1="386.80" y1="404.60" x2="386.80" y2="388.40" stroke="#4a86c8" stroke-width="1.15" stroke-linecap="round"/>
<path d="M386.80 384.50 L388.70 388.90 L384.90 388.90 Z" fill="#4a86c8"/>
<text x="386.40" y="382.00" font-size="8.50" text-anchor="middle" fill="#222" font-style="italic" font-family="Liberation Sans, sans-serif">z</text>
<text x="369.50" y="393.80" font-size="8.50" text-anchor="middle" fill="#222" font-style="italic" font-family="Liberation Sans, sans-serif">y</text>
<text x="410.10" y="398.60" font-size="8.50" text-anchor="middle" fill="#222" font-style="italic" font-family="Liberation Sans, sans-serif">x</text>
<rect x="628.60" y="249.00" width="12.10" height="135.00" fill="url(#jetv)"/>
<line x1="639.10" y1="264.10" x2="640.70" y2="264.10" stroke="#333" stroke-width="0.6"/>
<text x="645.50" y="266.95" font-size="8.00" text-anchor="start" fill="#222" font-weight="normal" font-family="Liberation Sans, sans-serif" >4.0</text>
<line x1="639.10" y1="279.20" x2="640.70" y2="279.20" stroke="#333" stroke-width="0.6"/>
<text x="645.50" y="282.05" font-size="8.00" text-anchor="start" fill="#222" font-weight="normal" font-family="Liberation Sans, sans-serif" >3.5</text>
<line x1="639.10" y1="294.30" x2="640.70" y2="294.30" stroke="#333" stroke-width="0.6"/>
<text x="645.50" y="297.15" font-size="8.00" text-anchor="start" fill="#222" font-weight="normal" font-family="Liberation Sans, sans-serif" >3.0</text>
<line x1="639.10" y1="309.00" x2="640.70" y2="309.00" stroke="#333" stroke-width="0.6"/>
<text x="645.50" y="311.85" font-size="8.00" text-anchor="start" fill="#222" font-weight="normal" font-family="Liberation Sans, sans-serif" >2.5</text>
<line x1="639.10" y1="324.00" x2="640.70" y2="324.00" stroke="#333" stroke-width="0.6"/>
<text x="645.50" y="326.85" font-size="8.00" text-anchor="start" fill="#222" font-weight="normal" font-family="Liberation Sans, sans-serif" >2.0</text>
<line x1="639.10" y1="338.60" x2="640.70" y2="338.60" stroke="#333" stroke-width="0.6"/>
<text x="645.50" y="341.45" font-size="8.00" text-anchor="start" fill="#222" font-weight="normal" font-family="Liberation Sans, sans-serif" >1.5</text>
<line x1="639.10" y1="353.80" x2="640.70" y2="353.80" stroke="#333" stroke-width="0.6"/>
<text x="645.50" y="356.65" font-size="8.00" text-anchor="start" fill="#222" font-weight="normal" font-family="Liberation Sans, sans-serif" >1.0</text>
<line x1="639.10" y1="368.90" x2="640.70" y2="368.90" stroke="#333" stroke-width="0.6"/>
<text x="645.50" y="371.75" font-size="8.00" text-anchor="start" fill="#222" font-weight="normal" font-family="Liberation Sans, sans-serif" >0.5</text>
<text transform="translate(663.60,316.50) rotate(90)" font-size="8.5" text-anchor="middle" fill="#222" font-family="Liberation Sans, sans-serif">(m<tspan font-size="6.0" dy="-2.8">−2</tspan><tspan dy="2.8"> s</tspan><tspan font-size="6.0" dy="-2.8">−1</tspan><tspan dy="2.8">) × 10</tspan><tspan font-size="6.0" dy="-2.8">20</tspan></text>
<text x="222.90" y="433.40" font-size="12.50" text-anchor="start" fill="#000" font-weight="bold" font-family="Liberation Sans, sans-serif"  stroke="#000" stroke-width="0.35">g</text>
<rect x="243.2" y="431.4" width="212.0" height="170.2" fill="none" stroke="#e8175d" stroke-width="1.25" stroke-dasharray="3.1 2.16"/>
<rect x="472.8" y="431.3" width="123.2" height="170.3" fill="none" stroke="#1c62b4" stroke-width="1.25" stroke-dasharray="3.1 2.16"/>
<text x="456.60" y="426.90" font-size="8.70" text-anchor="end" fill="#222" font-weight="normal" font-family="Liberation Sans, sans-serif" >Facet 1</text>
<text x="595.80" y="426.90" font-size="8.70" text-anchor="end" fill="#222" font-weight="normal" font-family="Liberation Sans, sans-serif" >Facet 2</text>
<text x="247.10" y="445.00" font-size="8.30" text-anchor="start" fill="#222" font-weight="normal" font-family="Liberation Sans, sans-serif" >1–2</text>
<text x="352.40" y="445.00" font-size="8.30" text-anchor="start" fill="#222" font-weight="normal" font-family="Liberation Sans, sans-serif" >1–3</text>
<text x="247.10" y="531.20" font-size="8.30" text-anchor="start" fill="#222" font-weight="normal" font-family="Liberation Sans, sans-serif" >1–6</text>
<text x="352.40" y="531.20" font-size="8.30" text-anchor="start" fill="#222" font-weight="normal" font-family="Liberation Sans, sans-serif" >1–7</text>
<text x="479.00" y="444.80" font-size="8.30" text-anchor="start" fill="#222" font-weight="normal" font-family="Liberation Sans, sans-serif" >2–1</text>
<text x="479.00" y="531.20" font-size="8.30" text-anchor="start" fill="#222" font-weight="normal" font-family="Liberation Sans, sans-serif" >2–6</text>
<defs>
<radialGradient id="gblue" cx="0.52" cy="0.5" r="0.62"><stop offset="0" stop-color="#0410e6"/><stop offset="0.4" stop-color="#030cc8"/><stop offset="0.75" stop-color="#02068e"/><stop offset="1" stop-color="#01023c"/></radialGradient>
<linearGradient id="g12" x1="0" y1="0" x2="1" y2="0"><stop offset="0.000" stop-color="#ff2000" stop-opacity="1.00"/><stop offset="0.020" stop-color="#ffe000" stop-opacity="1.00"/><stop offset="0.045" stop-color="#20e0ff" stop-opacity="0.90"/><stop offset="0.090" stop-color="#1030e0" stop-opacity="0.00"/><stop offset="0.600" stop-color="#1030e0" stop-opacity="0.00"/><stop offset="0.680" stop-color="#10a0ff" stop-opacity="0.75"/><stop offset="0.760" stop-color="#30f0e0" stop-opacity="1.00"/><stop offset="0.830" stop-color="#d0f040" stop-opacity="1.00"/><stop offset="0.890" stop-color="#ff9000" stop-opacity="1.00"/><stop offset="0.950" stop-color="#e02000" stop-opacity="1.00"/><stop offset="1.000" stop-color="#900000" stop-opacity="1.00"/></linearGradient>
<linearGradient id="g13" x1="0" y1="0" x2="1" y2="0"><stop offset="0.000" stop-color="#900000" stop-opacity="1.00"/><stop offset="0.050" stop-color="#e02000" stop-opacity="1.00"/><stop offset="0.110" stop-color="#ff9000" stop-opacity="1.00"/><stop offset="0.170" stop-color="#d0f040" stop-opacity="1.00"/><stop offset="0.240" stop-color="#30f0e0" stop-opacity="1.00"/><stop offset="0.320" stop-color="#10a0ff" stop-opacity="0.75"/><stop offset="0.420" stop-color="#1030e0" stop-opacity="0.00"/><stop offset="0.930" stop-color="#1030e0" stop-opacity="0.00"/><stop offset="0.965" stop-color="#20e0ff" stop-opacity="0.80"/><stop offset="1.000" stop-color="#ffe000" stop-opacity="1.00"/></linearGradient>
<linearGradient id="g16" x1="0" y1="0" x2="1" y2="0"><stop offset="0.000" stop-color="#ffe000" stop-opacity="1.00"/><stop offset="0.020" stop-color="#60f0a0" stop-opacity="1.00"/><stop offset="0.045" stop-color="#20c0ff" stop-opacity="0.80"/><stop offset="0.090" stop-color="#1030e0" stop-opacity="0.00"/><stop offset="0.680" stop-color="#1030e0" stop-opacity="0.00"/><stop offset="0.770" stop-color="#10a0ff" stop-opacity="0.70"/><stop offset="0.860" stop-color="#30f0e0" stop-opacity="1.00"/><stop offset="0.930" stop-color="#c0f050" stop-opacity="1.00"/><stop offset="0.970" stop-color="#ff9000" stop-opacity="1.00"/><stop offset="1.000" stop-color="#e02000" stop-opacity="1.00"/></linearGradient>
<linearGradient id="g17" x1="0" y1="0" x2="1" y2="0"><stop offset="0.000" stop-color="#e03000" stop-opacity="1.00"/><stop offset="0.040" stop-color="#ffa000" stop-opacity="1.00"/><stop offset="0.090" stop-color="#e0f040" stop-opacity="1.00"/><stop offset="0.160" stop-color="#30f0e0" stop-opacity="1.00"/><stop offset="0.260" stop-color="#10a0ff" stop-opacity="0.70"/><stop offset="0.360" stop-color="#1030e0" stop-opacity="0.00"/><stop offset="0.950" stop-color="#1030e0" stop-opacity="0.00"/><stop offset="0.980" stop-color="#20c0ff" stop-opacity="0.60"/><stop offset="1.000" stop-color="#60f0a0" stop-opacity="0.90"/></linearGradient>
<radialGradient id="grim" cx="0.47" cy="0.45" r="0.56"><stop offset="0" stop-color="#000" stop-opacity="0"/><stop offset="0.68" stop-color="#000" stop-opacity="0"/><stop offset="0.86" stop-color="#000" stop-opacity="0.28"/><stop offset="1" stop-color="#000" stop-opacity="0.68"/></radialGradient>
<filter id="blurR" x="-20%" y="-20%" width="140%" height="140%"><feGaussianBlur stdDeviation="0.55"/></filter>
<radialGradient id="gspec"><stop offset="0" stop-color="#fff" stop-opacity="0.9"/><stop offset="0.3" stop-color="#d0dcff" stop-opacity="0.55"/><stop offset="1" stop-color="#6070ff" stop-opacity="0"/></radialGradient>
<radialGradient id="gspec2"><stop offset="0" stop-color="#fff" stop-opacity="0.45"/><stop offset="1" stop-color="#a0a0ff" stop-opacity="0"/></radialGradient>
<radialGradient id="g21" cx="0.515" cy="0.485" r="0.515"><stop offset="0" stop-color="#7c0c0c"/><stop offset="0.66" stop-color="#800a0a"/><stop offset="0.78" stop-color="#b01010"/><stop offset="0.845" stop-color="#f03000"/><stop offset="0.89" stop-color="#ffd800"/><stop offset="0.925" stop-color="#60f0b0"/><stop offset="0.96" stop-color="#10b0ff"/><stop offset="1" stop-color="#1040d0"/></radialGradient>
<radialGradient id="g26" cx="0.515" cy="0.47" r="0.535"><stop offset="0" stop-color="#d41606"/><stop offset="0.26" stop-color="#f03010"/><stop offset="0.41" stop-color="#ff8000"/><stop offset="0.54" stop-color="#ffe020"/><stop offset="0.64" stop-color="#a0f870"/><stop offset="0.72" stop-color="#30e0e0"/><stop offset="0.80" stop-color="#0870ff"/><stop offset="0.89" stop-color="#0820b8"/><stop offset="0.96" stop-color="#040a60"/><stop offset="1" stop-color="#010228"/></radialGradient>
</defs>
<clipPath id="cpg12"><circle cx="304.2" cy="482.2" r="29.6"/></clipPath>
<radialGradient id="rgg12" gradientUnits="userSpaceOnUse" cx="407.8" cy="482.2" r="133.2"><stop offset="0.5556" stop-color="#800000" stop-opacity="1.00"/><stop offset="0.5733" stop-color="#d10000" stop-opacity="1.00"/><stop offset="0.5911" stop-color="#ff4c00" stop-opacity="1.00"/><stop offset="0.6133" stop-color="#ffdb00" stop-opacity="1.00"/><stop offset="0.6356" stop-color="#94ff6b" stop-opacity="1.00"/><stop offset="0.6622" stop-color="#1affe5" stop-opacity="1.00"/><stop offset="0.6889" stop-color="#0094ff" stop-opacity="0.75"/><stop offset="0.7156" stop-color="#0000fa" stop-opacity="0.00"/><stop offset="1.0000" stop-color="#0000fa" stop-opacity="0.00"/></radialGradient>
<circle cx="304.2" cy="482.2" r="29.6" fill="url(#gblue)"/>
<g clip-path="url(#cpg12)">
<circle cx="304.2" cy="482.2" r="30.6" fill="url(#rgg12)"/>
</g>
<circle cx="304.2" cy="482.2" r="29.6" fill="url(#grim)"/>
<g clip-path="url(#cpg12)"><g filter="url(#blurR)">
<path d="M283.95 461.23 A29.15 29.15 0 0 0 283.95 503.17" fill="none" stroke="#b30000" stroke-opacity="1.00" stroke-width="1.10" stroke-linecap="round"/>
<path d="M283.54 462.93 A28.25 28.25 0 0 0 283.54 501.47" fill="none" stroke="#ff4c00" stroke-opacity="1.00" stroke-width="1.00" stroke-linecap="round"/>
<path d="M283.21 464.59 A27.40 27.40 0 0 0 283.21 499.81" fill="none" stroke="#fff000" stroke-opacity="1.00" stroke-width="1.00" stroke-linecap="round"/>
<path d="M282.96 466.19 A26.60 26.60 0 0 0 282.96 498.21" fill="none" stroke="#6bff94" stroke-opacity="1.00" stroke-width="1.00" stroke-linecap="round"/>
<path d="M282.89 467.83 A25.70 25.70 0 0 0 282.89 496.57" fill="none" stroke="#00f0ff" stroke-opacity="0.85" stroke-width="1.10" stroke-linecap="round"/>
<path d="M282.81 469.85 A24.70 24.70 0 0 0 282.81 494.55" fill="none" stroke="#0080ff" stroke-opacity="0.50" stroke-width="1.20" stroke-linecap="round"/>
</g></g>
<circle cx="294.6" cy="490.8" r="7.5" fill="url(#gspec)"/>
<circle cx="322.9" cy="473.2" r="7.0" fill="url(#gspec2)"/>
<ellipse cx="302.7" cy="455.8" rx="6" ry="2.6" fill="url(#gspec2)" opacity="0.7"/>
<clipPath id="cpg13"><circle cx="402.8" cy="482.2" r="29.6"/></clipPath>
<radialGradient id="rgg13" gradientUnits="userSpaceOnUse" cx="299.2" cy="482.2" r="133.2"><stop offset="0.5556" stop-color="#800000" stop-opacity="1.00"/><stop offset="0.5778" stop-color="#e50000" stop-opacity="1.00"/><stop offset="0.5956" stop-color="#ff6100" stop-opacity="1.00"/><stop offset="0.6133" stop-color="#fff000" stop-opacity="1.00"/><stop offset="0.6356" stop-color="#80ff80" stop-opacity="1.00"/><stop offset="0.6711" stop-color="#05fffa" stop-opacity="1.00"/><stop offset="0.7156" stop-color="#008aff" stop-opacity="0.70"/><stop offset="0.7511" stop-color="#0000fa" stop-opacity="0.00"/><stop offset="1.0000" stop-color="#0000fa" stop-opacity="0.00"/></radialGradient>
<circle cx="402.8" cy="482.2" r="29.6" fill="url(#gblue)"/>
<g clip-path="url(#cpg13)">
<circle cx="402.8" cy="482.2" r="30.6" fill="url(#rgg13)"/>
</g>
<circle cx="402.8" cy="482.2" r="29.6" fill="url(#grim)"/>
<g clip-path="url(#cpg13)"><g filter="url(#blurR)">
<path d="M428.04 467.62 A29.15 29.15 0 0 1 428.04 496.77" fill="none" stroke="#ff4c00" stroke-opacity="0.90" stroke-width="0.80" stroke-linecap="round"/>
<path d="M427.88 468.87 A28.40 28.40 0 0 1 427.88 495.53" fill="none" stroke="#80ff80" stroke-opacity="0.70" stroke-width="0.80" stroke-linecap="round"/>
<path d="M427.61 470.10 A27.60 27.60 0 0 1 427.61 494.30" fill="none" stroke="#00b3ff" stroke-opacity="0.40" stroke-width="0.90" stroke-linecap="round"/>
</g></g>
<circle cx="392.5" cy="490.8" r="7.5" fill="url(#gspec)"/>
<circle cx="418.2" cy="473.2" r="7.0" fill="url(#gspec2)"/>
<ellipse cx="401.3" cy="455.8" rx="6" ry="2.6" fill="url(#gspec2)" opacity="0.7"/>
<clipPath id="cpg16"><circle cx="304.2" cy="562.5" r="29.4"/></clipPath>
<radialGradient id="rgg16" gradientUnits="userSpaceOnUse" cx="407.1" cy="562.5" r="132.3"><stop offset="0.5556" stop-color="#e50000" stop-opacity="1.00"/><stop offset="0.5622" stop-color="#ff4c00" stop-opacity="1.00"/><stop offset="0.5733" stop-color="#faff05" stop-opacity="1.00"/><stop offset="0.5911" stop-color="#6bff94" stop-opacity="1.00"/><stop offset="0.6222" stop-color="#1affe5" stop-opacity="1.00"/><stop offset="0.6622" stop-color="#0094ff" stop-opacity="0.70"/><stop offset="0.6978" stop-color="#0000fa" stop-opacity="0.00"/><stop offset="1.0000" stop-color="#0000fa" stop-opacity="0.00"/></radialGradient>
<circle cx="304.2" cy="562.5" r="29.4" fill="url(#gblue)"/>
<g clip-path="url(#cpg16)">
<circle cx="304.2" cy="562.5" r="30.4" fill="url(#rgg16)"/>
</g>
<circle cx="304.2" cy="562.5" r="29.4" fill="url(#grim)"/>
<g clip-path="url(#cpg16)"><g filter="url(#blurR)">
<path d="M282.02 543.89 A28.95 28.95 0 0 0 282.02 581.11" fill="none" stroke="#ff1a00" stroke-opacity="1.00" stroke-width="1.00" stroke-linecap="round"/>
<path d="M281.76 545.59 A28.10 28.10 0 0 0 281.76 579.41" fill="none" stroke="#ffdb00" stroke-opacity="1.00" stroke-width="0.90" stroke-linecap="round"/>
<path d="M281.57 547.23 A27.30 27.30 0 0 0 281.57 577.77" fill="none" stroke="#80ff80" stroke-opacity="1.00" stroke-width="0.90" stroke-linecap="round"/>
<path d="M281.49 548.85 A26.50 26.50 0 0 0 281.49 576.15" fill="none" stroke="#00f0ff" stroke-opacity="0.85" stroke-width="1.00" stroke-linecap="round"/>
<path d="M281.60 550.48 A25.60 25.60 0 0 0 281.60 574.52" fill="none" stroke="#0080ff" stroke-opacity="0.50" stroke-width="1.10" stroke-linecap="round"/>
</g></g>
<circle cx="294.6" cy="571.1" r="7.5" fill="url(#gspec)"/>
<circle cx="324.1" cy="553.5" r="7.0" fill="url(#gspec2)"/>
<ellipse cx="302.7" cy="536.3" rx="6" ry="2.6" fill="url(#gspec2)" opacity="0.7"/>
<clipPath id="cpg17"><circle cx="401.6" cy="562.5" r="29.4"/></clipPath>
<radialGradient id="rgg17" gradientUnits="userSpaceOnUse" cx="298.7" cy="562.5" r="132.3"><stop offset="0.5556" stop-color="#ff1a00" stop-opacity="1.00"/><stop offset="0.5689" stop-color="#ff9e00" stop-opacity="1.00"/><stop offset="0.5867" stop-color="#e5ff1a" stop-opacity="1.00"/><stop offset="0.6089" stop-color="#61ff9e" stop-opacity="1.00"/><stop offset="0.6444" stop-color="#05fffa" stop-opacity="1.00"/><stop offset="0.6889" stop-color="#008aff" stop-opacity="0.70"/><stop offset="0.7333" stop-color="#0000fa" stop-opacity="0.00"/><stop offset="1.0000" stop-color="#0000fa" stop-opacity="0.00"/></radialGradient>
<circle cx="401.6" cy="562.5" r="29.4" fill="url(#gblue)"/>
<g clip-path="url(#cpg17)">
<circle cx="401.6" cy="562.5" r="30.4" fill="url(#rgg17)"/>
</g>
<circle cx="401.6" cy="562.5" r="29.4" fill="url(#grim)"/>
<g clip-path="url(#cpg17)"><g filter="url(#blurR)">
<path d="M426.67 548.02 A28.95 28.95 0 0 1 426.67 576.98" fill="none" stroke="#ff4c00" stroke-opacity="0.90" stroke-width="0.80" stroke-linecap="round"/>
<path d="M426.50 549.26 A28.20 28.20 0 0 1 426.50 575.74" fill="none" stroke="#80ff80" stroke-opacity="0.70" stroke-width="0.80" stroke-linecap="round"/>
<path d="M426.23 550.49 A27.40 27.40 0 0 1 426.23 574.51" fill="none" stroke="#00b3ff" stroke-opacity="0.40" stroke-width="0.90" stroke-linecap="round"/>
</g></g>
<circle cx="391.0" cy="571.1" r="7.5" fill="url(#gspec)"/>
<circle cx="418.2" cy="553.5" r="7.0" fill="url(#gspec2)"/>
<ellipse cx="400.1" cy="536.3" rx="6" ry="2.6" fill="url(#gspec2)" opacity="0.7"/>
<circle cx="534.2" cy="481.4" r="29.6" fill="url(#g21)"/>
<circle cx="534.2" cy="481.4" r="29.6" fill="none" stroke="#2a6ad0" stroke-width="0.7"/>
<circle cx="524.2" cy="489.8" r="9.5" fill="url(#gspec)"/>
<circle cx="550.7" cy="472.7" r="8" fill="url(#gspec2)"/>
<ellipse cx="534.2" cy="560.0" rx="31.2" ry="30.3" fill="url(#g26)"/>
<circle cx="519.6" cy="567.8" r="6" fill="url(#gspec2)"/>
<circle cx="536.7" cy="586.5" r="6" fill="url(#gspec2)"/>
<circle cx="547.0" cy="546.0" r="5" fill="url(#gspec2)"/>
<line x1="251.90" y1="593.30" x2="251.90" y2="574.60" stroke="#3fae49" stroke-width="1.50" stroke-linecap="round"/>
<path d="M251.90 570.30 L254.20 575.10 L249.60 575.10 Z" fill="#3fae49"/>
<line x1="251.90" y1="593.30" x2="270.80" y2="593.30" stroke="#e8175d" stroke-width="1.50" stroke-linecap="round"/>
<path d="M275.10 593.30 L270.30 595.60 L270.30 591.00 Z" fill="#e8175d"/>
<circle cx="251.9" cy="593.3" r="3.4" fill="#1e78d2"/>
<text x="251.90" y="595.30" font-size="7" text-anchor="middle" fill="#111" font-style="italic" font-family="Liberation Sans, sans-serif">z</text>
<text x="251.30" y="567.70" font-size="7.60" text-anchor="middle" fill="#222" font-style="italic" font-family="Liberation Sans, sans-serif">y</text>
<text x="278.10" y="595.50" font-size="7.60" text-anchor="middle" fill="#222" font-style="italic" font-family="Liberation Sans, sans-serif">x</text>
<line x1="480.60" y1="591.80" x2="480.60" y2="573.10" stroke="#4a86c8" stroke-width="1.50" stroke-linecap="round"/>
<path d="M480.60 568.80 L482.90 573.60 L478.30 573.60 Z" fill="#4a86c8"/>
<line x1="480.60" y1="591.80" x2="499.50" y2="591.80" stroke="#3fae49" stroke-width="1.50" stroke-linecap="round"/>
<path d="M503.80 591.80 L499.00 594.10 L499.00 589.50 Z" fill="#3fae49"/>
<circle cx="480.6" cy="591.8" r="3.4" fill="#e8175d"/>
<text x="480.60" y="593.80" font-size="7" text-anchor="middle" fill="#111" font-style="italic" font-family="Liberation Sans, sans-serif">x</text>
<text x="480.00" y="566.20" font-size="7.60" text-anchor="middle" fill="#222" font-style="italic" font-family="Liberation Sans, sans-serif">z</text>
<text x="506.80" y="594.00" font-size="7.60" text-anchor="middle" fill="#222" font-style="italic" font-family="Liberation Sans, sans-serif">y</text>
<line x1="582.90" y1="513.20" x2="565.79" y2="512.20" stroke="#3fae49" stroke-width="1.10" stroke-linecap="round"/>
<path d="M562.30 512.00 L566.39 510.54 L566.19 513.93 Z" fill="#3fae49"/>
<line x1="582.90" y1="513.20" x2="578.25" y2="505.82" stroke="#e8175d" stroke-width="1.10" stroke-linecap="round"/>
<path d="M576.60 503.20 L579.87 505.39 L577.17 507.10 Z" fill="#e8175d"/>
<line x1="582.90" y1="513.20" x2="586.47" y2="496.42" stroke="#4a86c8" stroke-width="1.10" stroke-linecap="round"/>
<path d="M587.20 493.00 L588.03 497.27 L584.70 496.56 Z" fill="#4a86c8"/>
<text x="587.60" y="490.60" font-size="7.40" text-anchor="middle" fill="#222" font-style="italic" font-family="Liberation Sans, sans-serif">z</text>
<text x="558.00" y="513.00" font-size="7.40" text-anchor="middle" fill="#222" font-style="italic" font-family="Liberation Sans, sans-serif">y</text>
<text x="572.90" y="501.60" font-size="7.40" text-anchor="middle" fill="#222" font-style="italic" font-family="Liberation Sans, sans-serif">x</text>
<rect x="642.10" y="445.00" width="11.00" height="135.50" fill="url(#jetv)"/>
<line x1="651.50" y1="460.40" x2="653.10" y2="460.40" stroke="#333" stroke-width="0.6"/>
<text x="656.90" y="463.25" font-size="8.00" text-anchor="start" fill="#222" font-weight="normal" font-family="Liberation Sans, sans-serif" >4.0</text>
<line x1="651.50" y1="475.20" x2="653.10" y2="475.20" stroke="#333" stroke-width="0.6"/>
<text x="656.90" y="478.05" font-size="8.00" text-anchor="start" fill="#222" font-weight="normal" font-family="Liberation Sans, sans-serif" >3.5</text>
<line x1="651.50" y1="490.30" x2="653.10" y2="490.30" stroke="#333" stroke-width="0.6"/>
<text x="656.90" y="493.15" font-size="8.00" text-anchor="start" fill="#222" font-weight="normal" font-family="Liberation Sans, sans-serif" >3.0</text>
<line x1="651.50" y1="505.00" x2="653.10" y2="505.00" stroke="#333" stroke-width="0.6"/>
<text x="656.90" y="507.85" font-size="8.00" text-anchor="start" fill="#222" font-weight="normal" font-family="Liberation Sans, sans-serif" >2.5</text>
<line x1="651.50" y1="520.10" x2="653.10" y2="520.10" stroke="#333" stroke-width="0.6"/>
<text x="656.90" y="522.95" font-size="8.00" text-anchor="start" fill="#222" font-weight="normal" font-family="Liberation Sans, sans-serif" >2.0</text>
<line x1="651.50" y1="535.20" x2="653.10" y2="535.20" stroke="#333" stroke-width="0.6"/>
<text x="656.90" y="538.05" font-size="8.00" text-anchor="start" fill="#222" font-weight="normal" font-family="Liberation Sans, sans-serif" >1.5</text>
<line x1="651.50" y1="550.00" x2="653.10" y2="550.00" stroke="#333" stroke-width="0.6"/>
<text x="656.90" y="552.85" font-size="8.00" text-anchor="start" fill="#222" font-weight="normal" font-family="Liberation Sans, sans-serif" >1.0</text>
<line x1="651.50" y1="565.00" x2="653.10" y2="565.00" stroke="#333" stroke-width="0.6"/>
<text x="656.90" y="567.85" font-size="8.00" text-anchor="start" fill="#222" font-weight="normal" font-family="Liberation Sans, sans-serif" >0.5</text>
<text transform="translate(674.80,513.00) rotate(90)" font-size="8.5" text-anchor="middle" fill="#222" font-family="Liberation Sans, sans-serif">(m<tspan font-size="6.0" dy="-2.8">−2</tspan><tspan dy="2.8"> s</tspan><tspan font-size="6.0" dy="-2.8">−1</tspan><tspan dy="2.8">) × 10</tspan><tspan font-size="6.0" dy="-2.8">20</tspan></text>
</svg>
</body></html>
